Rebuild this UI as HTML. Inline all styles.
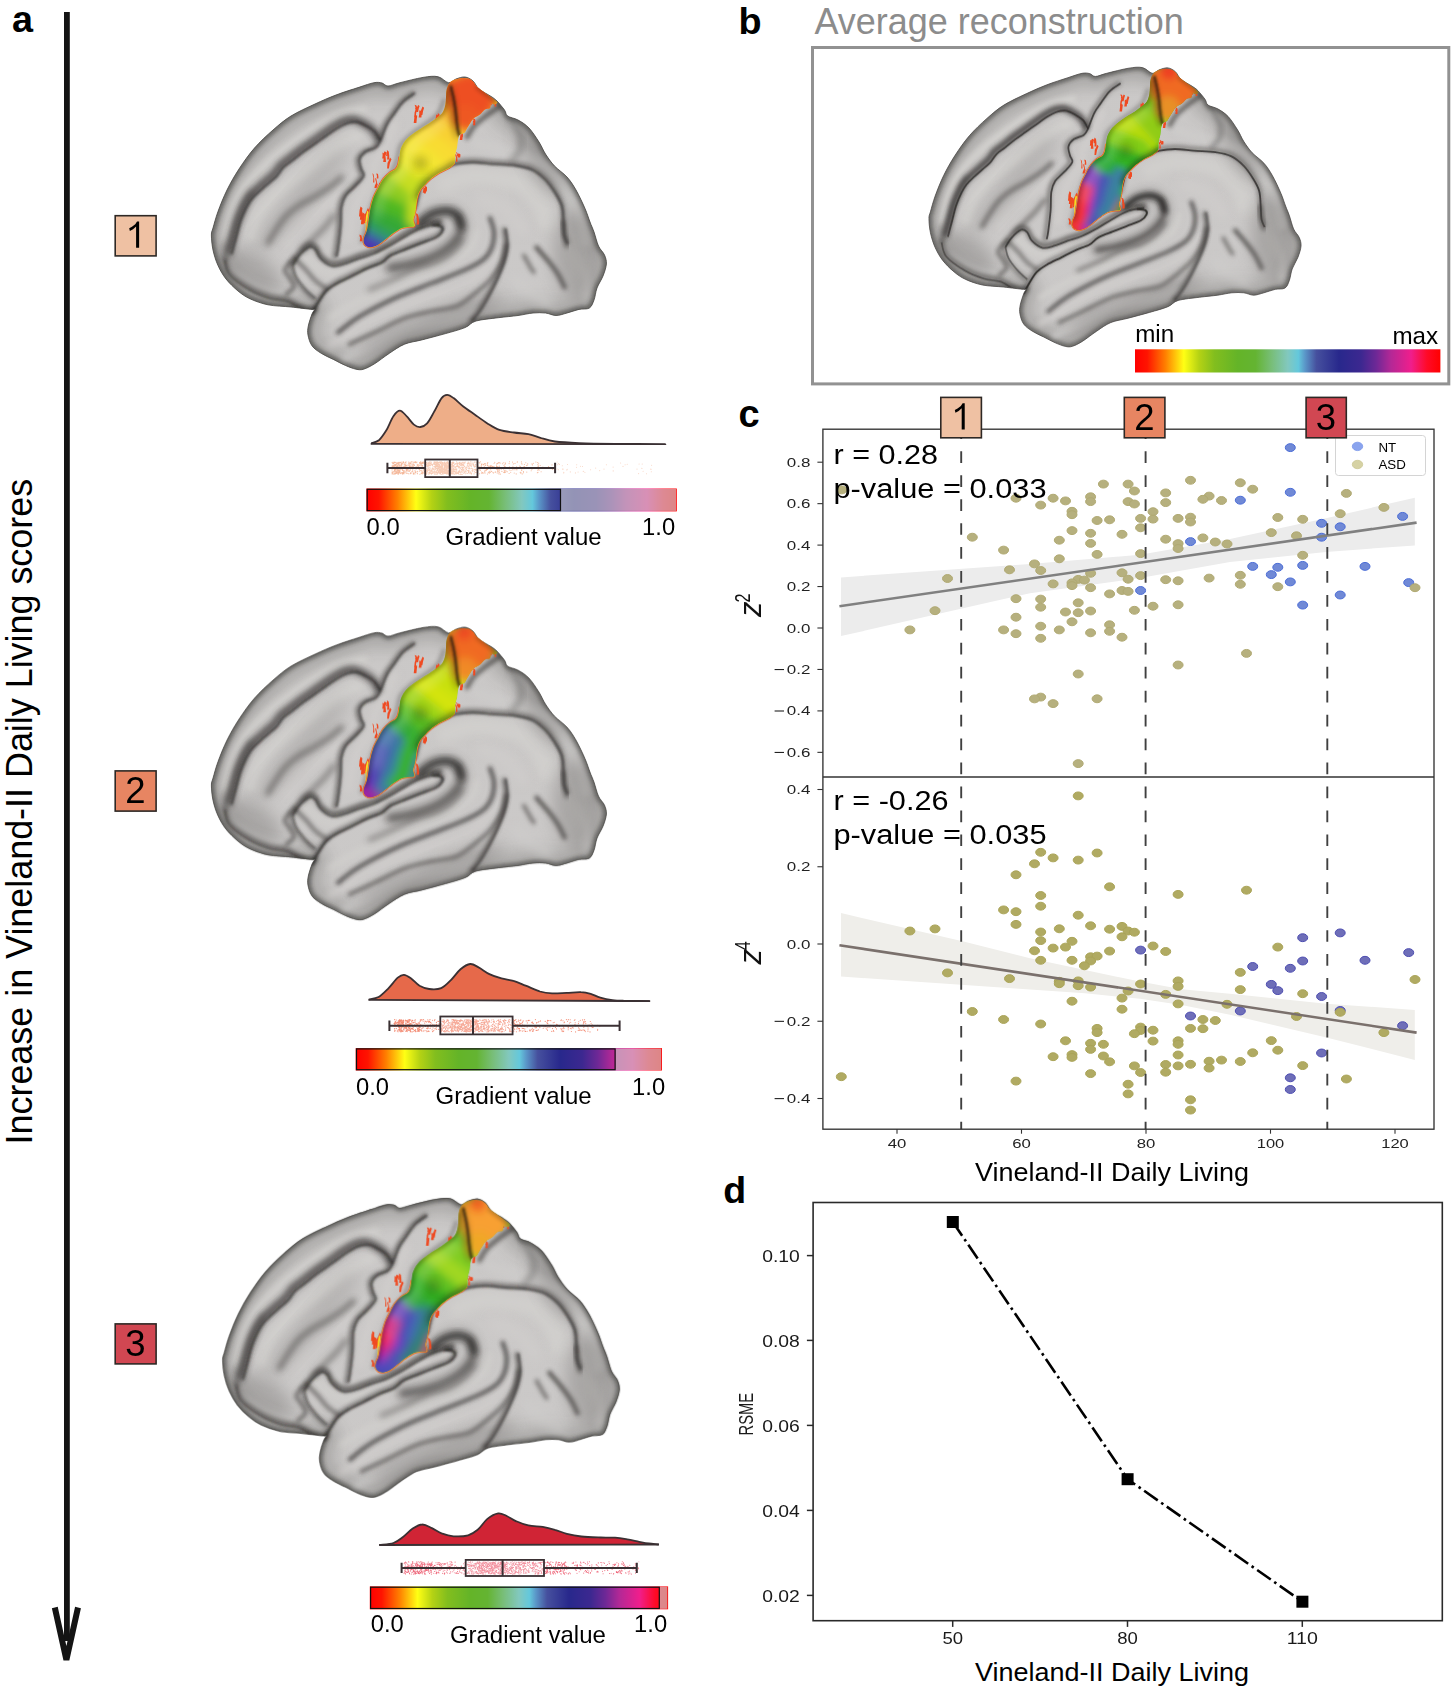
<!DOCTYPE html><html><head><meta charset="utf-8"><title>figure</title><style>html,body{margin:0;padding:0;background:#fff}svg{display:block}text{font-family:"Liberation Sans",sans-serif}</style></head><body>
<svg width="1452" height="1690" viewBox="0 0 1452 1690">
<defs>
<linearGradient id="cm" x1="0" x2="1" y1="0" y2="0"><stop offset="0%" stop-color="#ff0000"/><stop offset="4%" stop-color="#ff1400"/><stop offset="10%" stop-color="#ff8000"/><stop offset="16%" stop-color="#ffff14"/><stop offset="21%" stop-color="#b4d214"/><stop offset="26%" stop-color="#82be1e"/><stop offset="33.6%" stop-color="#64b428"/><stop offset="39.5%" stop-color="#64b432"/><stop offset="44.7%" stop-color="#78be78"/><stop offset="50%" stop-color="#82c8be"/><stop offset="53.5%" stop-color="#64c8dc"/><stop offset="55.7%" stop-color="#5a96c8"/><stop offset="59.4%" stop-color="#46509e"/><stop offset="66.8%" stop-color="#28288c"/><stop offset="74%" stop-color="#3c2890"/><stop offset="79%" stop-color="#6e2896"/><stop offset="83.8%" stop-color="#b42896"/><stop offset="90.4%" stop-color="#f01e8c"/><stop offset="95.6%" stop-color="#ff0a28"/><stop offset="100%" stop-color="#ff0000"/></linearGradient>
<filter id="b05" x="-50%" y="-50%" width="200%" height="200%"><feGaussianBlur stdDeviation="0.8"/></filter>
<filter id="b1" x="-50%" y="-50%" width="200%" height="200%"><feGaussianBlur stdDeviation="1"/></filter>
<filter id="b2" x="-50%" y="-50%" width="200%" height="200%"><feGaussianBlur stdDeviation="2"/></filter>
<filter id="b3" x="-50%" y="-50%" width="200%" height="200%"><feGaussianBlur stdDeviation="3"/></filter>
<filter id="b4" x="-50%" y="-50%" width="200%" height="200%"><feGaussianBlur stdDeviation="4"/></filter>
<filter id="b5" x="-50%" y="-50%" width="200%" height="200%"><feGaussianBlur stdDeviation="5"/></filter>
<filter id="b8" x="-50%" y="-50%" width="200%" height="200%"><feGaussianBlur stdDeviation="8"/></filter>
<clipPath id="bclip"><path d="M211.4,235.0C211.4,231.3 211.9,231.9 213.0,228.0C214.1,224.1 215.7,217.8 218.0,211.5C220.3,205.2 223.5,197.1 227.0,190.0C230.5,182.9 234.4,176.0 239.0,169.0C243.6,162.0 248.8,154.5 254.5,148.0C260.2,141.5 266.9,135.3 273.0,130.0C279.1,124.7 284.0,120.3 291.0,116.0C298.0,111.7 307.5,107.5 315.0,104.0C322.5,100.5 328.7,97.8 336.0,95.0C343.3,92.2 352.7,89.3 359.0,87.3C365.3,85.2 370.2,83.4 374.0,82.7C377.8,82.0 379.7,82.5 382.0,83.0C384.3,83.5 385.0,86.0 388.0,86.0C391.0,86.0 394.2,84.1 400.0,82.7C405.8,81.3 416.7,78.4 423.0,77.4C429.3,76.4 433.8,75.8 438.0,76.7C442.2,77.6 445.5,82.3 448.5,82.7C451.5,83.1 453.2,80.0 456.0,79.0C458.8,78.0 462.2,76.7 465.0,77.0C467.8,77.3 470.7,79.0 473.0,81.0C475.3,83.0 476.0,86.4 479.0,89.0C482.0,91.6 488.0,94.4 491.0,96.4C494.0,98.4 494.8,98.7 497.0,101.0C499.2,103.3 502.7,107.5 504.5,110.0C506.3,112.5 505.4,114.3 507.6,116.0C509.9,117.7 514.4,118.0 518.0,120.0C521.6,122.0 525.5,124.3 529.0,128.0C532.5,131.7 536.2,137.7 539.0,142.0C541.8,146.3 542.9,150.0 545.5,154.0C548.1,158.0 550.9,162.2 554.5,166.0C558.1,169.8 563.4,173.0 567.0,177.0C570.6,181.0 573.0,184.8 576.0,190.0C579.0,195.2 582.7,203.2 585.0,208.5C587.3,213.8 588.5,218.1 590.0,222.0C591.5,225.9 592.6,228.0 594.0,232.0C595.4,236.0 596.8,242.2 598.5,246.0C600.2,249.8 603.2,252.0 604.5,255.0C605.8,258.0 606.6,260.5 606.4,264.0C606.1,267.5 604.6,272.0 603.0,276.0C601.4,280.0 598.5,284.0 597.0,288.0C595.5,292.0 595.3,296.7 594.0,300.0C592.7,303.3 591.9,306.4 589.4,308.0C586.9,309.6 582.7,308.6 579.0,309.4C575.3,310.2 570.8,312.0 567.0,313.0C563.2,314.0 559.6,315.5 556.0,315.5C552.4,315.5 549.3,313.4 545.5,313.0C541.7,312.6 537.6,312.6 533.0,313.0C528.4,313.4 523.8,314.7 518.0,315.5C512.2,316.3 505.5,316.8 498.5,317.7C491.5,318.6 481.6,319.4 476.0,321.0C470.4,322.6 470.1,325.5 465.0,327.6C459.9,329.7 452.6,331.6 445.5,333.6C438.4,335.6 429.5,337.9 422.7,339.7C415.9,341.5 410.1,341.9 404.5,344.2C398.9,346.5 394.4,350.0 389.4,353.3C384.3,356.6 378.5,361.4 374.2,364.0C369.9,366.6 366.6,368.3 363.6,369.2C360.6,370.1 359.0,369.8 356.0,369.2C353.0,368.6 349.3,367.1 345.5,365.5C341.7,363.9 337.4,361.4 333.3,359.4C329.2,357.4 324.8,355.6 321.2,353.3C317.6,351.0 314.2,348.9 312.0,345.8C309.8,342.8 308.6,338.3 308.0,335.0C307.4,331.7 307.6,329.5 308.3,326.0C309.0,322.5 310.9,316.8 312.0,314.0C313.1,311.2 315.0,309.8 315.0,309.0C315.0,308.2 316.0,309.7 312.0,309.4C308.0,309.1 298.3,307.8 291.0,307.0C283.7,306.2 274.8,306.2 268.0,304.8C261.2,303.4 255.0,301.1 250.0,298.8C245.0,296.5 242.0,294.3 238.0,291.0C234.0,287.7 229.3,283.2 226.0,279.0C222.7,274.8 220.2,270.3 218.0,265.5C215.8,260.7 214.1,255.1 213.0,250.0C211.9,244.9 211.4,238.7 211.4,235.0Z"/></clipPath>
<clipPath id="sclip"><path d="M449.1,83.6C450.3,81.9 451.9,80.7 454.0,79.8C456.1,78.9 459.0,78.2 461.5,78.0C464.0,77.8 466.8,77.9 468.9,78.6C471.0,79.3 472.6,81.1 473.9,82.3C475.1,83.5 474.9,84.5 476.4,86.0C477.8,87.5 480.1,89.1 482.6,91.0C485.1,92.9 488.7,95.4 491.2,97.2C493.7,99.0 496.8,100.9 497.4,102.1C498.0,103.3 496.0,104.3 495.0,104.6C494.0,104.9 492.0,103.4 491.2,104.0C490.4,104.6 491.0,107.4 490.0,108.3C489.0,109.2 486.6,108.6 485.0,109.6C483.4,110.6 482.0,113.0 480.1,114.5C478.2,116.0 475.5,116.8 473.9,118.3C472.2,119.8 471.4,121.3 470.2,123.2C468.9,125.1 467.4,127.8 466.4,129.4C465.4,131.1 465.1,132.2 464.0,133.1C462.9,134.0 460.6,133.8 459.6,135.0C458.6,136.2 458.2,138.6 457.8,140.6C457.4,142.6 457.5,144.5 457.1,146.8C456.7,149.1 455.7,151.5 455.3,154.2C454.9,156.9 455.7,160.6 454.7,162.9C453.7,165.2 451.7,166.2 449.1,167.8C446.5,169.5 442.3,170.9 439.2,172.8C436.1,174.7 433.0,176.9 430.5,179.0C428.0,181.1 426.2,183.1 424.3,185.2C422.4,187.3 420.5,189.1 419.3,191.4C418.1,193.7 417.5,195.9 416.9,198.8C416.3,201.7 416.0,206.1 415.6,208.8C415.2,211.5 414.8,213.2 414.4,215.0C414.0,216.8 413.1,218.1 413.1,219.9C413.1,221.8 415.0,225.0 414.4,226.1C413.8,227.2 411.5,226.4 409.4,226.7C407.3,227.0 404.5,227.1 402.0,228.0C399.5,228.9 396.6,231.0 394.5,232.3C392.4,233.6 391.5,234.6 389.6,236.0C387.8,237.4 385.5,239.4 383.4,241.0C381.3,242.6 379.3,244.3 377.2,245.3C375.1,246.3 372.9,247.1 371.0,247.2C369.1,247.3 367.2,246.7 366.0,245.9C364.8,245.1 363.9,243.6 363.6,242.2C363.3,240.8 363.7,239.2 364.2,237.3C364.7,235.5 366.0,233.8 366.7,231.1C367.4,228.4 367.9,224.9 368.5,221.2C369.1,217.5 369.6,212.7 370.4,208.8C371.2,204.9 372.2,201.1 373.5,197.6C374.8,194.1 376.8,190.8 378.4,187.7C380.0,184.6 381.5,181.5 383.4,179.0C385.3,176.5 387.5,174.5 389.6,172.8C391.7,171.2 394.4,170.6 395.8,169.1C397.2,167.6 397.7,166.2 398.3,164.1C398.9,162.0 399.1,159.2 399.5,156.7C399.9,154.2 399.9,151.8 400.7,149.3C401.5,146.8 402.8,144.1 404.5,141.8C406.2,139.5 408.2,137.7 410.7,135.6C413.2,133.5 416.2,131.5 419.3,129.4C422.4,127.3 426.2,125.3 429.3,123.2C432.4,121.1 435.6,118.8 437.9,117.0C440.2,115.2 441.6,114.2 442.9,112.1C444.1,110.0 444.9,107.1 445.4,104.6C445.9,102.1 445.8,99.7 446.0,97.2C446.2,94.7 446.1,92.1 446.6,89.8C447.1,87.5 447.9,85.3 449.1,83.6Z"/></clipPath>
<linearGradient id="bg" gradientUnits="userSpaceOnUse" x1="300" y1="80" x2="450" y2="370"><stop offset="0" stop-color="#cac8c7"/><stop offset="1" stop-color="#cbc9c8"/></linearGradient>
<g id="brain">
<path d="M211.4,235.0C211.4,231.3 211.9,231.9 213.0,228.0C214.1,224.1 215.7,217.8 218.0,211.5C220.3,205.2 223.5,197.1 227.0,190.0C230.5,182.9 234.4,176.0 239.0,169.0C243.6,162.0 248.8,154.5 254.5,148.0C260.2,141.5 266.9,135.3 273.0,130.0C279.1,124.7 284.0,120.3 291.0,116.0C298.0,111.7 307.5,107.5 315.0,104.0C322.5,100.5 328.7,97.8 336.0,95.0C343.3,92.2 352.7,89.3 359.0,87.3C365.3,85.2 370.2,83.4 374.0,82.7C377.8,82.0 379.7,82.5 382.0,83.0C384.3,83.5 385.0,86.0 388.0,86.0C391.0,86.0 394.2,84.1 400.0,82.7C405.8,81.3 416.7,78.4 423.0,77.4C429.3,76.4 433.8,75.8 438.0,76.7C442.2,77.6 445.5,82.3 448.5,82.7C451.5,83.1 453.2,80.0 456.0,79.0C458.8,78.0 462.2,76.7 465.0,77.0C467.8,77.3 470.7,79.0 473.0,81.0C475.3,83.0 476.0,86.4 479.0,89.0C482.0,91.6 488.0,94.4 491.0,96.4C494.0,98.4 494.8,98.7 497.0,101.0C499.2,103.3 502.7,107.5 504.5,110.0C506.3,112.5 505.4,114.3 507.6,116.0C509.9,117.7 514.4,118.0 518.0,120.0C521.6,122.0 525.5,124.3 529.0,128.0C532.5,131.7 536.2,137.7 539.0,142.0C541.8,146.3 542.9,150.0 545.5,154.0C548.1,158.0 550.9,162.2 554.5,166.0C558.1,169.8 563.4,173.0 567.0,177.0C570.6,181.0 573.0,184.8 576.0,190.0C579.0,195.2 582.7,203.2 585.0,208.5C587.3,213.8 588.5,218.1 590.0,222.0C591.5,225.9 592.6,228.0 594.0,232.0C595.4,236.0 596.8,242.2 598.5,246.0C600.2,249.8 603.2,252.0 604.5,255.0C605.8,258.0 606.6,260.5 606.4,264.0C606.1,267.5 604.6,272.0 603.0,276.0C601.4,280.0 598.5,284.0 597.0,288.0C595.5,292.0 595.3,296.7 594.0,300.0C592.7,303.3 591.9,306.4 589.4,308.0C586.9,309.6 582.7,308.6 579.0,309.4C575.3,310.2 570.8,312.0 567.0,313.0C563.2,314.0 559.6,315.5 556.0,315.5C552.4,315.5 549.3,313.4 545.5,313.0C541.7,312.6 537.6,312.6 533.0,313.0C528.4,313.4 523.8,314.7 518.0,315.5C512.2,316.3 505.5,316.8 498.5,317.7C491.5,318.6 481.6,319.4 476.0,321.0C470.4,322.6 470.1,325.5 465.0,327.6C459.9,329.7 452.6,331.6 445.5,333.6C438.4,335.6 429.5,337.9 422.7,339.7C415.9,341.5 410.1,341.9 404.5,344.2C398.9,346.5 394.4,350.0 389.4,353.3C384.3,356.6 378.5,361.4 374.2,364.0C369.9,366.6 366.6,368.3 363.6,369.2C360.6,370.1 359.0,369.8 356.0,369.2C353.0,368.6 349.3,367.1 345.5,365.5C341.7,363.9 337.4,361.4 333.3,359.4C329.2,357.4 324.8,355.6 321.2,353.3C317.6,351.0 314.2,348.9 312.0,345.8C309.8,342.8 308.6,338.3 308.0,335.0C307.4,331.7 307.6,329.5 308.3,326.0C309.0,322.5 310.9,316.8 312.0,314.0C313.1,311.2 315.0,309.8 315.0,309.0C315.0,308.2 316.0,309.7 312.0,309.4C308.0,309.1 298.3,307.8 291.0,307.0C283.7,306.2 274.8,306.2 268.0,304.8C261.2,303.4 255.0,301.1 250.0,298.8C245.0,296.5 242.0,294.3 238.0,291.0C234.0,287.7 229.3,283.2 226.0,279.0C222.7,274.8 220.2,270.3 218.0,265.5C215.8,260.7 214.1,255.1 213.0,250.0C211.9,244.9 211.4,238.7 211.4,235.0Z" fill="url(#bg)"/>
<g clip-path="url(#bclip)">
<path d="M211.4,235.0C211.4,231.3 211.9,231.9 213.0,228.0C214.1,224.1 215.7,217.8 218.0,211.5C220.3,205.2 223.5,197.1 227.0,190.0C230.5,182.9 234.4,176.0 239.0,169.0C243.6,162.0 248.8,154.5 254.5,148.0C260.2,141.5 266.9,135.3 273.0,130.0C279.1,124.7 284.0,120.3 291.0,116.0C298.0,111.7 307.5,107.5 315.0,104.0C322.5,100.5 328.7,97.8 336.0,95.0C343.3,92.2 352.7,89.3 359.0,87.3C365.3,85.2 370.2,83.4 374.0,82.7C377.8,82.0 379.7,82.5 382.0,83.0C384.3,83.5 385.0,86.0 388.0,86.0C391.0,86.0 394.2,84.1 400.0,82.7C405.8,81.3 416.7,78.4 423.0,77.4C429.3,76.4 433.8,75.8 438.0,76.7C442.2,77.6 445.5,82.3 448.5,82.7C451.5,83.1 453.2,80.0 456.0,79.0C458.8,78.0 462.2,76.7 465.0,77.0C467.8,77.3 470.7,79.0 473.0,81.0C475.3,83.0 476.0,86.4 479.0,89.0C482.0,91.6 488.0,94.4 491.0,96.4C494.0,98.4 494.8,98.7 497.0,101.0C499.2,103.3 502.7,107.5 504.5,110.0C506.3,112.5 505.4,114.3 507.6,116.0C509.9,117.7 514.4,118.0 518.0,120.0C521.6,122.0 525.5,124.3 529.0,128.0C532.5,131.7 536.2,137.7 539.0,142.0C541.8,146.3 542.9,150.0 545.5,154.0C548.1,158.0 550.9,162.2 554.5,166.0C558.1,169.8 563.4,173.0 567.0,177.0C570.6,181.0 573.0,184.8 576.0,190.0C579.0,195.2 582.7,203.2 585.0,208.5C587.3,213.8 588.5,218.1 590.0,222.0C591.5,225.9 592.6,228.0 594.0,232.0C595.4,236.0 596.8,242.2 598.5,246.0C600.2,249.8 603.2,252.0 604.5,255.0C605.8,258.0 606.6,260.5 606.4,264.0C606.1,267.5 604.6,272.0 603.0,276.0C601.4,280.0 598.5,284.0 597.0,288.0C595.5,292.0 595.3,296.7 594.0,300.0C592.7,303.3 591.9,306.4 589.4,308.0C586.9,309.6 582.7,308.6 579.0,309.4C575.3,310.2 570.8,312.0 567.0,313.0C563.2,314.0 559.6,315.5 556.0,315.5C552.4,315.5 549.3,313.4 545.5,313.0C541.7,312.6 537.6,312.6 533.0,313.0C528.4,313.4 523.8,314.7 518.0,315.5C512.2,316.3 505.5,316.8 498.5,317.7C491.5,318.6 481.6,319.4 476.0,321.0C470.4,322.6 470.1,325.5 465.0,327.6C459.9,329.7 452.6,331.6 445.5,333.6C438.4,335.6 429.5,337.9 422.7,339.7C415.9,341.5 410.1,341.9 404.5,344.2C398.9,346.5 394.4,350.0 389.4,353.3C384.3,356.6 378.5,361.4 374.2,364.0C369.9,366.6 366.6,368.3 363.6,369.2C360.6,370.1 359.0,369.8 356.0,369.2C353.0,368.6 349.3,367.1 345.5,365.5C341.7,363.9 337.4,361.4 333.3,359.4C329.2,357.4 324.8,355.6 321.2,353.3C317.6,351.0 314.2,348.9 312.0,345.8C309.8,342.8 308.6,338.3 308.0,335.0C307.4,331.7 307.6,329.5 308.3,326.0C309.0,322.5 310.9,316.8 312.0,314.0C313.1,311.2 315.0,309.8 315.0,309.0C315.0,308.2 316.0,309.7 312.0,309.4C308.0,309.1 298.3,307.8 291.0,307.0C283.7,306.2 274.8,306.2 268.0,304.8C261.2,303.4 255.0,301.1 250.0,298.8C245.0,296.5 242.0,294.3 238.0,291.0C234.0,287.7 229.3,283.2 226.0,279.0C222.7,274.8 220.2,270.3 218.0,265.5C215.8,260.7 214.1,255.1 213.0,250.0C211.9,244.9 211.4,238.7 211.4,235.0Z" fill="none" stroke="#2c2a28" stroke-width="26" filter="url(#b8)" opacity=".2"/>
<path d="M211.4,235.0C211.4,231.3 211.9,231.9 213.0,228.0C214.1,224.1 215.7,217.8 218.0,211.5C220.3,205.2 223.5,197.1 227.0,190.0C230.5,182.9 234.4,176.0 239.0,169.0C243.6,162.0 248.8,154.5 254.5,148.0C260.2,141.5 266.9,135.3 273.0,130.0C279.1,124.7 284.0,120.3 291.0,116.0C298.0,111.7 307.5,107.5 315.0,104.0C322.5,100.5 328.7,97.8 336.0,95.0C343.3,92.2 352.7,89.3 359.0,87.3C365.3,85.2 370.2,83.4 374.0,82.7C377.8,82.0 379.7,82.5 382.0,83.0C384.3,83.5 385.0,86.0 388.0,86.0C391.0,86.0 394.2,84.1 400.0,82.7C405.8,81.3 416.7,78.4 423.0,77.4C429.3,76.4 433.8,75.8 438.0,76.7C442.2,77.6 445.5,82.3 448.5,82.7C451.5,83.1 453.2,80.0 456.0,79.0C458.8,78.0 462.2,76.7 465.0,77.0C467.8,77.3 470.7,79.0 473.0,81.0C475.3,83.0 476.0,86.4 479.0,89.0C482.0,91.6 488.0,94.4 491.0,96.4C494.0,98.4 494.8,98.7 497.0,101.0C499.2,103.3 502.7,107.5 504.5,110.0C506.3,112.5 505.4,114.3 507.6,116.0C509.9,117.7 514.4,118.0 518.0,120.0C521.6,122.0 525.5,124.3 529.0,128.0C532.5,131.7 536.2,137.7 539.0,142.0C541.8,146.3 542.9,150.0 545.5,154.0C548.1,158.0 550.9,162.2 554.5,166.0C558.1,169.8 563.4,173.0 567.0,177.0C570.6,181.0 573.0,184.8 576.0,190.0C579.0,195.2 582.7,203.2 585.0,208.5C587.3,213.8 588.5,218.1 590.0,222.0C591.5,225.9 592.6,228.0 594.0,232.0C595.4,236.0 596.8,242.2 598.5,246.0C600.2,249.8 603.2,252.0 604.5,255.0C605.8,258.0 606.6,260.5 606.4,264.0C606.1,267.5 604.6,272.0 603.0,276.0C601.4,280.0 598.5,284.0 597.0,288.0C595.5,292.0 595.3,296.7 594.0,300.0C592.7,303.3 591.9,306.4 589.4,308.0C586.9,309.6 582.7,308.6 579.0,309.4C575.3,310.2 570.8,312.0 567.0,313.0C563.2,314.0 559.6,315.5 556.0,315.5C552.4,315.5 549.3,313.4 545.5,313.0C541.7,312.6 537.6,312.6 533.0,313.0C528.4,313.4 523.8,314.7 518.0,315.5C512.2,316.3 505.5,316.8 498.5,317.7C491.5,318.6 481.6,319.4 476.0,321.0C470.4,322.6 470.1,325.5 465.0,327.6C459.9,329.7 452.6,331.6 445.5,333.6C438.4,335.6 429.5,337.9 422.7,339.7C415.9,341.5 410.1,341.9 404.5,344.2C398.9,346.5 394.4,350.0 389.4,353.3C384.3,356.6 378.5,361.4 374.2,364.0C369.9,366.6 366.6,368.3 363.6,369.2C360.6,370.1 359.0,369.8 356.0,369.2C353.0,368.6 349.3,367.1 345.5,365.5C341.7,363.9 337.4,361.4 333.3,359.4C329.2,357.4 324.8,355.6 321.2,353.3C317.6,351.0 314.2,348.9 312.0,345.8C309.8,342.8 308.6,338.3 308.0,335.0C307.4,331.7 307.6,329.5 308.3,326.0C309.0,322.5 310.9,316.8 312.0,314.0C313.1,311.2 315.0,309.8 315.0,309.0C315.0,308.2 316.0,309.7 312.0,309.4C308.0,309.1 298.3,307.8 291.0,307.0C283.7,306.2 274.8,306.2 268.0,304.8C261.2,303.4 255.0,301.1 250.0,298.8C245.0,296.5 242.0,294.3 238.0,291.0C234.0,287.7 229.3,283.2 226.0,279.0C222.7,274.8 220.2,270.3 218.0,265.5C215.8,260.7 214.1,255.1 213.0,250.0C211.9,244.9 211.4,238.7 211.4,235.0Z" fill="none" stroke="#2c2a28" stroke-width="6" filter="url(#b2)" opacity=".58"/>
<path d="M226.0,237.7C227.1,233.1 229.7,218.4 232.6,210.2C235.5,201.9 239.3,194.8 243.7,188.2C248.1,181.6 253.6,176.0 259.1,170.5C264.6,165.0 270.1,160.2 276.7,155.1C283.3,150.0 291.3,144.7 298.7,139.7C306.1,134.7 313.6,129.3 320.8,125.3C328.0,121.2 334.5,118.0 341.7,115.4C348.9,112.8 360.1,110.8 363.8,109.9" fill="none" stroke="#d2d0ce" stroke-width="8" stroke-linecap="round" filter="url(#b3)" opacity="0.9"/>
<path d="M251.4,237.7C252.7,234.0 255.6,222.1 259.1,215.7C262.6,209.3 267.2,204.5 272.3,199.2C277.4,193.9 283.6,188.8 289.9,183.7C296.1,178.5 303.2,173.4 309.8,168.3C316.4,163.2 323.4,157.5 329.6,152.9C335.8,148.3 342.4,143.6 347.2,140.8C352.0,138.1 356.4,137.1 358.3,136.4" fill="none" stroke="#d2d0ce" stroke-width="10" stroke-linecap="round" filter="url(#b3)" opacity="0.85"/>
<path d="M285.5,243.3C287.7,240.2 293.9,229.7 298.7,224.5C303.5,219.3 309.0,216.1 314.2,212.4C319.4,208.7 325.0,206.0 329.6,202.5C334.2,199.0 339.7,193.3 341.7,191.5" fill="none" stroke="#d0cecc" stroke-width="8" stroke-linecap="round" filter="url(#b3)" opacity="0.75"/>
<path d="M395.0,124.5C393.4,128.1 388.4,139.7 385.1,146.0C381.8,152.3 377.4,157.1 375.2,162.6C373.0,168.1 374.6,173.0 371.9,179.1C369.1,185.2 362.0,192.3 358.7,198.9C355.4,205.5 353.8,212.2 352.1,218.8C350.5,225.4 349.4,235.3 348.8,238.6" fill="none" stroke="#d0cecc" stroke-width="8" stroke-linecap="round" filter="url(#b3)" opacity="0.8"/>
<path d="M305.8,256.8C308.0,258.7 314.6,265.6 319.0,268.3C323.4,271.1 327.2,272.9 332.2,273.3C337.2,273.7 341.9,272.7 348.8,270.8C355.7,268.9 365.4,265.1 373.6,261.7C381.9,258.3 394.2,252.1 398.3,250.2" fill="none" stroke="#d2d0ce" stroke-width="6" stroke-linecap="round" filter="url(#b3)" opacity="0.8"/>
<path d="M444.5,184.5C448.6,183.1 460.5,177.4 469.3,176.3C478.1,175.2 488.6,176.5 497.4,177.9C506.2,179.3 515.3,180.6 522.2,184.5C529.1,188.4 534.7,194.8 538.8,201.1C542.9,207.4 545.6,219.0 547.0,222.6" fill="none" stroke="#d2d0ce" stroke-width="16" stroke-linecap="round" filter="url(#b5)" opacity="0.85"/>
<path d="M482.6,199.4C486.5,201.1 499.1,204.3 505.7,209.3C512.3,214.3 519.5,225.9 522.2,229.2" fill="none" stroke="#d0cecc" stroke-width="14" stroke-linecap="round" filter="url(#b5)" opacity="0.6"/>
<path d="M476.0,143.2C479.6,144.3 489.7,147.9 497.4,149.8C505.1,151.7 513.9,151.8 522.2,154.8C530.5,157.8 540.1,162.5 547.0,168.0C553.9,173.5 558.6,180.5 563.6,187.9C568.6,195.3 573.2,203.5 576.8,212.6C580.4,221.7 583.6,237.4 585.0,242.4" fill="none" stroke="#cecccb" stroke-width="10" stroke-linecap="round" filter="url(#b3)" opacity="0.7"/>
<path d="M330.0,318.0C333.7,315.8 342.8,309.7 352.0,305.0C361.2,300.3 373.7,295.0 385.0,290.0C396.3,285.0 409.2,279.7 420.0,275.0C430.8,270.3 441.7,266.5 450.0,262.0C458.3,257.5 465.7,253.0 470.0,248.0C474.3,243.0 475.0,234.7 476.0,232.0" fill="none" stroke="#d2d0ce" stroke-width="6" stroke-linecap="round" filter="url(#b3)" opacity="0.8"/>
<path d="M330.0,345.0C335.0,342.2 349.2,334.2 360.0,328.0C370.8,321.8 383.3,313.2 395.0,308.0C406.7,302.8 419.2,300.3 430.0,297.0C440.8,293.7 451.3,292.2 460.0,288.0C468.7,283.8 476.0,278.0 482.0,272.0C488.0,266.0 493.7,255.3 496.0,252.0" fill="none" stroke="#d0cecc" stroke-width="6" stroke-linecap="round" filter="url(#b3)" opacity="0.75"/>
<path d="M345.0,358.0C350.0,355.8 364.2,350.0 375.0,345.0C385.8,340.0 398.3,332.2 410.0,328.0C421.7,323.8 434.2,323.0 445.0,320.0C455.8,317.0 470.0,311.7 475.0,310.0" fill="none" stroke="#cecccb" stroke-width="7" stroke-linecap="round" filter="url(#b3)" opacity="0.7"/>
<path d="M515.6,278.8C518.1,281.0 525.3,288.1 530.5,292.0C535.7,295.9 544.2,300.2 547.0,301.9" fill="none" stroke="#cecccb" stroke-width="12" stroke-linecap="round" filter="url(#b5)" opacity="0.6"/>
<path d="M571.8,255.6C574.0,258.9 582.8,268.9 585.0,275.5C587.2,282.1 585.0,292.0 585.0,295.3" fill="none" stroke="#cccac8" stroke-width="8" stroke-linecap="round" filter="url(#b3)" opacity="0.6"/>
<path d="M390.0,245.7C392.8,245.0 401.0,243.0 406.5,241.6C412.0,240.2 418.4,238.8 423.1,237.4C427.8,236.0 432.7,234.0 434.6,233.3" fill="none" stroke="#d0cecc" stroke-width="9" stroke-linecap="round" filter="url(#b2)" opacity="0.9"/>
<path d="M233.1,273.3C236.4,274.9 246.0,280.4 252.9,283.2C259.8,285.9 267.8,288.3 274.4,289.8C281.0,291.3 289.6,291.9 292.6,292.3" fill="none" stroke="#cecccb" stroke-width="6" stroke-linecap="round" filter="url(#b3)" opacity="0.6"/>
<path d="M229.0,251.8C229.7,249.0 231.9,240.7 233.4,235.2C234.9,229.7 236.1,223.6 237.8,218.7C239.5,213.8 241.6,209.2 243.4,205.5C245.2,201.8 246.7,199.4 248.9,196.7C251.1,193.9 253.9,191.6 256.6,189.0C259.4,186.4 262.5,183.8 265.4,181.2C268.3,178.6 271.6,176.2 274.2,173.5C276.8,170.8 278.2,167.3 280.8,164.7C283.4,162.1 286.3,160.7 289.6,158.1C292.9,155.5 297.0,152.1 300.7,149.3C304.4,146.6 308.0,144.2 311.7,141.6C315.4,139.0 319.0,136.5 322.7,133.9C326.4,131.3 330.0,128.4 333.7,126.2C337.4,124.0 341.2,121.7 344.7,120.6C348.2,119.5 351.3,119.0 354.6,119.5C357.9,120.0 361.6,122.2 364.6,123.9C367.6,125.6 370.3,127.1 372.5,129.5C374.7,131.9 376.9,136.8 377.8,138.3" fill="none" stroke="#2e2c2a" stroke-width="7" stroke-linecap="round" filter="url(#b3)" opacity="0.8"/>
<path d="M267.9,243.3C269.0,241.5 271.6,236.6 274.5,232.2C277.4,227.8 281.5,221.2 285.5,216.8C289.5,212.4 293.9,209.1 298.7,205.8C303.5,202.5 309.0,200.1 314.2,197.0C319.4,193.9 325.0,190.4 329.6,187.1C334.2,183.8 339.7,178.8 341.7,177.1" fill="none" stroke="#3a3836" stroke-width="5" stroke-linecap="round" filter="url(#b3)" opacity="0.6"/>
<path d="M303.2,248.8C305.0,247.0 310.5,241.4 314.2,237.7C317.9,234.0 321.9,230.4 325.2,226.7C328.5,223.0 332.5,217.5 334.0,215.7" fill="none" stroke="#3a3836" stroke-width="5" stroke-linecap="round" filter="url(#b3)" opacity="0.5"/>
<path d="M224.8,260.1C225.4,258.2 226.4,253.7 228.1,248.5C229.8,243.3 232.2,235.0 234.7,228.7C237.2,222.4 240.2,216.6 243.0,210.5C245.8,204.4 249.8,195.3 251.2,192.3" fill="none" stroke="#3a3836" stroke-width="5" stroke-linecap="round" filter="url(#b3)" opacity="0.4"/>
<path d="M412.9,93.1C411.0,94.5 404.9,97.8 401.3,101.4C397.7,105.0 394.1,110.8 391.4,114.6C388.6,118.4 387.1,119.8 384.8,124.5C382.5,129.2 379.2,138.8 377.3,142.7C375.4,146.6 375.5,146.2 373.2,147.7C370.9,149.2 365.9,149.9 363.3,151.8C360.7,153.7 358.2,156.4 357.5,159.3C356.8,162.2 358.5,166.4 359.2,169.2C359.9,171.9 362.6,173.1 361.6,175.8C360.6,178.6 356.4,182.4 353.4,185.7C350.4,189.0 345.9,192.0 343.5,195.6C341.1,199.2 340.1,202.0 339.3,207.2C338.5,212.4 339.1,220.1 338.5,227.0C337.9,233.9 336.7,243.5 336.0,248.5C335.3,253.5 334.7,255.4 334.4,256.8" fill="none" stroke="#3a3836" stroke-width="4" stroke-linecap="round" filter="url(#b2)" opacity="0.6"/>
<path d="M292.6,262.5C293.7,260.9 296.4,255.6 299.2,252.6C301.9,249.6 306.4,245.4 309.1,244.4C311.9,243.4 313.8,244.9 315.7,246.8C317.6,248.7 317.9,253.1 320.7,255.9C323.4,258.7 328.1,262.6 332.2,263.4C336.3,264.2 341.1,262.1 345.5,260.9C349.9,259.6 354.0,257.5 358.7,255.9C363.4,254.2 368.4,253.2 373.6,251.0C378.8,248.8 384.6,245.7 390.1,242.7C395.6,239.7 401.1,235.8 406.6,232.8C412.1,229.8 417.5,226.4 423.1,224.5C428.7,222.6 437.2,221.8 440.0,221.2" fill="none" stroke="#3a3836" stroke-width="5" stroke-linecap="round" filter="url(#b2)" opacity="0.7"/>
<path d="M290.6,265.0C291.2,266.9 291.7,272.5 293.9,276.6C296.1,280.7 300.5,286.1 303.8,289.8C307.1,293.5 312.1,297.4 313.7,298.9" fill="none" stroke="#3a3836" stroke-width="4" stroke-linecap="round" filter="url(#b2)" opacity="0.5"/>
<path d="M224.8,258.1C225.6,260.6 225.7,268.1 229.8,273.0C233.9,277.9 243.0,283.9 249.6,287.8C256.2,291.7 263.1,294.2 269.4,296.1C275.7,298.0 282.6,297.8 287.6,299.4C292.6,301.0 295.6,303.9 299.2,306.0C302.8,308.1 307.5,310.8 309.1,311.8" fill="none" stroke="#3a3836" stroke-width="4" stroke-linecap="round" filter="url(#b2)" opacity="0.6"/>
<path d="M312.0,312.0C312.8,310.5 314.4,306.6 316.7,302.8C319.0,299.0 322.5,292.7 325.8,289.2C329.1,285.7 332.1,284.1 336.4,281.6C340.7,279.1 346.4,276.6 351.5,274.1C356.6,271.6 361.6,268.8 366.7,266.5C371.8,264.2 377.8,262.6 381.8,260.4C385.8,258.2 386.9,255.4 390.9,253.2C394.9,251.0 400.9,249.0 406.0,247.0C411.1,245.0 416.1,243.0 421.2,241.0C426.3,239.0 432.9,237.0 436.4,235.0C439.9,233.0 441.6,230.7 442.4,228.9C443.2,227.1 442.7,225.4 441.0,224.4C439.3,223.4 433.5,223.2 432.0,223.0" fill="none" stroke="#2a2826" stroke-width="3.5" stroke-linecap="round" filter="url(#b2)" opacity="0.55"/>
<path d="M414.8,207.3C415.4,205.1 417.1,197.9 418.1,194.1C419.1,190.2 419.2,187.2 420.6,184.2C422.0,181.2 423.2,178.7 426.4,175.9C429.6,173.2 434.7,170.0 439.6,167.7C444.6,165.4 450.6,163.2 456.1,161.9C461.6,160.7 466.5,160.2 472.6,160.2C478.7,160.2 485.3,161.3 492.5,161.9C499.7,162.5 509.0,162.5 515.6,163.5C522.2,164.5 527.1,165.3 532.1,167.7C537.1,170.0 541.5,173.8 545.4,177.6C549.3,181.4 552.5,186.4 555.3,190.8C558.0,195.2 560.5,199.0 561.9,204.0C563.3,209.0 563.2,215.6 563.6,220.6C564.0,225.6 563.7,230.2 564.4,233.8C565.1,237.4 567.2,240.6 567.7,242.0" fill="none" stroke="#3a3836" stroke-width="4" stroke-linecap="round" filter="url(#b2)" opacity="0.55"/>
<path d="M419.8,222.6C422.0,221.1 428.3,215.4 433.0,213.5C437.7,211.6 443.8,210.6 447.9,211.0C452.0,211.4 455.6,213.4 457.8,216.0C460.1,218.6 460.8,224.9 461.4,226.7" fill="none" stroke="#1e1c1a" stroke-width="6" stroke-linecap="round" filter="url(#b3)" opacity="0.9"/>
<path d="M457.8,216.0C458.4,217.8 461.4,223.1 461.4,226.7C461.4,230.3 460.3,233.7 457.8,237.4C455.3,241.1 450.6,245.7 446.2,249.0C441.8,252.3 437.1,254.8 431.3,257.3C425.5,259.8 418.4,262.1 411.5,263.9C404.6,265.7 393.6,267.3 390.0,268.0" fill="none" stroke="#2a2826" stroke-width="5" stroke-linecap="round" filter="url(#b3)" opacity="0.6"/>
<path d="M419.8,222.6C422.0,221.1 428.3,215.4 433.0,213.5C437.7,211.6 443.8,210.6 447.9,211.0C452.0,211.4 455.6,213.4 457.8,216.0C460.1,218.6 461.4,223.1 461.4,226.7C461.4,230.3 460.3,233.7 457.8,237.4C455.3,241.1 450.6,245.7 446.2,249.0C441.8,252.3 437.1,254.8 431.3,257.3C425.5,259.8 418.4,262.1 411.5,263.9C404.6,265.7 393.6,267.3 390.0,268.0" fill="none" stroke="#3a3836" stroke-width="12" stroke-linecap="round" filter="url(#b5)" opacity="0.35"/>
<path d="M338.0,332.6C340.3,330.8 347.3,324.8 352.0,321.5C356.7,318.2 358.2,316.9 366.0,312.7C373.8,308.5 388.0,301.1 399.0,296.2C410.0,291.2 421.0,287.4 432.0,283.0C443.0,278.6 456.3,273.8 465.0,269.8C473.7,265.8 479.5,262.8 484.0,259.0C488.5,255.2 490.3,251.5 492.0,247.0C493.7,242.5 494.3,236.8 494.0,232.0C493.7,227.2 490.7,220.3 490.0,218.0" fill="none" stroke="#2e2c2a" stroke-width="4" stroke-linecap="round" filter="url(#b2)" opacity="0.75"/>
<path d="M349.6,344.1C353.7,342.2 365.0,337.0 374.4,332.6C383.8,328.2 396.2,321.3 405.8,317.7C415.4,314.1 423.7,313.0 432.2,311.1C440.7,309.2 450.1,308.9 457.0,306.1C463.9,303.3 468.1,298.9 473.6,294.5C479.1,290.1 485.3,285.4 490.0,280.0C494.7,274.6 499.3,267.8 502.0,262.0C504.7,256.2 505.3,247.8 506.0,245.0" fill="none" stroke="#3a3836" stroke-width="4" stroke-linecap="round" filter="url(#b2)" opacity="0.6"/>
<path d="M369.4,289.6C373.3,288.0 384.9,283.3 392.6,279.7C400.3,276.1 408.3,271.1 415.7,268.1C423.1,265.1 431.1,264.2 437.2,261.5C443.2,258.8 447.9,255.6 452.0,252.0C456.1,248.4 460.3,242.0 462.0,240.0" fill="none" stroke="#3a3836" stroke-width="4" stroke-linecap="round" filter="url(#b3)" opacity="0.5"/>
<path d="M504.2,229.2C504.5,231.9 506.2,240.2 505.9,245.7C505.6,251.2 504.2,256.7 502.5,262.2C500.8,267.7 498.4,273.3 495.9,278.8C493.4,284.3 490.7,289.8 487.7,295.3C484.7,300.8 480.6,307.7 477.8,311.8C475.0,315.9 472.2,318.7 471.1,320.1" fill="none" stroke="#3a3836" stroke-width="4" stroke-linecap="round" filter="url(#b2)" opacity="0.7"/>
<path d="M505.7,229.2C506.0,231.9 507.7,240.2 507.4,245.7C507.1,251.2 505.7,256.7 504.0,262.2C502.3,267.7 499.9,273.3 497.4,278.8C494.9,284.3 492.2,289.8 489.2,295.3C486.2,300.8 482.1,307.7 479.3,311.8C476.5,315.9 473.7,318.7 472.6,320.1" fill="none" stroke="#2a2826" stroke-width="2" stroke-linecap="round" filter="url(#b1)" opacity="0.6"/>
<path d="M523.9,255.6C525.0,257.5 528.9,264.4 530.5,267.2C532.1,269.9 533.2,271.3 533.8,272.1" fill="none" stroke="#3a3836" stroke-width="4" stroke-linecap="round" filter="url(#b2)" opacity="0.55"/>
<path d="M536.5,247.5C538.4,249.7 544.4,256.3 548.0,260.7C551.6,265.1 555.1,269.6 557.9,274.0C560.7,278.4 563.5,285.0 564.6,287.2" fill="none" stroke="#3a3836" stroke-width="4.5" stroke-linecap="round" filter="url(#b2)" opacity="0.75"/>
<path d="M562.7,222.6C563.0,224.8 563.7,232.0 564.4,235.8C565.1,239.7 566.5,244.0 566.9,245.7" fill="none" stroke="#3a3836" stroke-width="5" stroke-linecap="round" filter="url(#b2)" opacity="0.6"/>
<path d="M500.0,106.0C497.8,107.5 491.3,111.7 487.0,115.0C482.7,118.3 477.3,122.3 474.0,126.0C470.7,129.7 468.2,135.2 467.0,137.0" fill="none" stroke="#3a3836" stroke-width="5" stroke-linecap="round" filter="url(#b2)" opacity="0.65"/>
<path d="M510.0,118.0C511.7,120.8 518.3,129.7 520.0,135.0C521.7,140.3 521.3,145.8 520.0,150.0C518.7,154.2 513.3,158.3 512.0,160.0" fill="none" stroke="#4a4846" stroke-width="5" stroke-linecap="round" filter="url(#b3)" opacity="0.4"/>
<path d="M286.4,294.2C287.6,292.9 293.4,289.5 293.9,286.7C294.4,283.9 290.9,280.4 289.4,277.6C287.9,274.8 284.6,272.8 284.8,270.0C285.1,267.2 289.9,262.4 290.9,260.9" fill="none" stroke="#3a3836" stroke-width="4" stroke-linecap="round" filter="url(#b2)" opacity="0.6"/>
<path d="M293.9,257.9C295.9,259.9 302.6,266.2 306.1,270.0C309.7,273.8 311.9,277.6 315.2,280.6C318.5,283.6 324.0,286.9 325.8,288.2" fill="none" stroke="#3a3836" stroke-width="4" stroke-linecap="round" filter="url(#b2)" opacity="0.55"/>
<path d="M444.0,100.0C443.0,102.3 441.0,110.0 438.0,114.0C435.0,118.0 430.3,120.7 426.0,124.0C421.7,127.3 416.2,130.5 412.0,134.0C407.8,137.5 403.5,140.7 401.0,145.0C398.5,149.3 398.5,155.5 397.0,160.0C395.5,164.5 394.5,168.0 392.0,172.0C389.5,176.0 384.8,179.7 382.0,184.0C379.2,188.3 377.0,193.3 375.0,198.0C373.0,202.7 371.5,207.0 370.0,212.0C368.5,217.0 367.3,223.0 366.0,228.0C364.7,233.0 362.7,239.7 362.0,242.0" fill="none" stroke="#3a3836" stroke-width="3" stroke-linecap="round" filter="url(#b2)" opacity="0.5"/>
<g filter="url(#b05)">
<path d="M231.5,254.3C232.2,251.5 234.4,243.2 235.9,237.7C237.4,232.2 238.6,226.1 240.3,221.2C242.0,216.2 244.1,211.7 245.9,208.0C247.8,204.3 249.2,201.9 251.4,199.2C253.6,196.4 256.4,194.1 259.1,191.5C261.9,188.9 265.0,186.3 267.9,183.7C270.8,181.1 274.1,178.8 276.7,176.0C279.3,173.2 280.7,169.8 283.3,167.2C285.9,164.6 288.8,163.2 292.1,160.6C295.4,158.0 299.5,154.6 303.2,151.8C306.9,149.1 310.5,146.7 314.2,144.1C317.9,141.5 321.5,139.0 325.2,136.4C328.9,133.8 332.5,130.9 336.2,128.7C339.9,126.5 343.7,124.2 347.2,123.1C350.7,122.0 353.8,121.5 357.1,122.0C360.4,122.5 364.1,124.7 367.1,126.4C370.1,128.1 372.8,129.6 375.0,132.0C377.2,134.4 379.4,139.3 380.3,140.8" fill="none" stroke="#2e2c2a" stroke-width="1.9" opacity="0.8"/>
<path d="M414.9,93.1C413.0,94.5 406.9,97.8 403.3,101.4C399.7,105.0 396.1,110.8 393.4,114.6C390.6,118.4 389.1,119.8 386.8,124.5C384.5,129.2 381.2,138.8 379.3,142.7C377.4,146.6 377.5,146.2 375.2,147.7C372.9,149.2 367.9,149.9 365.3,151.8C362.7,153.7 360.2,156.4 359.5,159.3C358.8,162.2 360.5,166.4 361.2,169.2C361.9,171.9 364.6,173.1 363.6,175.8C362.6,178.6 358.4,182.4 355.4,185.7C352.4,189.0 347.9,192.0 345.5,195.6C343.1,199.2 342.1,202.0 341.3,207.2C340.5,212.4 341.1,220.1 340.5,227.0C339.9,233.9 338.7,243.5 338.0,248.5C337.3,253.5 336.7,255.4 336.4,256.8" fill="none" stroke="#2e2c2a" stroke-width="1.9" opacity="0.8"/>
<path d="M292.6,265.0C293.7,263.4 296.4,258.1 299.2,255.1C301.9,252.1 306.4,247.9 309.1,246.9C311.9,245.9 313.8,247.4 315.7,249.3C317.6,251.2 317.9,255.6 320.7,258.4C323.4,261.2 328.1,265.1 332.2,265.9C336.3,266.7 341.1,264.6 345.5,263.4C349.9,262.1 354.0,260.0 358.7,258.4C363.4,256.8 368.4,255.7 373.6,253.5C378.8,251.3 384.6,248.2 390.1,245.2C395.6,242.2 401.1,238.3 406.6,235.3C412.1,232.3 417.5,228.9 423.1,227.0C428.7,225.1 437.2,224.2 440.0,223.7" fill="none" stroke="#2e2c2a" stroke-width="1.9" opacity="0.75"/>
<path d="M292.6,265.0C293.2,266.9 293.7,272.5 295.9,276.6C298.1,280.7 302.5,286.1 305.8,289.8C309.1,293.5 314.1,297.4 315.7,298.9" fill="none" stroke="#2e2c2a" stroke-width="1.8" opacity="0.5"/>
<path d="M224.8,260.1C225.6,262.6 225.7,270.1 229.8,275.0C233.9,279.9 243.0,285.9 249.6,289.8C256.2,293.7 263.1,296.2 269.4,298.1C275.7,300.0 282.6,299.8 287.6,301.4C292.6,303.0 295.6,305.9 299.2,308.0C302.8,310.1 307.5,312.8 309.1,313.8" fill="none" stroke="#2e2c2a" stroke-width="1.8" opacity="0.6"/>
<path d="M312.0,314.0C312.8,312.5 314.4,308.6 316.7,304.8C319.0,301.0 322.5,294.7 325.8,291.2C329.1,287.7 332.1,286.1 336.4,283.6C340.7,281.1 346.4,278.6 351.5,276.1C356.6,273.6 361.6,270.8 366.7,268.5C371.8,266.2 377.8,264.6 381.8,262.4C385.8,260.2 386.9,257.4 390.9,255.2C394.9,253.0 400.9,251.0 406.0,249.0C411.1,247.0 416.1,245.0 421.2,243.0C426.3,241.0 432.9,239.0 436.4,237.0C439.9,235.0 441.6,232.7 442.4,230.9C443.2,229.1 442.7,227.4 441.0,226.4C439.3,225.4 433.5,225.2 432.0,225.0" fill="none" stroke="#2a2826" stroke-width="2" opacity="0.9"/>
<path d="M414.8,209.3C415.4,207.1 417.1,199.9 418.1,196.1C419.1,192.2 419.2,189.2 420.6,186.2C422.0,183.2 423.2,180.7 426.4,177.9C429.6,175.2 434.7,172.0 439.6,169.7C444.6,167.4 450.6,165.2 456.1,163.9C461.6,162.7 466.5,162.2 472.6,162.2C478.7,162.2 485.3,163.3 492.5,163.9C499.7,164.5 509.0,164.5 515.6,165.5C522.2,166.5 527.1,167.3 532.1,169.7C537.1,172.0 541.5,175.8 545.4,179.6C549.3,183.4 552.5,188.4 555.3,192.8C558.0,197.2 560.5,201.0 561.9,206.0C563.3,211.0 563.2,217.6 563.6,222.6C564.0,227.6 563.7,232.2 564.4,235.8C565.1,239.4 567.2,242.6 567.7,244.0" fill="none" stroke="#2e2c2a" stroke-width="1.9" opacity="0.85"/>
</g>
<ellipse cx="575" cy="255" rx="22" ry="45" fill="#6a6866" filter="url(#b8)" opacity=".35"/>
<ellipse cx="430" cy="325" rx="80" ry="12" transform="rotate(-22 430 325)" fill="#6a6866" filter="url(#b8)" opacity=".35"/>
<ellipse cx="250" cy="270" rx="35" ry="16" transform="rotate(30 250 270)" fill="#6a6866" filter="url(#b8)" opacity=".35"/>
<ellipse cx="300" cy="200" rx="70" ry="10" transform="rotate(-48 300 200)" fill="#6a6866" filter="url(#b8)" opacity=".25"/>
<ellipse cx="540" cy="160" rx="14" ry="40" transform="rotate(-30 540 160)" fill="#6a6866" filter="url(#b8)" opacity=".3"/>
</g>
<path d="M211.4,235.0C211.4,231.3 211.9,231.9 213.0,228.0C214.1,224.1 215.7,217.8 218.0,211.5C220.3,205.2 223.5,197.1 227.0,190.0C230.5,182.9 234.4,176.0 239.0,169.0C243.6,162.0 248.8,154.5 254.5,148.0C260.2,141.5 266.9,135.3 273.0,130.0C279.1,124.7 284.0,120.3 291.0,116.0C298.0,111.7 307.5,107.5 315.0,104.0C322.5,100.5 328.7,97.8 336.0,95.0C343.3,92.2 352.7,89.3 359.0,87.3C365.3,85.2 370.2,83.4 374.0,82.7C377.8,82.0 379.7,82.5 382.0,83.0C384.3,83.5 385.0,86.0 388.0,86.0C391.0,86.0 394.2,84.1 400.0,82.7C405.8,81.3 416.7,78.4 423.0,77.4C429.3,76.4 433.8,75.8 438.0,76.7C442.2,77.6 445.5,82.3 448.5,82.7C451.5,83.1 453.2,80.0 456.0,79.0C458.8,78.0 462.2,76.7 465.0,77.0C467.8,77.3 470.7,79.0 473.0,81.0C475.3,83.0 476.0,86.4 479.0,89.0C482.0,91.6 488.0,94.4 491.0,96.4C494.0,98.4 494.8,98.7 497.0,101.0C499.2,103.3 502.7,107.5 504.5,110.0C506.3,112.5 505.4,114.3 507.6,116.0C509.9,117.7 514.4,118.0 518.0,120.0C521.6,122.0 525.5,124.3 529.0,128.0C532.5,131.7 536.2,137.7 539.0,142.0C541.8,146.3 542.9,150.0 545.5,154.0C548.1,158.0 550.9,162.2 554.5,166.0C558.1,169.8 563.4,173.0 567.0,177.0C570.6,181.0 573.0,184.8 576.0,190.0C579.0,195.2 582.7,203.2 585.0,208.5C587.3,213.8 588.5,218.1 590.0,222.0C591.5,225.9 592.6,228.0 594.0,232.0C595.4,236.0 596.8,242.2 598.5,246.0C600.2,249.8 603.2,252.0 604.5,255.0C605.8,258.0 606.6,260.5 606.4,264.0C606.1,267.5 604.6,272.0 603.0,276.0C601.4,280.0 598.5,284.0 597.0,288.0C595.5,292.0 595.3,296.7 594.0,300.0C592.7,303.3 591.9,306.4 589.4,308.0C586.9,309.6 582.7,308.6 579.0,309.4C575.3,310.2 570.8,312.0 567.0,313.0C563.2,314.0 559.6,315.5 556.0,315.5C552.4,315.5 549.3,313.4 545.5,313.0C541.7,312.6 537.6,312.6 533.0,313.0C528.4,313.4 523.8,314.7 518.0,315.5C512.2,316.3 505.5,316.8 498.5,317.7C491.5,318.6 481.6,319.4 476.0,321.0C470.4,322.6 470.1,325.5 465.0,327.6C459.9,329.7 452.6,331.6 445.5,333.6C438.4,335.6 429.5,337.9 422.7,339.7C415.9,341.5 410.1,341.9 404.5,344.2C398.9,346.5 394.4,350.0 389.4,353.3C384.3,356.6 378.5,361.4 374.2,364.0C369.9,366.6 366.6,368.3 363.6,369.2C360.6,370.1 359.0,369.8 356.0,369.2C353.0,368.6 349.3,367.1 345.5,365.5C341.7,363.9 337.4,361.4 333.3,359.4C329.2,357.4 324.8,355.6 321.2,353.3C317.6,351.0 314.2,348.9 312.0,345.8C309.8,342.8 308.6,338.3 308.0,335.0C307.4,331.7 307.6,329.5 308.3,326.0C309.0,322.5 310.9,316.8 312.0,314.0C313.1,311.2 315.0,309.8 315.0,309.0C315.0,308.2 316.0,309.7 312.0,309.4C308.0,309.1 298.3,307.8 291.0,307.0C283.7,306.2 274.8,306.2 268.0,304.8C261.2,303.4 255.0,301.1 250.0,298.8C245.0,296.5 242.0,294.3 238.0,291.0C234.0,287.7 229.3,283.2 226.0,279.0C222.7,274.8 220.2,270.3 218.0,265.5C215.8,260.7 214.1,255.1 213.0,250.0C211.9,244.9 211.4,238.7 211.4,235.0Z" fill="none" stroke="#4a4846" stroke-width="1" opacity=".8"/>
</g>
<g id="sshade">
<path d="M377.2,215.0C378.0,211.9 379.6,202.0 382.1,196.4C384.6,190.8 388.4,186.1 392.1,181.5C395.8,176.9 401.6,174.1 404.5,169.1C407.4,164.1 406.9,156.7 409.4,151.7C411.9,146.7 415.2,143.0 419.3,139.3C423.4,135.6 430.1,132.7 434.2,129.4C438.3,126.1 442.5,121.2 444.1,119.5" fill="none" stroke="#fff" stroke-width="8" stroke-linecap="round" filter="url(#b5)" opacity=".2"/>
<path d="M455.3,164.1C453.9,165.0 449.7,167.8 446.6,169.7C443.5,171.6 439.8,173.2 436.7,175.3C433.6,177.4 430.4,179.8 428.0,182.1C425.6,184.4 423.9,186.5 422.4,188.9C420.8,191.3 419.3,195.2 418.7,196.4" fill="none" stroke="#1a1a10" stroke-width="7" stroke-linecap="round" filter="url(#b3)" opacity=".5"/>
<circle cx="420.6" cy="162.9" r="6" fill="#3a3a10" filter="url(#b5)" opacity=".35"/>
<path d="M450.9,86.7C451.3,88.5 452.6,93.4 453.4,97.2C454.2,101.0 455.0,105.9 455.5,109.6C456.0,113.3 456.1,116.2 456.5,119.5C456.9,122.8 457.3,126.7 457.8,129.4C458.3,132.1 459.1,134.6 459.3,135.6" fill="none" stroke="#1a1408" stroke-width="2.6" stroke-linecap="round" filter="url(#b1)" opacity=".75"/>
<path d="M448.9,86.7C449.3,88.5 450.6,93.4 451.4,97.2C452.2,101.0 453.0,105.9 453.5,109.6C454.0,113.3 454.1,116.2 454.5,119.5C454.9,122.8 455.3,126.7 455.8,129.4C456.3,132.1 457.1,134.6 457.3,135.6" fill="none" stroke="#1a1408" stroke-width="5" stroke-linecap="round" filter="url(#b3)" opacity=".35"/>
<path d="M364.2,237.3C364.6,236.3 366.0,233.8 366.7,231.1C367.4,228.4 367.9,224.9 368.5,221.2C369.1,217.5 369.6,212.7 370.4,208.8C371.2,204.9 372.2,201.1 373.5,197.6C374.8,194.1 376.8,190.8 378.4,187.7C380.0,184.6 381.5,181.5 383.4,179.0C385.3,176.5 387.5,174.5 389.6,172.8C391.7,171.2 394.4,170.6 395.8,169.1C397.2,167.6 397.7,166.2 398.3,164.1C398.9,162.0 399.1,159.2 399.5,156.7C399.9,154.2 399.9,151.8 400.7,149.3C401.5,146.8 402.8,144.1 404.5,141.8C406.2,139.5 408.2,137.7 410.7,135.6C413.2,133.5 416.2,131.5 419.3,129.4C422.4,127.3 426.2,125.3 429.3,123.2C432.4,121.1 435.6,118.8 437.9,117.0C440.2,115.2 441.6,114.2 442.9,112.1C444.1,110.0 444.9,107.1 445.4,104.6C445.9,102.1 445.8,99.7 446.0,97.2C446.2,94.7 446.5,91.0 446.6,89.8" fill="none" stroke="#201808" stroke-width="3" filter="url(#b2)" opacity=".45"/>
<path d="M476.4,86.0C477.4,86.8 480.1,89.1 482.6,91.0C485.1,92.9 488.7,95.4 491.2,97.2C493.7,99.0 496.4,101.3 497.4,102.1" fill="none" stroke="#201808" stroke-width="3" filter="url(#b2)" opacity=".4"/>
</g>
</defs>
<rect width="1452" height="1690" fill="#fff"/>
<text x="12" y="31.7" font-size="37.8" font-weight="bold" fill="#000">a</text>
<text x="738.6" y="34.4" font-size="37.8" font-weight="bold" fill="#000">b</text>
<text x="738.4" y="427.3" font-size="38" font-weight="bold" fill="#000">c</text>
<text x="723.2" y="1202.9" font-size="37.5" font-weight="bold" fill="#000">d</text>
<text x="814.4" y="33.7" font-size="37.2" textLength="369.5" lengthAdjust="spacingAndGlyphs" fill="#8c8c8c">Average reconstruction</text>
<rect x="64" y="12" width="5.8" height="1629" fill="#141414"/>
<path d="M54.8,1607.5L66.4,1659.8L78,1607.5" fill="none" stroke="#141414" stroke-width="6" stroke-linejoin="bevel"/>
<text transform="translate(31.5,1144.4) rotate(-90)" font-size="36.8" fill="#000" textLength="665.5" lengthAdjust="spacingAndGlyphs">Increase in Vineland-II Daily Living scores</text>
<g transform="translate(0,0) scale(1,1)">
<use href="#brain"/>
<g clip-path="url(#bclip)"><path d="M418.7,117.4 L419.3,113.8 L419.2,112.0 L419.5,110.2 L421.6,111.3 L421.7,114.2 L421.4,117.4 Z" fill="#ef4a22"/><path d="M420.4,114.9 L420.8,110.7 L421.7,108.6 L422.5,106.5 L424.1,107.7 L423.1,111.1 L422.4,114.9 Z" fill="#ef4a22"/><path d="M414.3,117.3 L414.6,112.5 L415.4,110.1 L416.2,107.6 L417.3,109.1 L416.2,113.0 L415.6,117.3 Z" fill="#ef4a22"/><path d="M413.7,122.9 L414.2,118.7 L414.5,116.5 L415.0,114.4 L417.2,115.7 L416.8,119.1 L416.4,122.9 Z" fill="#ef4a22"/><path d="M415.1,109.2 L415.5,107.0 L414.9,105.9 L414.8,104.8 L416.5,105.4 L417.1,107.2 L417.1,109.2 Z" fill="#ef4a22"/><path d="M416.1,112.0 L416.5,108.5 L417.3,106.7 L418.1,104.9 L419.6,106.0 L418.7,108.8 L418.1,112.0 Z" fill="#ef4a22"/><path d="M437.5,117.5 L437.9,115.4 L437.7,114.3 L437.8,113.2 L439.4,113.9 L439.6,115.6 L439.5,117.5 Z" fill="#ef4a22"/><path d="M435.4,119.2 L435.9,116.9 L436.0,115.7 L436.3,114.5 L438.6,115.2 L438.5,117.1 L438.2,119.2 Z" fill="#ef4a22"/><path d="M386.1,156.0 L386.4,153.8 L386.7,152.7 L387.1,151.5 L388.4,152.2 L388.0,154.0 L387.7,156.0 Z" fill="#ef4a22"/><path d="M387.1,168.4 L387.5,163.0 L388.9,160.3 L390.0,157.6 L391.5,159.3 L389.8,163.5 L388.9,168.4 Z" fill="#ef4a22"/><path d="M382.2,158.6 L382.7,155.0 L383.6,153.2 L384.6,151.3 L386.8,152.4 L385.6,155.3 L384.8,158.6 Z" fill="#ef4a22"/><path d="M387.1,159.4 L387.5,154.7 L387.0,152.3 L386.9,150.0 L388.7,151.4 L389.2,155.2 L389.3,159.4 Z" fill="#ef4a22"/><path d="M383.2,161.9 L383.8,157.2 L382.7,154.9 L382.4,152.6 L384.6,153.9 L385.7,157.7 L386.0,161.9 Z" fill="#ef4a22"/><path d="M373.1,182.5 L373.4,177.7 L372.8,175.3 L372.5,172.9 L373.6,174.4 L374.2,178.2 L374.4,182.5 Z" fill="#ef4a22"/><path d="M375.8,186.8 L376.1,182.2 L375.4,179.9 L375.1,177.7 L376.3,179.0 L377.1,182.7 L377.3,186.8 Z" fill="#ef4a22"/><path d="M376.6,178.6 L377.0,175.9 L376.5,174.5 L376.5,173.2 L378.0,174.0 L378.4,176.2 L378.4,178.6 Z" fill="#ef4a22"/><path d="M379.4,192.7 L379.8,187.6 L379.1,185.1 L379.0,182.5 L380.3,184.0 L381.0,188.1 L381.1,192.7 Z" fill="#ef4a22"/><path d="M374.4,187.9 L374.9,185.6 L375.4,184.4 L376.0,183.2 L377.8,183.9 L377.1,185.8 L376.6,187.9 Z" fill="#ef4a22"/><path d="M359.9,219.8 L360.4,214.5 L359.9,211.9 L359.9,209.2 L362.0,210.8 L362.6,215.0 L362.6,219.8 Z" fill="#ef4a22"/><path d="M359.0,216.4 L359.5,211.5 L359.9,209.0 L360.5,206.5 L362.4,208.0 L361.9,212.0 L361.4,216.4 Z" fill="#ef4a22"/><path d="M360.9,224.2 L361.5,218.3 L361.9,215.3 L362.5,212.3 L364.9,214.1 L364.3,218.9 L363.8,224.2 Z" fill="#ef4a22"/><path d="M364.0,223.2 L364.3,215.6 L366.3,211.8 L367.9,208.0 L369.3,210.3 L366.9,216.4 L365.7,223.2 Z" fill="#ef4a22"/><path d="M359.8,241.3 L360.3,237.9 L359.6,236.2 L359.5,234.5 L361.4,235.5 L362.1,238.2 L362.2,241.3 Z" fill="#ef4a22"/><path d="M363.3,243.2 L363.7,240.6 L363.0,239.2 L362.8,237.9 L364.5,238.7 L365.3,240.8 L365.5,243.2 Z" fill="#ef4a22"/><path d="M365.5,230.9 L365.8,225.8 L365.4,223.2 L365.3,220.6 L366.3,222.2 L366.7,226.3 L366.7,230.9 Z" fill="#f6e020"/><path d="M367.5,222.7 L367.7,219.2 L368.3,217.4 L368.9,215.6 L370.0,216.7 L369.2,219.5 L368.7,222.7 Z" fill="#f6e020"/><path d="M365.6,221.7 L365.9,216.2 L366.6,213.4 L367.3,210.6 L368.6,212.3 L367.7,216.7 L367.1,221.7 Z" fill="#f6e020"/><path d="M460.4,139.5 L460.7,138.0 L460.4,137.3 L460.3,136.5 L461.6,137.0 L461.9,138.2 L461.9,139.5 Z" fill="#ef4a22"/><path d="M461.2,136.9 L461.5,134.8 L461.5,133.8 L461.8,132.8 L463.0,133.4 L462.9,135.0 L462.7,136.9 Z" fill="#ef4a22"/><path d="M459.7,140.0 L460.2,137.1 L460.3,135.6 L460.7,134.1 L462.8,135.0 L462.6,137.4 L462.3,140.0 Z" fill="#ef4a22"/><path d="M456.6,156.2 L456.9,154.1 L456.3,153.1 L456.0,152.1 L457.2,152.7 L457.9,154.3 L458.0,156.2 Z" fill="#ef4a22"/><path d="M457.4,157.4 L458.0,155.4 L457.8,154.4 L458.1,153.4 L460.3,154.0 L460.4,155.6 L460.2,157.4 Z" fill="#ef4a22"/><path d="M455.8,161.7 L456.2,157.7 L455.3,155.7 L454.9,153.7 L456.3,154.9 L457.3,158.1 L457.5,161.7 Z" fill="#ef4a22"/><path d="M422.7,192.8 L423.2,190.2 L423.3,188.9 L423.7,187.6 L425.8,188.4 L425.6,190.5 L425.3,192.8 Z" fill="#ef4a22"/><path d="M423.9,193.6 L424.2,191.0 L424.8,189.8 L425.4,188.5 L426.8,189.3 L426.1,191.3 L425.7,193.6 Z" fill="#ef4a22"/><path d="M424.3,191.6 L424.8,188.8 L424.7,187.4 L425.0,186.0 L427.0,186.9 L427.0,189.1 L426.7,191.6 Z" fill="#ef4a22"/><path d="M416.5,218.7 L416.9,216.0 L416.1,214.7 L415.9,213.3 L417.6,214.1 L418.4,216.3 L418.6,218.7 Z" fill="#ef4a22"/><path d="M416.5,224.5 L417.1,221.6 L416.7,220.1 L416.8,218.6 L418.9,219.5 L419.2,221.9 L419.1,224.5 Z" fill="#ef4a22"/><path d="M416.9,221.4 L417.3,218.2 L416.5,216.6 L416.3,215.0 L417.8,216.0 L418.6,218.5 L418.9,221.4 Z" fill="#ef4a22"/><path d="M473.3,122.4 L473.7,120.4 L473.2,119.4 L473.1,118.4 L474.9,119.0 L475.4,120.6 L475.4,122.4 Z" fill="#ef4a22"/><path d="M473.0,125.3 L473.4,122.8 L472.9,121.6 L472.9,120.4 L474.6,121.1 L475.2,123.1 L475.2,125.3 Z" fill="#ef4a22"/><path d="M489.4,105.3 L489.9,103.7 L489.3,102.9 L489.2,102.1 L491.1,102.6 L491.7,103.8 L491.7,105.3 Z" fill="#ef4a22"/><path d="M494.4,106.6 L494.8,104.7 L494.5,103.7 L494.5,102.8 L496.0,103.3 L496.3,104.9 L496.3,106.6 Z" fill="#ef4a22"/><path d="M454.7,162.9C453.8,163.7 451.7,166.2 449.1,167.8C446.5,169.5 442.3,170.9 439.2,172.8C436.1,174.7 433.0,176.9 430.5,179.0C428.0,181.1 426.2,183.1 424.3,185.2C422.4,187.3 420.5,189.1 419.3,191.4C418.1,193.7 417.5,195.9 416.9,198.8C416.3,201.7 416.0,206.1 415.6,208.8C415.2,211.5 414.8,213.2 414.4,215.0C414.0,216.8 413.1,218.1 413.1,219.9C413.1,221.8 415.0,225.0 414.4,226.1C413.8,227.2 411.5,226.4 409.4,226.7C407.3,227.0 404.5,227.1 402.0,228.0C399.5,228.9 396.6,231.0 394.5,232.3C392.4,233.6 391.5,234.6 389.6,236.0C387.8,237.4 385.5,239.4 383.4,241.0C381.3,242.6 379.3,244.3 377.2,245.3C375.1,246.3 372.9,247.1 371.0,247.2C369.1,247.3 367.2,246.7 366.0,245.9C364.8,245.1 363.9,243.6 363.6,242.2C363.3,240.8 363.7,239.2 364.2,237.3C364.7,235.5 366.0,233.8 366.7,231.1C367.4,228.4 367.9,224.9 368.5,221.2C369.1,217.5 369.6,212.7 370.4,208.8C371.2,204.9 372.2,201.1 373.5,197.6C374.8,194.1 376.8,190.8 378.4,187.7C380.0,184.6 381.5,181.5 383.4,179.0C385.3,176.5 387.5,174.5 389.6,172.8C391.7,171.2 394.4,170.6 395.8,169.1C397.2,167.6 397.7,166.2 398.3,164.1C398.9,162.0 399.3,157.9 399.5,156.7" fill="none" stroke="#f04820" stroke-width="2.2" opacity=".85"/><path d="M454.7,162.9C453.8,163.7 451.7,166.2 449.1,167.8C446.5,169.5 442.3,170.9 439.2,172.8C436.1,174.7 433.0,176.9 430.5,179.0C428.0,181.1 426.2,183.1 424.3,185.2C422.4,187.3 420.5,189.1 419.3,191.4C418.1,193.7 417.5,195.9 416.9,198.8C416.3,201.7 416.0,206.1 415.6,208.8C415.2,211.5 414.8,213.2 414.4,215.0C414.0,216.8 413.1,218.1 413.1,219.9C413.1,221.8 415.0,225.0 414.4,226.1C413.8,227.2 411.5,226.4 409.4,226.7C407.3,227.0 404.5,227.1 402.0,228.0C399.5,228.9 396.6,231.0 394.5,232.3C392.4,233.6 391.5,234.6 389.6,236.0C387.8,237.4 385.5,239.4 383.4,241.0C381.3,242.6 379.3,244.3 377.2,245.3C375.1,246.3 372.9,247.1 371.0,247.2C369.1,247.3 367.2,246.7 366.0,245.9C364.8,245.1 363.9,243.6 363.6,242.2C363.3,240.8 363.7,239.2 364.2,237.3C364.7,235.5 366.0,233.8 366.7,231.1C367.4,228.4 367.9,224.9 368.5,221.2C369.1,217.5 369.6,212.7 370.4,208.8C371.2,204.9 372.2,201.1 373.5,197.6C374.8,194.1 376.8,190.8 378.4,187.7C380.0,184.6 381.5,181.5 383.4,179.0C385.3,176.5 387.5,174.5 389.6,172.8C391.7,171.2 394.4,170.6 395.8,169.1C397.2,167.6 397.7,166.2 398.3,164.1C398.9,162.0 399.3,157.9 399.5,156.7" fill="none" stroke="#f0e020" stroke-width="1" opacity=".7"/></g>
<g clip-path="url(#sclip)">
<path d="M449.1,83.6C450.3,81.9 451.9,80.7 454.0,79.8C456.1,78.9 459.0,78.2 461.5,78.0C464.0,77.8 466.8,77.9 468.9,78.6C471.0,79.3 472.6,81.1 473.9,82.3C475.1,83.5 474.9,84.5 476.4,86.0C477.8,87.5 480.1,89.1 482.6,91.0C485.1,92.9 488.7,95.4 491.2,97.2C493.7,99.0 496.8,100.9 497.4,102.1C498.0,103.3 496.0,104.3 495.0,104.6C494.0,104.9 492.0,103.4 491.2,104.0C490.4,104.6 491.0,107.4 490.0,108.3C489.0,109.2 486.6,108.6 485.0,109.6C483.4,110.6 482.0,113.0 480.1,114.5C478.2,116.0 475.5,116.8 473.9,118.3C472.2,119.8 471.4,121.3 470.2,123.2C468.9,125.1 467.4,127.8 466.4,129.4C465.4,131.1 465.1,132.2 464.0,133.1C462.9,134.0 460.6,133.8 459.6,135.0C458.6,136.2 458.2,138.6 457.8,140.6C457.4,142.6 457.5,144.5 457.1,146.8C456.7,149.1 455.7,151.5 455.3,154.2C454.9,156.9 455.7,160.6 454.7,162.9C453.7,165.2 451.7,166.2 449.1,167.8C446.5,169.5 442.3,170.9 439.2,172.8C436.1,174.7 433.0,176.9 430.5,179.0C428.0,181.1 426.2,183.1 424.3,185.2C422.4,187.3 420.5,189.1 419.3,191.4C418.1,193.7 417.5,195.9 416.9,198.8C416.3,201.7 416.0,206.1 415.6,208.8C415.2,211.5 414.8,213.2 414.4,215.0C414.0,216.8 413.1,218.1 413.1,219.9C413.1,221.8 415.0,225.0 414.4,226.1C413.8,227.2 411.5,226.4 409.4,226.7C407.3,227.0 404.5,227.1 402.0,228.0C399.5,228.9 396.6,231.0 394.5,232.3C392.4,233.6 391.5,234.6 389.6,236.0C387.8,237.4 385.5,239.4 383.4,241.0C381.3,242.6 379.3,244.3 377.2,245.3C375.1,246.3 372.9,247.1 371.0,247.2C369.1,247.3 367.2,246.7 366.0,245.9C364.8,245.1 363.9,243.6 363.6,242.2C363.3,240.8 363.7,239.2 364.2,237.3C364.7,235.5 366.0,233.8 366.7,231.1C367.4,228.4 367.9,224.9 368.5,221.2C369.1,217.5 369.6,212.7 370.4,208.8C371.2,204.9 372.2,201.1 373.5,197.6C374.8,194.1 376.8,190.8 378.4,187.7C380.0,184.6 381.5,181.5 383.4,179.0C385.3,176.5 387.5,174.5 389.6,172.8C391.7,171.2 394.4,170.6 395.8,169.1C397.2,167.6 397.7,166.2 398.3,164.1C398.9,162.0 399.1,159.2 399.5,156.7C399.9,154.2 399.9,151.8 400.7,149.3C401.5,146.8 402.8,144.1 404.5,141.8C406.2,139.5 408.2,137.7 410.7,135.6C413.2,133.5 416.2,131.5 419.3,129.4C422.4,127.3 426.2,125.3 429.3,123.2C432.4,121.1 435.6,118.8 437.9,117.0C440.2,115.2 441.6,114.2 442.9,112.1C444.1,110.0 444.9,107.1 445.4,104.6C445.9,102.1 445.8,99.7 446.0,97.2C446.2,94.7 446.1,92.1 446.6,89.8C447.1,87.5 447.9,85.3 449.1,83.6Z" fill="#e8e428"/>
<g filter="url(#b4)" fill="none">
<path d="M362.0,256.2L369.8,242.2L371.7,238.7" stroke="#5030b0" stroke-width="70"/>
<path d="M370.9,240.1L372.8,236.6L374.8,233.2" stroke="#3a60a8" stroke-width="70"/>
<path d="M374.0,234.6L375.9,231.1L380.6,222.5" stroke="#309a68" stroke-width="70"/>
<path d="M378.7,226.0L383.4,217.4L387.3,208.9" stroke="#34a834" stroke-width="70"/>
<path d="M385.7,212.3L389.6,203.8L393.5,195.3" stroke="#50b824" stroke-width="70"/>
<path d="M391.9,198.7L395.8,190.2L402.8,182.4" stroke="#90cc20" stroke-width="70"/>
<path d="M400.0,185.5L406.9,177.8L413.1,170.0" stroke="#c8de20" stroke-width="70"/>
<path d="M410.7,173.1L416.9,165.4L421.5,157.6" stroke="#e8e428" stroke-width="70"/>
<path d="M419.6,160.7L424.3,153.0L430.5,145.2" stroke="#f4e430" stroke-width="70"/>
<path d="M428.0,148.3L434.2,140.6L440.4,132.1" stroke="#f8dc30" stroke-width="70"/>
<path d="M437.9,135.5L444.1,126.9L448.0,117.6" stroke="#f8d030" stroke-width="70"/>
<path d="M446.5,121.4L450.3,112.1L449.6,102.8" stroke="#f0b028" stroke-width="70"/>
<path d="M449.9,106.5L449.1,97.2L449.5,89.4" stroke="#e88a22" stroke-width="70"/>
<path d="M449.3,92.5L449.7,84.8L450.1,77.0" stroke="#e87022" stroke-width="70"/>
<path d="M414.4,226.1C414.4,223.2 413.6,214.5 414.4,208.8C415.2,203.0 416.9,196.4 419.3,191.4C421.8,186.4 427.6,181.1 429.3,179.0" stroke="#c0dc20" stroke-width="13.8"/>
<circle cx="471.4" cy="97.2" r="25.0" fill="#ee5020"/>
<circle cx="465.2" cy="118.3" r="13.8" fill="#ee5820"/>
</g>
<use href="#sshade"/>
</g>
</g>
<g transform="translate(0,550.2) scale(1,1)">
<use href="#brain"/>
<g clip-path="url(#bclip)"><path d="M418.7,117.4 L419.3,113.8 L419.2,112.0 L419.5,110.2 L421.6,111.3 L421.7,114.2 L421.4,117.4 Z" fill="#ef4a22"/><path d="M420.4,114.9 L420.8,110.7 L421.7,108.6 L422.5,106.5 L424.1,107.7 L423.1,111.1 L422.4,114.9 Z" fill="#ef4a22"/><path d="M414.3,117.3 L414.6,112.5 L415.4,110.1 L416.2,107.6 L417.3,109.1 L416.2,113.0 L415.6,117.3 Z" fill="#ef4a22"/><path d="M413.7,122.9 L414.2,118.7 L414.5,116.5 L415.0,114.4 L417.2,115.7 L416.8,119.1 L416.4,122.9 Z" fill="#ef4a22"/><path d="M415.1,109.2 L415.5,107.0 L414.9,105.9 L414.8,104.8 L416.5,105.4 L417.1,107.2 L417.1,109.2 Z" fill="#ef4a22"/><path d="M416.1,112.0 L416.5,108.5 L417.3,106.7 L418.1,104.9 L419.6,106.0 L418.7,108.8 L418.1,112.0 Z" fill="#ef4a22"/><path d="M437.5,117.5 L437.9,115.4 L437.7,114.3 L437.8,113.2 L439.4,113.9 L439.6,115.6 L439.5,117.5 Z" fill="#ef4a22"/><path d="M435.4,119.2 L435.9,116.9 L436.0,115.7 L436.3,114.5 L438.6,115.2 L438.5,117.1 L438.2,119.2 Z" fill="#ef4a22"/><path d="M386.1,156.0 L386.4,153.8 L386.7,152.7 L387.1,151.5 L388.4,152.2 L388.0,154.0 L387.7,156.0 Z" fill="#ef4a22"/><path d="M387.1,168.4 L387.5,163.0 L388.9,160.3 L390.0,157.6 L391.5,159.3 L389.8,163.5 L388.9,168.4 Z" fill="#ef4a22"/><path d="M382.2,158.6 L382.7,155.0 L383.6,153.2 L384.6,151.3 L386.8,152.4 L385.6,155.3 L384.8,158.6 Z" fill="#ef4a22"/><path d="M387.1,159.4 L387.5,154.7 L387.0,152.3 L386.9,150.0 L388.7,151.4 L389.2,155.2 L389.3,159.4 Z" fill="#ef4a22"/><path d="M383.2,161.9 L383.8,157.2 L382.7,154.9 L382.4,152.6 L384.6,153.9 L385.7,157.7 L386.0,161.9 Z" fill="#ef4a22"/><path d="M373.1,182.5 L373.4,177.7 L372.8,175.3 L372.5,172.9 L373.6,174.4 L374.2,178.2 L374.4,182.5 Z" fill="#ef4a22"/><path d="M375.8,186.8 L376.1,182.2 L375.4,179.9 L375.1,177.7 L376.3,179.0 L377.1,182.7 L377.3,186.8 Z" fill="#ef4a22"/><path d="M376.6,178.6 L377.0,175.9 L376.5,174.5 L376.5,173.2 L378.0,174.0 L378.4,176.2 L378.4,178.6 Z" fill="#ef4a22"/><path d="M379.4,192.7 L379.8,187.6 L379.1,185.1 L379.0,182.5 L380.3,184.0 L381.0,188.1 L381.1,192.7 Z" fill="#ef4a22"/><path d="M374.4,187.9 L374.9,185.6 L375.4,184.4 L376.0,183.2 L377.8,183.9 L377.1,185.8 L376.6,187.9 Z" fill="#ef4a22"/><path d="M359.9,219.8 L360.4,214.5 L359.9,211.9 L359.9,209.2 L362.0,210.8 L362.6,215.0 L362.6,219.8 Z" fill="#ef4a22"/><path d="M359.0,216.4 L359.5,211.5 L359.9,209.0 L360.5,206.5 L362.4,208.0 L361.9,212.0 L361.4,216.4 Z" fill="#ef4a22"/><path d="M360.9,224.2 L361.5,218.3 L361.9,215.3 L362.5,212.3 L364.9,214.1 L364.3,218.9 L363.8,224.2 Z" fill="#ef4a22"/><path d="M364.0,223.2 L364.3,215.6 L366.3,211.8 L367.9,208.0 L369.3,210.3 L366.9,216.4 L365.7,223.2 Z" fill="#ef4a22"/><path d="M359.8,241.3 L360.3,237.9 L359.6,236.2 L359.5,234.5 L361.4,235.5 L362.1,238.2 L362.2,241.3 Z" fill="#ef4a22"/><path d="M363.3,243.2 L363.7,240.6 L363.0,239.2 L362.8,237.9 L364.5,238.7 L365.3,240.8 L365.5,243.2 Z" fill="#ef4a22"/><path d="M365.5,230.9 L365.8,225.8 L365.4,223.2 L365.3,220.6 L366.3,222.2 L366.7,226.3 L366.7,230.9 Z" fill="#f6e020"/><path d="M367.5,222.7 L367.7,219.2 L368.3,217.4 L368.9,215.6 L370.0,216.7 L369.2,219.5 L368.7,222.7 Z" fill="#f6e020"/><path d="M365.6,221.7 L365.9,216.2 L366.6,213.4 L367.3,210.6 L368.6,212.3 L367.7,216.7 L367.1,221.7 Z" fill="#f6e020"/><path d="M460.4,139.5 L460.7,138.0 L460.4,137.3 L460.3,136.5 L461.6,137.0 L461.9,138.2 L461.9,139.5 Z" fill="#ef4a22"/><path d="M461.2,136.9 L461.5,134.8 L461.5,133.8 L461.8,132.8 L463.0,133.4 L462.9,135.0 L462.7,136.9 Z" fill="#ef4a22"/><path d="M459.7,140.0 L460.2,137.1 L460.3,135.6 L460.7,134.1 L462.8,135.0 L462.6,137.4 L462.3,140.0 Z" fill="#ef4a22"/><path d="M456.6,156.2 L456.9,154.1 L456.3,153.1 L456.0,152.1 L457.2,152.7 L457.9,154.3 L458.0,156.2 Z" fill="#ef4a22"/><path d="M457.4,157.4 L458.0,155.4 L457.8,154.4 L458.1,153.4 L460.3,154.0 L460.4,155.6 L460.2,157.4 Z" fill="#ef4a22"/><path d="M455.8,161.7 L456.2,157.7 L455.3,155.7 L454.9,153.7 L456.3,154.9 L457.3,158.1 L457.5,161.7 Z" fill="#ef4a22"/><path d="M422.7,192.8 L423.2,190.2 L423.3,188.9 L423.7,187.6 L425.8,188.4 L425.6,190.5 L425.3,192.8 Z" fill="#ef4a22"/><path d="M423.9,193.6 L424.2,191.0 L424.8,189.8 L425.4,188.5 L426.8,189.3 L426.1,191.3 L425.7,193.6 Z" fill="#ef4a22"/><path d="M424.3,191.6 L424.8,188.8 L424.7,187.4 L425.0,186.0 L427.0,186.9 L427.0,189.1 L426.7,191.6 Z" fill="#ef4a22"/><path d="M416.5,218.7 L416.9,216.0 L416.1,214.7 L415.9,213.3 L417.6,214.1 L418.4,216.3 L418.6,218.7 Z" fill="#ef4a22"/><path d="M416.5,224.5 L417.1,221.6 L416.7,220.1 L416.8,218.6 L418.9,219.5 L419.2,221.9 L419.1,224.5 Z" fill="#ef4a22"/><path d="M416.9,221.4 L417.3,218.2 L416.5,216.6 L416.3,215.0 L417.8,216.0 L418.6,218.5 L418.9,221.4 Z" fill="#ef4a22"/><path d="M473.3,122.4 L473.7,120.4 L473.2,119.4 L473.1,118.4 L474.9,119.0 L475.4,120.6 L475.4,122.4 Z" fill="#ef4a22"/><path d="M473.0,125.3 L473.4,122.8 L472.9,121.6 L472.9,120.4 L474.6,121.1 L475.2,123.1 L475.2,125.3 Z" fill="#ef4a22"/><path d="M489.4,105.3 L489.9,103.7 L489.3,102.9 L489.2,102.1 L491.1,102.6 L491.7,103.8 L491.7,105.3 Z" fill="#ef4a22"/><path d="M494.4,106.6 L494.8,104.7 L494.5,103.7 L494.5,102.8 L496.0,103.3 L496.3,104.9 L496.3,106.6 Z" fill="#ef4a22"/><path d="M454.7,162.9C453.8,163.7 451.7,166.2 449.1,167.8C446.5,169.5 442.3,170.9 439.2,172.8C436.1,174.7 433.0,176.9 430.5,179.0C428.0,181.1 426.2,183.1 424.3,185.2C422.4,187.3 420.5,189.1 419.3,191.4C418.1,193.7 417.5,195.9 416.9,198.8C416.3,201.7 416.0,206.1 415.6,208.8C415.2,211.5 414.8,213.2 414.4,215.0C414.0,216.8 413.1,218.1 413.1,219.9C413.1,221.8 415.0,225.0 414.4,226.1C413.8,227.2 411.5,226.4 409.4,226.7C407.3,227.0 404.5,227.1 402.0,228.0C399.5,228.9 396.6,231.0 394.5,232.3C392.4,233.6 391.5,234.6 389.6,236.0C387.8,237.4 385.5,239.4 383.4,241.0C381.3,242.6 379.3,244.3 377.2,245.3C375.1,246.3 372.9,247.1 371.0,247.2C369.1,247.3 367.2,246.7 366.0,245.9C364.8,245.1 363.9,243.6 363.6,242.2C363.3,240.8 363.7,239.2 364.2,237.3C364.7,235.5 366.0,233.8 366.7,231.1C367.4,228.4 367.9,224.9 368.5,221.2C369.1,217.5 369.6,212.7 370.4,208.8C371.2,204.9 372.2,201.1 373.5,197.6C374.8,194.1 376.8,190.8 378.4,187.7C380.0,184.6 381.5,181.5 383.4,179.0C385.3,176.5 387.5,174.5 389.6,172.8C391.7,171.2 394.4,170.6 395.8,169.1C397.2,167.6 397.7,166.2 398.3,164.1C398.9,162.0 399.3,157.9 399.5,156.7" fill="none" stroke="#f04820" stroke-width="2.2" opacity=".85"/><path d="M454.7,162.9C453.8,163.7 451.7,166.2 449.1,167.8C446.5,169.5 442.3,170.9 439.2,172.8C436.1,174.7 433.0,176.9 430.5,179.0C428.0,181.1 426.2,183.1 424.3,185.2C422.4,187.3 420.5,189.1 419.3,191.4C418.1,193.7 417.5,195.9 416.9,198.8C416.3,201.7 416.0,206.1 415.6,208.8C415.2,211.5 414.8,213.2 414.4,215.0C414.0,216.8 413.1,218.1 413.1,219.9C413.1,221.8 415.0,225.0 414.4,226.1C413.8,227.2 411.5,226.4 409.4,226.7C407.3,227.0 404.5,227.1 402.0,228.0C399.5,228.9 396.6,231.0 394.5,232.3C392.4,233.6 391.5,234.6 389.6,236.0C387.8,237.4 385.5,239.4 383.4,241.0C381.3,242.6 379.3,244.3 377.2,245.3C375.1,246.3 372.9,247.1 371.0,247.2C369.1,247.3 367.2,246.7 366.0,245.9C364.8,245.1 363.9,243.6 363.6,242.2C363.3,240.8 363.7,239.2 364.2,237.3C364.7,235.5 366.0,233.8 366.7,231.1C367.4,228.4 367.9,224.9 368.5,221.2C369.1,217.5 369.6,212.7 370.4,208.8C371.2,204.9 372.2,201.1 373.5,197.6C374.8,194.1 376.8,190.8 378.4,187.7C380.0,184.6 381.5,181.5 383.4,179.0C385.3,176.5 387.5,174.5 389.6,172.8C391.7,171.2 394.4,170.6 395.8,169.1C397.2,167.6 397.7,166.2 398.3,164.1C398.9,162.0 399.3,157.9 399.5,156.7" fill="none" stroke="#f0e020" stroke-width="1" opacity=".7"/></g>
<g clip-path="url(#sclip)">
<path d="M449.1,83.6C450.3,81.9 451.9,80.7 454.0,79.8C456.1,78.9 459.0,78.2 461.5,78.0C464.0,77.8 466.8,77.9 468.9,78.6C471.0,79.3 472.6,81.1 473.9,82.3C475.1,83.5 474.9,84.5 476.4,86.0C477.8,87.5 480.1,89.1 482.6,91.0C485.1,92.9 488.7,95.4 491.2,97.2C493.7,99.0 496.8,100.9 497.4,102.1C498.0,103.3 496.0,104.3 495.0,104.6C494.0,104.9 492.0,103.4 491.2,104.0C490.4,104.6 491.0,107.4 490.0,108.3C489.0,109.2 486.6,108.6 485.0,109.6C483.4,110.6 482.0,113.0 480.1,114.5C478.2,116.0 475.5,116.8 473.9,118.3C472.2,119.8 471.4,121.3 470.2,123.2C468.9,125.1 467.4,127.8 466.4,129.4C465.4,131.1 465.1,132.2 464.0,133.1C462.9,134.0 460.6,133.8 459.6,135.0C458.6,136.2 458.2,138.6 457.8,140.6C457.4,142.6 457.5,144.5 457.1,146.8C456.7,149.1 455.7,151.5 455.3,154.2C454.9,156.9 455.7,160.6 454.7,162.9C453.7,165.2 451.7,166.2 449.1,167.8C446.5,169.5 442.3,170.9 439.2,172.8C436.1,174.7 433.0,176.9 430.5,179.0C428.0,181.1 426.2,183.1 424.3,185.2C422.4,187.3 420.5,189.1 419.3,191.4C418.1,193.7 417.5,195.9 416.9,198.8C416.3,201.7 416.0,206.1 415.6,208.8C415.2,211.5 414.8,213.2 414.4,215.0C414.0,216.8 413.1,218.1 413.1,219.9C413.1,221.8 415.0,225.0 414.4,226.1C413.8,227.2 411.5,226.4 409.4,226.7C407.3,227.0 404.5,227.1 402.0,228.0C399.5,228.9 396.6,231.0 394.5,232.3C392.4,233.6 391.5,234.6 389.6,236.0C387.8,237.4 385.5,239.4 383.4,241.0C381.3,242.6 379.3,244.3 377.2,245.3C375.1,246.3 372.9,247.1 371.0,247.2C369.1,247.3 367.2,246.7 366.0,245.9C364.8,245.1 363.9,243.6 363.6,242.2C363.3,240.8 363.7,239.2 364.2,237.3C364.7,235.5 366.0,233.8 366.7,231.1C367.4,228.4 367.9,224.9 368.5,221.2C369.1,217.5 369.6,212.7 370.4,208.8C371.2,204.9 372.2,201.1 373.5,197.6C374.8,194.1 376.8,190.8 378.4,187.7C380.0,184.6 381.5,181.5 383.4,179.0C385.3,176.5 387.5,174.5 389.6,172.8C391.7,171.2 394.4,170.6 395.8,169.1C397.2,167.6 397.7,166.2 398.3,164.1C398.9,162.0 399.1,159.2 399.5,156.7C399.9,154.2 399.9,151.8 400.7,149.3C401.5,146.8 402.8,144.1 404.5,141.8C406.2,139.5 408.2,137.7 410.7,135.6C413.2,133.5 416.2,131.5 419.3,129.4C422.4,127.3 426.2,125.3 429.3,123.2C432.4,121.1 435.6,118.8 437.9,117.0C440.2,115.2 441.6,114.2 442.9,112.1C444.1,110.0 444.9,107.1 445.4,104.6C445.9,102.1 445.8,99.7 446.0,97.2C446.2,94.7 446.1,92.1 446.6,89.8C447.1,87.5 447.9,85.3 449.1,83.6Z" fill="#58bc20"/>
<g filter="url(#b4)" fill="none">
<path d="M362.0,256.2L369.8,242.2L371.7,238.7" stroke="#a020a0" stroke-width="70"/>
<path d="M370.9,240.1L372.8,236.6L374.8,233.2" stroke="#6a30b4" stroke-width="70"/>
<path d="M374.0,234.6L375.9,231.1L380.6,222.5" stroke="#5840b4" stroke-width="70"/>
<path d="M378.7,226.0L383.4,217.4L387.3,208.9" stroke="#5050b0" stroke-width="70"/>
<path d="M385.7,212.3L389.6,203.8L393.5,195.3" stroke="#4a58b0" stroke-width="70"/>
<path d="M391.9,198.7L395.8,190.2L402.8,182.4" stroke="#4070a8" stroke-width="70"/>
<path d="M400.0,185.5L406.9,177.8L413.1,170.0" stroke="#30a838" stroke-width="70"/>
<path d="M410.7,173.1L416.9,165.4L421.5,157.6" stroke="#58bc20" stroke-width="70"/>
<path d="M419.6,160.7L424.3,153.0L430.5,145.2" stroke="#a0d418" stroke-width="70"/>
<path d="M428.0,148.3L434.2,140.6L440.4,132.1" stroke="#d4e410" stroke-width="70"/>
<path d="M437.9,135.5L444.1,126.9L448.0,117.6" stroke="#c8e010" stroke-width="70"/>
<path d="M446.5,121.4L450.3,112.1L449.6,102.8" stroke="#c0d018" stroke-width="70"/>
<path d="M449.9,106.5L449.1,97.2L449.5,89.4" stroke="#c8b020" stroke-width="70"/>
<path d="M449.3,92.5L449.7,84.8L450.1,77.0" stroke="#d89020" stroke-width="70"/>
<path d="M380.9,243.5C382.4,240.4 387.1,230.7 389.6,224.9C392.1,219.1 393.7,213.9 395.8,208.8C397.8,203.6 400.9,196.4 402.0,193.9" stroke="#3880a0" stroke-width="13.8"/>
<path d="M392.1,238.5C393.7,236.4 399.5,231.1 402.0,226.1C404.5,221.2 405.3,214.1 406.9,208.8C408.6,203.4 409.8,198.4 411.9,193.9C414.0,189.3 418.1,183.5 419.3,181.5" stroke="#38b030" stroke-width="16.2"/>
<circle cx="471.4" cy="97.2" r="25.0" fill="#f06a22"/>
<circle cx="464.0" cy="81.1" r="8.8" fill="#ee4a22"/>
<circle cx="465.2" cy="119.5" r="12.5" fill="#f08a28"/>
</g>
<use href="#sshade"/>
</g>
</g>
<g transform="translate(10.2,1120.3) scale(1.005,1.02)">
<use href="#brain"/>
<g clip-path="url(#bclip)"><path d="M418.7,117.4 L419.3,113.8 L419.2,112.0 L419.5,110.2 L421.6,111.3 L421.7,114.2 L421.4,117.4 Z" fill="#ef4a22"/><path d="M420.4,114.9 L420.8,110.7 L421.7,108.6 L422.5,106.5 L424.1,107.7 L423.1,111.1 L422.4,114.9 Z" fill="#ef4a22"/><path d="M414.3,117.3 L414.6,112.5 L415.4,110.1 L416.2,107.6 L417.3,109.1 L416.2,113.0 L415.6,117.3 Z" fill="#ef4a22"/><path d="M413.7,122.9 L414.2,118.7 L414.5,116.5 L415.0,114.4 L417.2,115.7 L416.8,119.1 L416.4,122.9 Z" fill="#ef4a22"/><path d="M415.1,109.2 L415.5,107.0 L414.9,105.9 L414.8,104.8 L416.5,105.4 L417.1,107.2 L417.1,109.2 Z" fill="#ef4a22"/><path d="M416.1,112.0 L416.5,108.5 L417.3,106.7 L418.1,104.9 L419.6,106.0 L418.7,108.8 L418.1,112.0 Z" fill="#ef4a22"/><path d="M437.5,117.5 L437.9,115.4 L437.7,114.3 L437.8,113.2 L439.4,113.9 L439.6,115.6 L439.5,117.5 Z" fill="#ef4a22"/><path d="M435.4,119.2 L435.9,116.9 L436.0,115.7 L436.3,114.5 L438.6,115.2 L438.5,117.1 L438.2,119.2 Z" fill="#ef4a22"/><path d="M386.1,156.0 L386.4,153.8 L386.7,152.7 L387.1,151.5 L388.4,152.2 L388.0,154.0 L387.7,156.0 Z" fill="#ef4a22"/><path d="M387.1,168.4 L387.5,163.0 L388.9,160.3 L390.0,157.6 L391.5,159.3 L389.8,163.5 L388.9,168.4 Z" fill="#ef4a22"/><path d="M382.2,158.6 L382.7,155.0 L383.6,153.2 L384.6,151.3 L386.8,152.4 L385.6,155.3 L384.8,158.6 Z" fill="#ef4a22"/><path d="M387.1,159.4 L387.5,154.7 L387.0,152.3 L386.9,150.0 L388.7,151.4 L389.2,155.2 L389.3,159.4 Z" fill="#ef4a22"/><path d="M383.2,161.9 L383.8,157.2 L382.7,154.9 L382.4,152.6 L384.6,153.9 L385.7,157.7 L386.0,161.9 Z" fill="#ef4a22"/><path d="M373.1,182.5 L373.4,177.7 L372.8,175.3 L372.5,172.9 L373.6,174.4 L374.2,178.2 L374.4,182.5 Z" fill="#ef4a22"/><path d="M375.8,186.8 L376.1,182.2 L375.4,179.9 L375.1,177.7 L376.3,179.0 L377.1,182.7 L377.3,186.8 Z" fill="#ef4a22"/><path d="M376.6,178.6 L377.0,175.9 L376.5,174.5 L376.5,173.2 L378.0,174.0 L378.4,176.2 L378.4,178.6 Z" fill="#ef4a22"/><path d="M379.4,192.7 L379.8,187.6 L379.1,185.1 L379.0,182.5 L380.3,184.0 L381.0,188.1 L381.1,192.7 Z" fill="#ef4a22"/><path d="M374.4,187.9 L374.9,185.6 L375.4,184.4 L376.0,183.2 L377.8,183.9 L377.1,185.8 L376.6,187.9 Z" fill="#ef4a22"/><path d="M359.9,219.8 L360.4,214.5 L359.9,211.9 L359.9,209.2 L362.0,210.8 L362.6,215.0 L362.6,219.8 Z" fill="#ef4a22"/><path d="M359.0,216.4 L359.5,211.5 L359.9,209.0 L360.5,206.5 L362.4,208.0 L361.9,212.0 L361.4,216.4 Z" fill="#ef4a22"/><path d="M360.9,224.2 L361.5,218.3 L361.9,215.3 L362.5,212.3 L364.9,214.1 L364.3,218.9 L363.8,224.2 Z" fill="#ef4a22"/><path d="M364.0,223.2 L364.3,215.6 L366.3,211.8 L367.9,208.0 L369.3,210.3 L366.9,216.4 L365.7,223.2 Z" fill="#ef4a22"/><path d="M359.8,241.3 L360.3,237.9 L359.6,236.2 L359.5,234.5 L361.4,235.5 L362.1,238.2 L362.2,241.3 Z" fill="#ef4a22"/><path d="M363.3,243.2 L363.7,240.6 L363.0,239.2 L362.8,237.9 L364.5,238.7 L365.3,240.8 L365.5,243.2 Z" fill="#ef4a22"/><path d="M365.5,230.9 L365.8,225.8 L365.4,223.2 L365.3,220.6 L366.3,222.2 L366.7,226.3 L366.7,230.9 Z" fill="#f6e020"/><path d="M367.5,222.7 L367.7,219.2 L368.3,217.4 L368.9,215.6 L370.0,216.7 L369.2,219.5 L368.7,222.7 Z" fill="#f6e020"/><path d="M365.6,221.7 L365.9,216.2 L366.6,213.4 L367.3,210.6 L368.6,212.3 L367.7,216.7 L367.1,221.7 Z" fill="#f6e020"/><path d="M460.4,139.5 L460.7,138.0 L460.4,137.3 L460.3,136.5 L461.6,137.0 L461.9,138.2 L461.9,139.5 Z" fill="#ef4a22"/><path d="M461.2,136.9 L461.5,134.8 L461.5,133.8 L461.8,132.8 L463.0,133.4 L462.9,135.0 L462.7,136.9 Z" fill="#ef4a22"/><path d="M459.7,140.0 L460.2,137.1 L460.3,135.6 L460.7,134.1 L462.8,135.0 L462.6,137.4 L462.3,140.0 Z" fill="#ef4a22"/><path d="M456.6,156.2 L456.9,154.1 L456.3,153.1 L456.0,152.1 L457.2,152.7 L457.9,154.3 L458.0,156.2 Z" fill="#ef4a22"/><path d="M457.4,157.4 L458.0,155.4 L457.8,154.4 L458.1,153.4 L460.3,154.0 L460.4,155.6 L460.2,157.4 Z" fill="#ef4a22"/><path d="M455.8,161.7 L456.2,157.7 L455.3,155.7 L454.9,153.7 L456.3,154.9 L457.3,158.1 L457.5,161.7 Z" fill="#ef4a22"/><path d="M422.7,192.8 L423.2,190.2 L423.3,188.9 L423.7,187.6 L425.8,188.4 L425.6,190.5 L425.3,192.8 Z" fill="#ef4a22"/><path d="M423.9,193.6 L424.2,191.0 L424.8,189.8 L425.4,188.5 L426.8,189.3 L426.1,191.3 L425.7,193.6 Z" fill="#ef4a22"/><path d="M424.3,191.6 L424.8,188.8 L424.7,187.4 L425.0,186.0 L427.0,186.9 L427.0,189.1 L426.7,191.6 Z" fill="#ef4a22"/><path d="M416.5,218.7 L416.9,216.0 L416.1,214.7 L415.9,213.3 L417.6,214.1 L418.4,216.3 L418.6,218.7 Z" fill="#ef4a22"/><path d="M416.5,224.5 L417.1,221.6 L416.7,220.1 L416.8,218.6 L418.9,219.5 L419.2,221.9 L419.1,224.5 Z" fill="#ef4a22"/><path d="M416.9,221.4 L417.3,218.2 L416.5,216.6 L416.3,215.0 L417.8,216.0 L418.6,218.5 L418.9,221.4 Z" fill="#ef4a22"/><path d="M473.3,122.4 L473.7,120.4 L473.2,119.4 L473.1,118.4 L474.9,119.0 L475.4,120.6 L475.4,122.4 Z" fill="#ef4a22"/><path d="M473.0,125.3 L473.4,122.8 L472.9,121.6 L472.9,120.4 L474.6,121.1 L475.2,123.1 L475.2,125.3 Z" fill="#ef4a22"/><path d="M489.4,105.3 L489.9,103.7 L489.3,102.9 L489.2,102.1 L491.1,102.6 L491.7,103.8 L491.7,105.3 Z" fill="#ef4a22"/><path d="M494.4,106.6 L494.8,104.7 L494.5,103.7 L494.5,102.8 L496.0,103.3 L496.3,104.9 L496.3,106.6 Z" fill="#ef4a22"/><path d="M454.7,162.9C453.8,163.7 451.7,166.2 449.1,167.8C446.5,169.5 442.3,170.9 439.2,172.8C436.1,174.7 433.0,176.9 430.5,179.0C428.0,181.1 426.2,183.1 424.3,185.2C422.4,187.3 420.5,189.1 419.3,191.4C418.1,193.7 417.5,195.9 416.9,198.8C416.3,201.7 416.0,206.1 415.6,208.8C415.2,211.5 414.8,213.2 414.4,215.0C414.0,216.8 413.1,218.1 413.1,219.9C413.1,221.8 415.0,225.0 414.4,226.1C413.8,227.2 411.5,226.4 409.4,226.7C407.3,227.0 404.5,227.1 402.0,228.0C399.5,228.9 396.6,231.0 394.5,232.3C392.4,233.6 391.5,234.6 389.6,236.0C387.8,237.4 385.5,239.4 383.4,241.0C381.3,242.6 379.3,244.3 377.2,245.3C375.1,246.3 372.9,247.1 371.0,247.2C369.1,247.3 367.2,246.7 366.0,245.9C364.8,245.1 363.9,243.6 363.6,242.2C363.3,240.8 363.7,239.2 364.2,237.3C364.7,235.5 366.0,233.8 366.7,231.1C367.4,228.4 367.9,224.9 368.5,221.2C369.1,217.5 369.6,212.7 370.4,208.8C371.2,204.9 372.2,201.1 373.5,197.6C374.8,194.1 376.8,190.8 378.4,187.7C380.0,184.6 381.5,181.5 383.4,179.0C385.3,176.5 387.5,174.5 389.6,172.8C391.7,171.2 394.4,170.6 395.8,169.1C397.2,167.6 397.7,166.2 398.3,164.1C398.9,162.0 399.3,157.9 399.5,156.7" fill="none" stroke="#f04820" stroke-width="2.2" opacity=".85"/><path d="M454.7,162.9C453.8,163.7 451.7,166.2 449.1,167.8C446.5,169.5 442.3,170.9 439.2,172.8C436.1,174.7 433.0,176.9 430.5,179.0C428.0,181.1 426.2,183.1 424.3,185.2C422.4,187.3 420.5,189.1 419.3,191.4C418.1,193.7 417.5,195.9 416.9,198.8C416.3,201.7 416.0,206.1 415.6,208.8C415.2,211.5 414.8,213.2 414.4,215.0C414.0,216.8 413.1,218.1 413.1,219.9C413.1,221.8 415.0,225.0 414.4,226.1C413.8,227.2 411.5,226.4 409.4,226.7C407.3,227.0 404.5,227.1 402.0,228.0C399.5,228.9 396.6,231.0 394.5,232.3C392.4,233.6 391.5,234.6 389.6,236.0C387.8,237.4 385.5,239.4 383.4,241.0C381.3,242.6 379.3,244.3 377.2,245.3C375.1,246.3 372.9,247.1 371.0,247.2C369.1,247.3 367.2,246.7 366.0,245.9C364.8,245.1 363.9,243.6 363.6,242.2C363.3,240.8 363.7,239.2 364.2,237.3C364.7,235.5 366.0,233.8 366.7,231.1C367.4,228.4 367.9,224.9 368.5,221.2C369.1,217.5 369.6,212.7 370.4,208.8C371.2,204.9 372.2,201.1 373.5,197.6C374.8,194.1 376.8,190.8 378.4,187.7C380.0,184.6 381.5,181.5 383.4,179.0C385.3,176.5 387.5,174.5 389.6,172.8C391.7,171.2 394.4,170.6 395.8,169.1C397.2,167.6 397.7,166.2 398.3,164.1C398.9,162.0 399.3,157.9 399.5,156.7" fill="none" stroke="#f0e020" stroke-width="1" opacity=".7"/></g>
<g clip-path="url(#sclip)">
<path d="M449.1,83.6C450.3,81.9 451.9,80.7 454.0,79.8C456.1,78.9 459.0,78.2 461.5,78.0C464.0,77.8 466.8,77.9 468.9,78.6C471.0,79.3 472.6,81.1 473.9,82.3C475.1,83.5 474.9,84.5 476.4,86.0C477.8,87.5 480.1,89.1 482.6,91.0C485.1,92.9 488.7,95.4 491.2,97.2C493.7,99.0 496.8,100.9 497.4,102.1C498.0,103.3 496.0,104.3 495.0,104.6C494.0,104.9 492.0,103.4 491.2,104.0C490.4,104.6 491.0,107.4 490.0,108.3C489.0,109.2 486.6,108.6 485.0,109.6C483.4,110.6 482.0,113.0 480.1,114.5C478.2,116.0 475.5,116.8 473.9,118.3C472.2,119.8 471.4,121.3 470.2,123.2C468.9,125.1 467.4,127.8 466.4,129.4C465.4,131.1 465.1,132.2 464.0,133.1C462.9,134.0 460.6,133.8 459.6,135.0C458.6,136.2 458.2,138.6 457.8,140.6C457.4,142.6 457.5,144.5 457.1,146.8C456.7,149.1 455.7,151.5 455.3,154.2C454.9,156.9 455.7,160.6 454.7,162.9C453.7,165.2 451.7,166.2 449.1,167.8C446.5,169.5 442.3,170.9 439.2,172.8C436.1,174.7 433.0,176.9 430.5,179.0C428.0,181.1 426.2,183.1 424.3,185.2C422.4,187.3 420.5,189.1 419.3,191.4C418.1,193.7 417.5,195.9 416.9,198.8C416.3,201.7 416.0,206.1 415.6,208.8C415.2,211.5 414.8,213.2 414.4,215.0C414.0,216.8 413.1,218.1 413.1,219.9C413.1,221.8 415.0,225.0 414.4,226.1C413.8,227.2 411.5,226.4 409.4,226.7C407.3,227.0 404.5,227.1 402.0,228.0C399.5,228.9 396.6,231.0 394.5,232.3C392.4,233.6 391.5,234.6 389.6,236.0C387.8,237.4 385.5,239.4 383.4,241.0C381.3,242.6 379.3,244.3 377.2,245.3C375.1,246.3 372.9,247.1 371.0,247.2C369.1,247.3 367.2,246.7 366.0,245.9C364.8,245.1 363.9,243.6 363.6,242.2C363.3,240.8 363.7,239.2 364.2,237.3C364.7,235.5 366.0,233.8 366.7,231.1C367.4,228.4 367.9,224.9 368.5,221.2C369.1,217.5 369.6,212.7 370.4,208.8C371.2,204.9 372.2,201.1 373.5,197.6C374.8,194.1 376.8,190.8 378.4,187.7C380.0,184.6 381.5,181.5 383.4,179.0C385.3,176.5 387.5,174.5 389.6,172.8C391.7,171.2 394.4,170.6 395.8,169.1C397.2,167.6 397.7,166.2 398.3,164.1C398.9,162.0 399.1,159.2 399.5,156.7C399.9,154.2 399.9,151.8 400.7,149.3C401.5,146.8 402.8,144.1 404.5,141.8C406.2,139.5 408.2,137.7 410.7,135.6C413.2,133.5 416.2,131.5 419.3,129.4C422.4,127.3 426.2,125.3 429.3,123.2C432.4,121.1 435.6,118.8 437.9,117.0C440.2,115.2 441.6,114.2 442.9,112.1C444.1,110.0 444.9,107.1 445.4,104.6C445.9,102.1 445.8,99.7 446.0,97.2C446.2,94.7 446.1,92.1 446.6,89.8C447.1,87.5 447.9,85.3 449.1,83.6Z" fill="#30b020"/>
<g filter="url(#b4)" fill="none">
<path d="M362.0,256.2L369.8,242.2L371.7,238.7" stroke="#4848b8" stroke-width="70"/>
<path d="M370.9,240.1L372.8,236.6L374.8,233.2" stroke="#8030c0" stroke-width="70"/>
<path d="M374.0,234.6L375.9,231.1L380.6,222.5" stroke="#c028a0" stroke-width="70"/>
<path d="M378.7,226.0L383.4,217.4L387.3,208.9" stroke="#e82060" stroke-width="70"/>
<path d="M385.7,212.3L389.6,203.8L393.5,195.3" stroke="#d02880" stroke-width="70"/>
<path d="M391.9,198.7L395.8,190.2L402.8,182.4" stroke="#7048b8" stroke-width="70"/>
<path d="M400.0,185.5L406.9,177.8L413.1,170.0" stroke="#30a838" stroke-width="70"/>
<path d="M410.7,173.1L416.9,165.4L421.5,157.6" stroke="#30b020" stroke-width="70"/>
<path d="M419.6,160.7L424.3,153.0L430.5,145.2" stroke="#60c020" stroke-width="70"/>
<path d="M428.0,148.3L434.2,140.6L440.4,132.1" stroke="#a0d820" stroke-width="70"/>
<path d="M437.9,135.5L444.1,126.9L448.0,117.6" stroke="#80cc20" stroke-width="70"/>
<path d="M446.5,121.4L450.3,112.1L449.6,102.8" stroke="#60b820" stroke-width="70"/>
<path d="M449.9,106.5L449.1,97.2L449.5,89.4" stroke="#a8a820" stroke-width="70"/>
<path d="M449.3,92.5L449.7,84.8L450.1,77.0" stroke="#d89020" stroke-width="70"/>
<path d="M377.2,245.9C378.2,243.9 381.3,238.1 383.4,233.5C385.5,229.0 387.5,223.8 389.6,218.7C391.7,213.5 393.9,207.5 395.8,202.6C397.6,197.6 399.9,191.2 400.7,188.9" stroke="#5050b8" stroke-width="16.2"/>
<path d="M380.9,224.9C381.7,222.8 385.0,214.5 385.9,212.5" stroke="#9030c0" stroke-width="6.2"/>
<path d="M392.1,241.0C393.7,238.7 399.1,232.7 402.0,227.3C404.9,222.0 407.4,214.3 409.4,208.8C411.5,203.2 412.7,198.0 414.4,193.9C416.0,189.7 418.5,185.6 419.3,184.0" stroke="#308078" stroke-width="16.2"/>
<path d="M398.3,215.0C399.3,211.9 403.0,201.5 404.5,196.4C405.9,191.2 406.5,186.0 406.9,184.0" stroke="#4070b0" stroke-width="7.5"/>
<circle cx="472.6" cy="98.4" r="25.0" fill="#f8a030"/>
<circle cx="465.2" cy="81.1" r="8.8" fill="#f06020"/>
<circle cx="466.4" cy="122.0" r="12.5" fill="#f0a828"/>
</g>
<use href="#sshade"/>
</g>
</g>
<g transform="translate(729.8,-5.5) scale(0.942,0.953)">
<use href="#brain"/>
<g clip-path="url(#bclip)"><path d="M418.7,117.4 L419.3,113.8 L419.2,112.0 L419.5,110.2 L421.6,111.3 L421.7,114.2 L421.4,117.4 Z" fill="#ef4a22"/><path d="M420.4,114.9 L420.8,110.7 L421.7,108.6 L422.5,106.5 L424.1,107.7 L423.1,111.1 L422.4,114.9 Z" fill="#ef4a22"/><path d="M414.3,117.3 L414.6,112.5 L415.4,110.1 L416.2,107.6 L417.3,109.1 L416.2,113.0 L415.6,117.3 Z" fill="#ef4a22"/><path d="M413.7,122.9 L414.2,118.7 L414.5,116.5 L415.0,114.4 L417.2,115.7 L416.8,119.1 L416.4,122.9 Z" fill="#ef4a22"/><path d="M415.1,109.2 L415.5,107.0 L414.9,105.9 L414.8,104.8 L416.5,105.4 L417.1,107.2 L417.1,109.2 Z" fill="#ef4a22"/><path d="M416.1,112.0 L416.5,108.5 L417.3,106.7 L418.1,104.9 L419.6,106.0 L418.7,108.8 L418.1,112.0 Z" fill="#ef4a22"/><path d="M437.5,117.5 L437.9,115.4 L437.7,114.3 L437.8,113.2 L439.4,113.9 L439.6,115.6 L439.5,117.5 Z" fill="#ef4a22"/><path d="M435.4,119.2 L435.9,116.9 L436.0,115.7 L436.3,114.5 L438.6,115.2 L438.5,117.1 L438.2,119.2 Z" fill="#ef4a22"/><path d="M386.1,156.0 L386.4,153.8 L386.7,152.7 L387.1,151.5 L388.4,152.2 L388.0,154.0 L387.7,156.0 Z" fill="#ef4a22"/><path d="M387.1,168.4 L387.5,163.0 L388.9,160.3 L390.0,157.6 L391.5,159.3 L389.8,163.5 L388.9,168.4 Z" fill="#ef4a22"/><path d="M382.2,158.6 L382.7,155.0 L383.6,153.2 L384.6,151.3 L386.8,152.4 L385.6,155.3 L384.8,158.6 Z" fill="#ef4a22"/><path d="M387.1,159.4 L387.5,154.7 L387.0,152.3 L386.9,150.0 L388.7,151.4 L389.2,155.2 L389.3,159.4 Z" fill="#ef4a22"/><path d="M383.2,161.9 L383.8,157.2 L382.7,154.9 L382.4,152.6 L384.6,153.9 L385.7,157.7 L386.0,161.9 Z" fill="#ef4a22"/><path d="M373.1,182.5 L373.4,177.7 L372.8,175.3 L372.5,172.9 L373.6,174.4 L374.2,178.2 L374.4,182.5 Z" fill="#ef4a22"/><path d="M375.8,186.8 L376.1,182.2 L375.4,179.9 L375.1,177.7 L376.3,179.0 L377.1,182.7 L377.3,186.8 Z" fill="#ef4a22"/><path d="M376.6,178.6 L377.0,175.9 L376.5,174.5 L376.5,173.2 L378.0,174.0 L378.4,176.2 L378.4,178.6 Z" fill="#ef4a22"/><path d="M379.4,192.7 L379.8,187.6 L379.1,185.1 L379.0,182.5 L380.3,184.0 L381.0,188.1 L381.1,192.7 Z" fill="#ef4a22"/><path d="M374.4,187.9 L374.9,185.6 L375.4,184.4 L376.0,183.2 L377.8,183.9 L377.1,185.8 L376.6,187.9 Z" fill="#ef4a22"/><path d="M359.9,219.8 L360.4,214.5 L359.9,211.9 L359.9,209.2 L362.0,210.8 L362.6,215.0 L362.6,219.8 Z" fill="#ef4a22"/><path d="M359.0,216.4 L359.5,211.5 L359.9,209.0 L360.5,206.5 L362.4,208.0 L361.9,212.0 L361.4,216.4 Z" fill="#ef4a22"/><path d="M360.9,224.2 L361.5,218.3 L361.9,215.3 L362.5,212.3 L364.9,214.1 L364.3,218.9 L363.8,224.2 Z" fill="#ef4a22"/><path d="M364.0,223.2 L364.3,215.6 L366.3,211.8 L367.9,208.0 L369.3,210.3 L366.9,216.4 L365.7,223.2 Z" fill="#ef4a22"/><path d="M359.8,241.3 L360.3,237.9 L359.6,236.2 L359.5,234.5 L361.4,235.5 L362.1,238.2 L362.2,241.3 Z" fill="#ef4a22"/><path d="M363.3,243.2 L363.7,240.6 L363.0,239.2 L362.8,237.9 L364.5,238.7 L365.3,240.8 L365.5,243.2 Z" fill="#ef4a22"/><path d="M365.5,230.9 L365.8,225.8 L365.4,223.2 L365.3,220.6 L366.3,222.2 L366.7,226.3 L366.7,230.9 Z" fill="#f6e020"/><path d="M367.5,222.7 L367.7,219.2 L368.3,217.4 L368.9,215.6 L370.0,216.7 L369.2,219.5 L368.7,222.7 Z" fill="#f6e020"/><path d="M365.6,221.7 L365.9,216.2 L366.6,213.4 L367.3,210.6 L368.6,212.3 L367.7,216.7 L367.1,221.7 Z" fill="#f6e020"/><path d="M460.4,139.5 L460.7,138.0 L460.4,137.3 L460.3,136.5 L461.6,137.0 L461.9,138.2 L461.9,139.5 Z" fill="#ef4a22"/><path d="M461.2,136.9 L461.5,134.8 L461.5,133.8 L461.8,132.8 L463.0,133.4 L462.9,135.0 L462.7,136.9 Z" fill="#ef4a22"/><path d="M459.7,140.0 L460.2,137.1 L460.3,135.6 L460.7,134.1 L462.8,135.0 L462.6,137.4 L462.3,140.0 Z" fill="#ef4a22"/><path d="M456.6,156.2 L456.9,154.1 L456.3,153.1 L456.0,152.1 L457.2,152.7 L457.9,154.3 L458.0,156.2 Z" fill="#ef4a22"/><path d="M457.4,157.4 L458.0,155.4 L457.8,154.4 L458.1,153.4 L460.3,154.0 L460.4,155.6 L460.2,157.4 Z" fill="#ef4a22"/><path d="M455.8,161.7 L456.2,157.7 L455.3,155.7 L454.9,153.7 L456.3,154.9 L457.3,158.1 L457.5,161.7 Z" fill="#ef4a22"/><path d="M422.7,192.8 L423.2,190.2 L423.3,188.9 L423.7,187.6 L425.8,188.4 L425.6,190.5 L425.3,192.8 Z" fill="#ef4a22"/><path d="M423.9,193.6 L424.2,191.0 L424.8,189.8 L425.4,188.5 L426.8,189.3 L426.1,191.3 L425.7,193.6 Z" fill="#ef4a22"/><path d="M424.3,191.6 L424.8,188.8 L424.7,187.4 L425.0,186.0 L427.0,186.9 L427.0,189.1 L426.7,191.6 Z" fill="#ef4a22"/><path d="M416.5,218.7 L416.9,216.0 L416.1,214.7 L415.9,213.3 L417.6,214.1 L418.4,216.3 L418.6,218.7 Z" fill="#ef4a22"/><path d="M416.5,224.5 L417.1,221.6 L416.7,220.1 L416.8,218.6 L418.9,219.5 L419.2,221.9 L419.1,224.5 Z" fill="#ef4a22"/><path d="M416.9,221.4 L417.3,218.2 L416.5,216.6 L416.3,215.0 L417.8,216.0 L418.6,218.5 L418.9,221.4 Z" fill="#ef4a22"/><path d="M473.3,122.4 L473.7,120.4 L473.2,119.4 L473.1,118.4 L474.9,119.0 L475.4,120.6 L475.4,122.4 Z" fill="#ef4a22"/><path d="M473.0,125.3 L473.4,122.8 L472.9,121.6 L472.9,120.4 L474.6,121.1 L475.2,123.1 L475.2,125.3 Z" fill="#ef4a22"/><path d="M489.4,105.3 L489.9,103.7 L489.3,102.9 L489.2,102.1 L491.1,102.6 L491.7,103.8 L491.7,105.3 Z" fill="#ef4a22"/><path d="M494.4,106.6 L494.8,104.7 L494.5,103.7 L494.5,102.8 L496.0,103.3 L496.3,104.9 L496.3,106.6 Z" fill="#ef4a22"/><path d="M454.7,162.9C453.8,163.7 451.7,166.2 449.1,167.8C446.5,169.5 442.3,170.9 439.2,172.8C436.1,174.7 433.0,176.9 430.5,179.0C428.0,181.1 426.2,183.1 424.3,185.2C422.4,187.3 420.5,189.1 419.3,191.4C418.1,193.7 417.5,195.9 416.9,198.8C416.3,201.7 416.0,206.1 415.6,208.8C415.2,211.5 414.8,213.2 414.4,215.0C414.0,216.8 413.1,218.1 413.1,219.9C413.1,221.8 415.0,225.0 414.4,226.1C413.8,227.2 411.5,226.4 409.4,226.7C407.3,227.0 404.5,227.1 402.0,228.0C399.5,228.9 396.6,231.0 394.5,232.3C392.4,233.6 391.5,234.6 389.6,236.0C387.8,237.4 385.5,239.4 383.4,241.0C381.3,242.6 379.3,244.3 377.2,245.3C375.1,246.3 372.9,247.1 371.0,247.2C369.1,247.3 367.2,246.7 366.0,245.9C364.8,245.1 363.9,243.6 363.6,242.2C363.3,240.8 363.7,239.2 364.2,237.3C364.7,235.5 366.0,233.8 366.7,231.1C367.4,228.4 367.9,224.9 368.5,221.2C369.1,217.5 369.6,212.7 370.4,208.8C371.2,204.9 372.2,201.1 373.5,197.6C374.8,194.1 376.8,190.8 378.4,187.7C380.0,184.6 381.5,181.5 383.4,179.0C385.3,176.5 387.5,174.5 389.6,172.8C391.7,171.2 394.4,170.6 395.8,169.1C397.2,167.6 397.7,166.2 398.3,164.1C398.9,162.0 399.3,157.9 399.5,156.7" fill="none" stroke="#f04820" stroke-width="2.2" opacity=".85"/><path d="M454.7,162.9C453.8,163.7 451.7,166.2 449.1,167.8C446.5,169.5 442.3,170.9 439.2,172.8C436.1,174.7 433.0,176.9 430.5,179.0C428.0,181.1 426.2,183.1 424.3,185.2C422.4,187.3 420.5,189.1 419.3,191.4C418.1,193.7 417.5,195.9 416.9,198.8C416.3,201.7 416.0,206.1 415.6,208.8C415.2,211.5 414.8,213.2 414.4,215.0C414.0,216.8 413.1,218.1 413.1,219.9C413.1,221.8 415.0,225.0 414.4,226.1C413.8,227.2 411.5,226.4 409.4,226.7C407.3,227.0 404.5,227.1 402.0,228.0C399.5,228.9 396.6,231.0 394.5,232.3C392.4,233.6 391.5,234.6 389.6,236.0C387.8,237.4 385.5,239.4 383.4,241.0C381.3,242.6 379.3,244.3 377.2,245.3C375.1,246.3 372.9,247.1 371.0,247.2C369.1,247.3 367.2,246.7 366.0,245.9C364.8,245.1 363.9,243.6 363.6,242.2C363.3,240.8 363.7,239.2 364.2,237.3C364.7,235.5 366.0,233.8 366.7,231.1C367.4,228.4 367.9,224.9 368.5,221.2C369.1,217.5 369.6,212.7 370.4,208.8C371.2,204.9 372.2,201.1 373.5,197.6C374.8,194.1 376.8,190.8 378.4,187.7C380.0,184.6 381.5,181.5 383.4,179.0C385.3,176.5 387.5,174.5 389.6,172.8C391.7,171.2 394.4,170.6 395.8,169.1C397.2,167.6 397.7,166.2 398.3,164.1C398.9,162.0 399.3,157.9 399.5,156.7" fill="none" stroke="#f0e020" stroke-width="1" opacity=".7"/></g>
<g clip-path="url(#sclip)">
<path d="M449.1,83.6C450.3,81.9 451.9,80.7 454.0,79.8C456.1,78.9 459.0,78.2 461.5,78.0C464.0,77.8 466.8,77.9 468.9,78.6C471.0,79.3 472.6,81.1 473.9,82.3C475.1,83.5 474.9,84.5 476.4,86.0C477.8,87.5 480.1,89.1 482.6,91.0C485.1,92.9 488.7,95.4 491.2,97.2C493.7,99.0 496.8,100.9 497.4,102.1C498.0,103.3 496.0,104.3 495.0,104.6C494.0,104.9 492.0,103.4 491.2,104.0C490.4,104.6 491.0,107.4 490.0,108.3C489.0,109.2 486.6,108.6 485.0,109.6C483.4,110.6 482.0,113.0 480.1,114.5C478.2,116.0 475.5,116.8 473.9,118.3C472.2,119.8 471.4,121.3 470.2,123.2C468.9,125.1 467.4,127.8 466.4,129.4C465.4,131.1 465.1,132.2 464.0,133.1C462.9,134.0 460.6,133.8 459.6,135.0C458.6,136.2 458.2,138.6 457.8,140.6C457.4,142.6 457.5,144.5 457.1,146.8C456.7,149.1 455.7,151.5 455.3,154.2C454.9,156.9 455.7,160.6 454.7,162.9C453.7,165.2 451.7,166.2 449.1,167.8C446.5,169.5 442.3,170.9 439.2,172.8C436.1,174.7 433.0,176.9 430.5,179.0C428.0,181.1 426.2,183.1 424.3,185.2C422.4,187.3 420.5,189.1 419.3,191.4C418.1,193.7 417.5,195.9 416.9,198.8C416.3,201.7 416.0,206.1 415.6,208.8C415.2,211.5 414.8,213.2 414.4,215.0C414.0,216.8 413.1,218.1 413.1,219.9C413.1,221.8 415.0,225.0 414.4,226.1C413.8,227.2 411.5,226.4 409.4,226.7C407.3,227.0 404.5,227.1 402.0,228.0C399.5,228.9 396.6,231.0 394.5,232.3C392.4,233.6 391.5,234.6 389.6,236.0C387.8,237.4 385.5,239.4 383.4,241.0C381.3,242.6 379.3,244.3 377.2,245.3C375.1,246.3 372.9,247.1 371.0,247.2C369.1,247.3 367.2,246.7 366.0,245.9C364.8,245.1 363.9,243.6 363.6,242.2C363.3,240.8 363.7,239.2 364.2,237.3C364.7,235.5 366.0,233.8 366.7,231.1C367.4,228.4 367.9,224.9 368.5,221.2C369.1,217.5 369.6,212.7 370.4,208.8C371.2,204.9 372.2,201.1 373.5,197.6C374.8,194.1 376.8,190.8 378.4,187.7C380.0,184.6 381.5,181.5 383.4,179.0C385.3,176.5 387.5,174.5 389.6,172.8C391.7,171.2 394.4,170.6 395.8,169.1C397.2,167.6 397.7,166.2 398.3,164.1C398.9,162.0 399.1,159.2 399.5,156.7C399.9,154.2 399.9,151.8 400.7,149.3C401.5,146.8 402.8,144.1 404.5,141.8C406.2,139.5 408.2,137.7 410.7,135.6C413.2,133.5 416.2,131.5 419.3,129.4C422.4,127.3 426.2,125.3 429.3,123.2C432.4,121.1 435.6,118.8 437.9,117.0C440.2,115.2 441.6,114.2 442.9,112.1C444.1,110.0 444.9,107.1 445.4,104.6C445.9,102.1 445.8,99.7 446.0,97.2C446.2,94.7 446.1,92.1 446.6,89.8C447.1,87.5 447.9,85.3 449.1,83.6Z" fill="#30b020"/>
<g filter="url(#b4)" fill="none">
<path d="M355.0,263.0L364.8,246.8L367.3,242.7" stroke="#f03030" stroke-width="70"/>
<path d="M366.3,244.3L368.8,240.3L371.2,235.4" stroke="#f03030" stroke-width="70"/>
<path d="M370.3,237.3L372.7,232.5L375.2,224.3" stroke="#f03038" stroke-width="70"/>
<path d="M374.2,227.6L376.7,219.4L380.0,211.3" stroke="#f03040" stroke-width="70"/>
<path d="M378.6,214.6L381.9,206.4L386.0,198.3" stroke="#e83050" stroke-width="70"/>
<path d="M384.4,201.6L388.5,193.4L397.6,185.3" stroke="#8040b8" stroke-width="70"/>
<path d="M393.9,188.6L403.0,180.4L411.2,172.3" stroke="#28a830" stroke-width="70"/>
<path d="M407.9,175.6L416.1,167.4L419.4,157.7" stroke="#30b020" stroke-width="70"/>
<path d="M418.1,161.6L421.4,151.8L424.7,142.9" stroke="#80cc18" stroke-width="70"/>
<path d="M423.4,146.5L426.7,137.5L434.9,130.2" stroke="#b8dc10" stroke-width="70"/>
<path d="M431.6,133.1L439.8,125.8L444.8,117.7" stroke="#90cc18" stroke-width="70"/>
<path d="M442.8,120.9L447.7,112.8L447.7,103.1" stroke="#70b818" stroke-width="70"/>
<path d="M447.7,107.0L447.7,97.2L448.1,89.1" stroke="#a0a020" stroke-width="70"/>
<path d="M448.0,92.3L448.4,84.2L448.8,76.1" stroke="#d88020" stroke-width="70"/>
<path d="M375.4,248.1C376.4,246.3 380.4,242.0 381.9,237.7C383.5,233.3 383.5,227.0 384.6,222.0C385.7,217.1 387.2,212.3 388.5,207.7C389.8,203.2 391.8,196.9 392.5,194.7" stroke="#a028c0" stroke-width="7.8"/>
<path d="M381.9,244.2C383.2,242.2 387.9,237.0 389.8,232.5C391.8,227.9 392.7,222.0 393.8,216.8C394.9,211.6 395.3,206.0 396.4,201.2C397.5,196.5 399.7,190.4 400.4,188.2" stroke="#4858b4" stroke-width="14.4"/>
<path d="M395.1,235.1C396.4,232.9 401.0,226.6 403.0,222.0C405.0,217.5 405.6,212.3 406.9,207.7C408.2,203.2 409.3,198.9 410.9,194.7C412.4,190.6 415.3,185.0 416.1,183.0" stroke="#3a80a0" stroke-width="14.4"/>
<circle cx="472.7" cy="95.9" r="26.1" fill="#f06a22"/>
<circle cx="466.1" cy="80.3" r="9.2" fill="#ee4020"/>
<circle cx="464.8" cy="119.3" r="13.1" fill="#e89028"/>
</g>
<use href="#sshade"/>
</g>
</g>
<rect x="115.2" y="215.7" width="40.9" height="40.2" fill="#efc1a3" stroke="#2e2825" stroke-width="1.6"/>
<path d="M139.12,221.49 L137.02,221.49 L135.26,224.24 L131.96,226.72 L129.20,228.21 L129.86,230.96 L133.06,229.31 L136.09,226.56 L136.09,247.66 L139.12,247.66 Z" fill="#000"/>
<rect x="115.2" y="770.9" width="40.9" height="40.2" fill="#e78562" stroke="#2e2825" stroke-width="1.6"/>
<text x="135.35" y="802.9" font-size="36.5" text-anchor="middle" fill="#000">2</text>
<rect x="115.2" y="1323.9" width="40.9" height="40" fill="#d14752" stroke="#2e2825" stroke-width="1.6"/>
<text x="135.35" y="1355.7" font-size="36.5" text-anchor="middle" fill="#000">3</text>
<rect x="812.5" y="47.5" width="636.3" height="336.4" fill="none" stroke="#929292" stroke-width="3"/>
<rect x="1135" y="349.3" width="305.4" height="23.2" fill="url(#cm)"/>
<text x="1135.2" y="341.9" font-size="24.2" fill="#000">min</text>
<text x="1392.4" y="343.6" font-size="24.2" fill="#000">max</text>
<path d="M371.2,443.4C372.5,442.9 376.4,442.4 378.9,440.3C381.4,438.1 383.7,434.6 386.2,430.6C388.6,426.6 391.1,419.5 393.4,416.2C395.7,412.8 397.7,410.6 399.9,410.6C402.1,410.6 404.3,413.8 406.6,416.2C409.0,418.5 411.6,422.8 413.9,424.6C416.2,426.4 418.2,427.2 420.4,427.0C422.6,426.8 424.8,426.0 427.1,423.4C429.5,420.8 431.9,415.6 434.4,411.3C436.8,407.1 439.5,400.8 441.6,398.1C443.7,395.3 445.1,394.9 447.1,394.9C449.1,394.9 450.9,396.1 453.6,398.1C456.3,400.0 459.7,403.7 463.3,406.5C466.9,409.3 471.3,412.1 475.3,414.9C479.3,417.8 483.4,420.9 487.4,423.4C491.4,425.9 495.0,428.4 499.4,429.9C503.9,431.4 509.1,431.8 513.9,432.5C518.7,433.3 523.9,433.3 528.4,434.2C532.8,435.1 536.0,436.6 540.4,437.8C544.8,439.1 548.4,440.6 554.9,441.5C561.3,442.3 568.9,442.7 579.0,443.1C589.0,443.5 600.7,443.7 615.1,443.9C629.6,444.0 657.3,444.1 665.7,444.1L665.7,444.2L371.2,443.9Z" fill="#eeae88"/>
<path d="M371.2,443.4C372.5,442.9 376.4,442.4 378.9,440.3C381.4,438.1 383.7,434.6 386.2,430.6C388.6,426.6 391.1,419.5 393.4,416.2C395.7,412.8 397.7,410.6 399.9,410.6C402.1,410.6 404.3,413.8 406.6,416.2C409.0,418.5 411.6,422.8 413.9,424.6C416.2,426.4 418.2,427.2 420.4,427.0C422.6,426.8 424.8,426.0 427.1,423.4C429.5,420.8 431.9,415.6 434.4,411.3C436.8,407.1 439.5,400.8 441.6,398.1C443.7,395.3 445.1,394.9 447.1,394.9C449.1,394.9 450.9,396.1 453.6,398.1C456.3,400.0 459.7,403.7 463.3,406.5C466.9,409.3 471.3,412.1 475.3,414.9C479.3,417.8 483.4,420.9 487.4,423.4C491.4,425.9 495.0,428.4 499.4,429.9C503.9,431.4 509.1,431.8 513.9,432.5C518.7,433.3 523.9,433.3 528.4,434.2C532.8,435.1 536.0,436.6 540.4,437.8C544.8,439.1 548.4,440.6 554.9,441.5C561.3,442.3 568.9,442.7 579.0,443.1C589.0,443.5 600.7,443.7 615.1,443.9C629.6,444.0 657.3,444.1 665.7,444.1" fill="none" stroke="#3a3033" stroke-width="1.8" stroke-linejoin="round"/>
<path d="M370.7,443.9L666.2,444.2" stroke="#3a3033" stroke-width="1.8"/>
<path d="M398.9,471.3h.01M410.2,467.4h.01M452.3,462.9h.01M439.9,461.8h.01M439.6,464.6h.01M512.5,462.1h.01M504.9,464.5h.01M434.6,464.5h.01M437.9,464.7h.01M408.2,467.5h.01M414.0,472.2h.01M445.1,464.1h.01M538.7,463.3h.01M425.2,470.6h.01M505.5,472.1h.01M449.1,469.1h.01M485.5,468.1h.01M441.8,464.8h.01M457.6,463.9h.01M445.5,470.2h.01M430.3,468.1h.01M458.7,466.7h.01M434.6,462.3h.01M453.5,469.2h.01M428.4,468.0h.01M537.6,468.5h.01M466.1,468.2h.01M507.8,467.5h.01M417.4,473.7h.01M474.0,471.0h.01M469.5,468.8h.01M434.8,472.6h.01M442.7,468.1h.01M436.9,466.1h.01M445.0,469.4h.01M434.6,464.6h.01M403.8,472.5h.01M461.3,472.0h.01M412.7,470.2h.01M407.4,469.6h.01M420.8,463.7h.01M442.5,465.2h.01M450.1,465.8h.01M434.5,466.6h.01M435.7,463.1h.01M481.5,464.4h.01M446.1,462.0h.01M448.2,470.6h.01M450.7,464.5h.01M525.4,468.2h.01M404.3,466.7h.01M443.4,469.6h.01M526.6,465.6h.01M467.0,473.5h.01M457.7,464.9h.01M392.1,473.8h.01M442.5,472.6h.01M524.1,468.1h.01M429.6,464.3h.01M449.9,464.2h.01M397.7,465.5h.01M436.7,472.6h.01M475.5,464.3h.01M427.0,471.5h.01M421.8,470.2h.01M474.5,466.0h.01M483.6,467.8h.01M531.2,470.8h.01M489.9,471.2h.01M446.3,466.4h.01M422.3,472.6h.01M446.9,472.8h.01M397.0,463.1h.01M484.8,472.1h.01M424.5,471.5h.01M431.3,464.5h.01M482.1,473.3h.01M436.4,471.6h.01M463.4,470.1h.01M475.8,464.7h.01M533.4,463.2h.01M395.0,471.1h.01M399.3,466.5h.01M527.0,465.4h.01M410.1,463.0h.01M447.4,461.9h.01M531.9,469.2h.01M436.6,462.5h.01M499.1,473.9h.01M394.8,469.5h.01M521.7,470.4h.01M448.8,468.5h.01M422.0,462.8h.01M420.3,467.3h.01M451.3,473.5h.01M429.3,465.8h.01M426.1,472.9h.01M416.0,468.6h.01M444.9,464.8h.01M449.0,471.7h.01M440.6,463.7h.01M440.1,462.7h.01M501.9,471.5h.01M538.3,465.7h.01M396.7,473.2h.01M419.7,463.5h.01M487.8,465.7h.01M485.0,473.1h.01M472.3,470.4h.01M402.8,463.7h.01M451.5,464.9h.01M393.1,471.9h.01M444.6,472.4h.01M437.2,466.0h.01M406.8,469.8h.01M431.3,462.5h.01M428.1,463.3h.01M412.6,466.7h.01M431.6,464.7h.01M439.0,467.2h.01M451.9,464.7h.01M437.8,464.6h.01M431.2,473.1h.01M490.7,469.8h.01M440.7,463.7h.01M462.2,465.6h.01M452.7,466.4h.01M451.9,469.2h.01M474.1,473.8h.01M442.6,464.9h.01M403.7,471.2h.01M449.4,468.2h.01M398.1,462.3h.01M538.1,469.6h.01M413.2,473.7h.01M398.4,472.3h.01M451.7,467.3h.01M499.1,466.5h.01M468.5,463.8h.01M421.2,473.1h.01M501.2,469.3h.01M428.0,465.4h.01M412.1,461.8h.01M402.9,462.0h.01M451.1,472.2h.01M401.8,468.5h.01M417.7,464.9h.01M452.3,471.9h.01M521.8,467.9h.01M472.5,468.9h.01M429.2,463.1h.01M464.7,471.1h.01M446.9,471.3h.01M515.9,468.0h.01M443.3,468.0h.01M430.9,461.8h.01M437.6,465.6h.01M432.8,470.3h.01M439.0,466.5h.01M399.9,465.2h.01M446.5,472.1h.01M441.5,467.5h.01M468.2,471.1h.01M532.0,463.9h.01M444.5,466.2h.01M437.3,472.5h.01M445.7,473.0h.01M458.4,471.1h.01M451.4,469.6h.01M431.7,469.7h.01M510.7,472.3h.01M461.5,469.3h.01M429.0,470.6h.01M481.9,463.7h.01M469.1,467.6h.01M457.7,466.2h.01M447.3,468.1h.01M509.4,466.8h.01M451.1,464.4h.01M405.9,465.1h.01M392.2,468.3h.01M430.8,471.0h.01M404.3,470.7h.01M466.5,469.4h.01M410.7,463.9h.01M462.0,465.9h.01M406.4,470.6h.01M463.6,473.0h.01M449.2,467.1h.01M461.2,464.1h.01M448.2,473.9h.01M441.0,470.9h.01M443.0,468.3h.01M394.3,470.7h.01M432.6,464.8h.01M451.8,465.6h.01M396.0,467.9h.01M394.6,462.4h.01M446.5,464.5h.01M474.9,469.4h.01M426.0,463.2h.01M447.8,466.7h.01M437.1,463.9h.01M412.6,467.5h.01M442.8,470.7h.01M424.4,473.1h.01M541.1,471.7h.01M467.1,466.5h.01M446.7,466.7h.01M484.5,463.7h.01M487.6,463.6h.01M447.5,466.5h.01M396.4,472.2h.01M487.8,462.5h.01M463.8,465.2h.01M394.0,462.1h.01M452.0,470.3h.01M471.3,466.6h.01M453.4,469.8h.01M407.1,473.4h.01M443.5,469.3h.01M444.5,462.5h.01M430.1,464.2h.01M480.4,470.0h.01M452.0,470.8h.01M456.1,474.0h.01M399.4,472.4h.01M463.9,462.9h.01M468.9,466.4h.01M528.8,468.4h.01M435.3,466.7h.01M452.9,462.1h.01M442.1,471.8h.01M432.4,465.7h.01M398.6,471.8h.01M466.9,467.1h.01M410.7,465.9h.01M425.7,473.7h.01M442.2,469.9h.01M441.5,470.7h.01M471.7,468.4h.01M485.4,465.4h.01M395.8,468.3h.01M395.6,468.9h.01M392.0,469.9h.01M422.4,466.2h.01M425.4,468.0h.01M442.4,473.2h.01M422.6,462.6h.01M520.8,473.2h.01M499.1,471.9h.01M498.5,471.8h.01M396.8,468.9h.01M537.8,470.5h.01M457.1,473.5h.01M449.8,467.6h.01M521.6,463.8h.01M397.9,468.8h.01M489.6,466.9h.01M454.1,463.0h.01M443.1,463.1h.01M411.2,468.3h.01M471.0,463.9h.01M475.6,466.4h.01M471.8,465.3h.01M482.5,472.6h.01M480.5,470.2h.01M446.8,471.7h.01M461.5,474.2h.01M408.1,471.1h.01M458.6,467.8h.01M433.5,471.7h.01M441.8,472.4h.01M435.7,465.5h.01M447.2,463.3h.01M419.6,471.1h.01M521.7,468.9h.01M444.5,468.5h.01M474.8,466.9h.01M449.1,465.5h.01M438.6,468.6h.01M516.3,469.7h.01M551.1,468.8h.01M430.0,473.5h.01M483.4,473.0h.01M497.6,466.5h.01M440.1,466.4h.01M458.3,466.0h.01M435.2,466.2h.01M427.3,463.9h.01M412.8,469.1h.01M420.4,465.0h.01M439.7,470.4h.01M440.0,467.8h.01M450.3,473.9h.01M447.7,463.4h.01M517.2,462.1h.01M410.1,473.7h.01M432.4,472.2h.01M548.4,468.4h.01M426.8,473.9h.01M397.0,467.0h.01M447.9,465.1h.01M417.0,471.7h.01M472.8,470.2h.01M449.0,468.1h.01M476.7,472.4h.01M395.9,473.1h.01M403.4,467.0h.01M487.3,465.4h.01M440.8,468.6h.01M405.0,466.0h.01M434.4,474.1h.01M453.2,473.9h.01M410.5,467.3h.01M461.8,464.6h.01M418.5,466.9h.01M394.7,468.8h.01M446.9,468.4h.01M442.4,466.9h.01M418.4,465.1h.01M402.4,467.6h.01M424.5,464.0h.01M483.7,468.4h.01M451.3,471.9h.01M479.1,467.9h.01M421.2,463.5h.01M407.3,468.5h.01M450.8,470.3h.01M401.2,468.8h.01M480.4,461.8h.01M442.1,464.6h.01M453.5,466.0h.01M444.5,462.0h.01M421.3,464.9h.01M460.2,462.3h.01M395.4,465.1h.01M396.0,473.4h.01M448.7,470.2h.01M417.2,465.8h.01M504.5,471.8h.01M452.6,469.3h.01M480.2,470.2h.01M444.5,468.8h.01M443.8,473.0h.01M450.7,462.4h.01M435.6,464.4h.01M438.3,464.9h.01M417.3,467.7h.01M427.9,466.4h.01M450.7,468.6h.01M472.0,470.3h.01M448.1,473.2h.01M399.1,464.5h.01M473.5,465.9h.01M477.3,472.4h.01M430.3,463.2h.01M443.1,470.1h.01M470.6,461.9h.01M512.7,469.8h.01M431.2,472.8h.01M440.0,469.2h.01M441.1,466.9h.01M441.9,467.6h.01M394.3,468.1h.01M429.1,474.0h.01M495.3,471.8h.01M466.2,471.9h.01M410.7,466.2h.01M398.4,473.2h.01M426.3,466.1h.01M453.6,471.4h.01M429.3,472.0h.01M439.4,469.7h.01M441.9,470.2h.01M477.4,469.8h.01M436.8,470.6h.01M514.2,473.0h.01M433.2,463.9h.01M447.8,465.9h.01M523.4,471.6h.01M437.8,467.9h.01M460.6,464.2h.01M438.3,468.9h.01M497.5,463.6h.01M427.9,462.1h.01M460.1,471.7h.01M414.9,473.9h.01M474.7,462.0h.01M431.7,471.0h.01M493.9,466.6h.01M539.3,470.0h.01M422.0,471.4h.01M513.3,463.9h.01M444.4,467.1h.01M462.7,470.8h.01M451.6,469.9h.01M443.0,471.5h.01M397.6,466.6h.01M445.1,467.7h.01M517.4,461.9h.01M503.9,465.2h.01M431.4,474.1h.01M449.2,468.4h.01M438.0,467.0h.01M396.0,466.6h.01M405.4,466.2h.01M397.1,472.3h.01M459.6,470.9h.01M421.3,464.9h.01M429.1,467.6h.01M394.2,464.9h.01M405.3,468.5h.01M402.8,472.6h.01M444.7,466.6h.01M404.1,462.7h.01M454.2,471.1h.01M432.1,469.1h.01M396.9,462.7h.01M409.4,465.3h.01M453.6,466.2h.01M466.0,470.6h.01M424.0,462.9h.01M465.8,467.5h.01M419.1,469.2h.01M445.8,464.9h.01M392.1,465.7h.01M474.8,469.6h.01M398.9,469.7h.01M408.1,468.1h.01M399.3,470.6h.01M467.9,473.3h.01M398.0,464.9h.01M405.0,466.5h.01M438.8,465.1h.01M451.5,473.3h.01M440.5,473.8h.01M457.7,465.1h.01M398.8,463.4h.01M444.1,462.3h.01M405.4,468.5h.01M498.3,462.9h.01M447.4,467.0h.01M441.3,469.2h.01M403.3,468.3h.01M402.3,472.7h.01M537.7,462.6h.01M492.9,472.2h.01M400.9,473.1h.01M414.2,468.0h.01M538.4,466.7h.01M538.0,472.3h.01M449.7,473.1h.01M441.1,468.7h.01M493.1,467.1h.01M443.3,463.6h.01M446.3,465.2h.01M484.8,471.4h.01M434.3,471.6h.01M442.2,468.9h.01M422.9,468.6h.01M450.9,467.8h.01M452.6,467.3h.01M440.2,461.8h.01M395.5,464.4h.01M477.1,463.1h.01M423.8,472.0h.01M552.7,469.4h.01M452.5,465.1h.01M521.9,468.9h.01M442.0,463.9h.01M503.3,462.8h.01M418.6,465.0h.01M401.8,467.8h.01M456.5,472.7h.01M525.8,462.7h.01M426.6,472.5h.01M396.3,466.3h.01M453.9,465.7h.01M462.2,462.3h.01M445.3,472.7h.01M441.4,464.2h.01M394.2,469.1h.01M395.1,464.2h.01M393.1,465.9h.01M524.4,464.5h.01M487.5,474.0h.01M441.6,471.3h.01M392.1,462.2h.01M442.7,465.4h.01M437.0,466.6h.01M448.4,464.0h.01M449.1,473.4h.01M437.8,462.0h.01M451.5,473.7h.01M439.5,466.0h.01M452.4,473.6h.01M470.1,468.6h.01M437.8,470.3h.01M446.3,467.4h.01M440.4,470.2h.01M444.7,471.8h.01M443.0,465.6h.01M441.8,467.5h.01M478.1,467.3h.01M453.2,470.5h.01M449.6,467.2h.01M449.5,471.6h.01M456.6,461.9h.01M424.4,471.6h.01M477.8,462.8h.01M399.8,469.8h.01M397.9,473.7h.01M442.9,473.8h.01M448.3,471.3h.01M438.5,466.3h.01M416.6,468.3h.01M440.6,462.7h.01M406.2,469.3h.01M445.1,464.8h.01M428.6,463.6h.01M537.3,472.7h.01M423.7,470.2h.01M446.4,468.2h.01M424.5,469.0h.01M417.4,465.2h.01M440.6,471.1h.01M463.2,465.1h.01M428.8,463.0h.01M438.1,463.4h.01M499.2,462.6h.01M461.9,462.6h.01M420.5,461.9h.01M401.2,465.4h.01M443.0,464.7h.01M405.9,464.7h.01M444.1,465.9h.01M427.2,464.1h.01M452.1,464.5h.01M406.0,463.0h.01M462.1,463.6h.01M465.1,462.3h.01M416.1,469.1h.01M440.1,470.1h.01M394.7,471.1h.01M399.6,471.9h.01M401.8,464.9h.01M436.2,462.2h.01M408.0,466.1h.01M440.7,470.0h.01M446.4,466.6h.01M436.1,472.1h.01M486.3,469.3h.01M393.9,471.7h.01M481.7,473.3h.01M496.5,466.4h.01M436.9,466.7h.01M434.5,463.3h.01M403.7,472.6h.01M448.1,467.5h.01M448.0,462.7h.01M442.9,469.8h.01M405.7,465.6h.01M438.3,472.8h.01M497.6,470.3h.01M447.0,470.8h.01M402.3,473.8h.01M440.7,472.5h.01M459.7,470.1h.01M421.2,473.6h.01M446.9,464.4h.01M412.8,465.8h.01M429.7,462.4h.01M509.5,461.8h.01M394.3,466.4h.01M477.0,464.6h.01M423.8,473.0h.01M446.6,468.5h.01M440.7,469.0h.01M438.1,466.2h.01M434.9,464.3h.01M454.9,464.4h.01M395.7,462.4h.01M431.5,470.2h.01M476.4,469.8h.01M402.2,468.9h.01M471.4,474.1h.01M434.6,462.4h.01M431.2,463.4h.01M459.1,474.2h.01M446.5,468.9h.01M437.4,462.6h.01M463.5,464.0h.01M422.5,472.2h.01M408.9,467.8h.01M503.7,469.7h.01M490.0,466.2h.01M450.8,469.0h.01M445.3,465.8h.01M430.0,468.3h.01M446.4,466.7h.01M440.4,473.9h.01M411.9,464.8h.01M454.0,468.1h.01M445.5,473.2h.01M459.1,468.0h.01M445.7,463.8h.01M441.9,470.8h.01M468.6,470.3h.01M449.1,462.9h.01M457.1,463.8h.01M440.4,473.7h.01M447.0,463.9h.01M434.4,464.7h.01M476.0,469.9h.01M441.5,474.2h.01M395.1,474.1h.01M421.6,473.1h.01M443.3,468.7h.01M437.7,468.7h.01M404.0,473.7h.01M446.0,465.3h.01M393.4,474.0h.01M395.9,469.9h.01M459.6,467.2h.01M468.6,472.2h.01M395.9,467.3h.01M402.9,472.4h.01M520.4,466.6h.01M496.7,463.9h.01M442.6,471.4h.01M446.0,462.6h.01M490.2,472.4h.01M440.8,463.0h.01M493.0,468.1h.01M396.9,467.1h.01M484.3,467.7h.01M394.3,473.9h.01M442.8,471.9h.01M403.0,472.7h.01M394.1,462.4h.01M395.8,465.8h.01M414.0,467.8h.01M439.7,465.5h.01M443.3,471.2h.01M403.2,467.3h.01M438.2,468.5h.01M425.9,473.6h.01M445.1,470.8h.01M424.4,467.5h.01M437.2,468.5h.01M401.5,464.3h.01M442.9,471.5h.01M496.5,465.9h.01M504.4,466.3h.01M445.3,466.9h.01M461.9,465.4h.01M402.6,470.5h.01M448.3,466.6h.01M486.9,469.3h.01M461.7,464.5h.01M432.3,465.4h.01M440.2,462.9h.01M428.2,468.4h.01M463.2,471.2h.01M396.2,468.5h.01M451.7,473.9h.01M502.4,463.7h.01M516.2,473.9h.01M397.2,463.4h.01M395.6,471.7h.01M449.2,463.5h.01M428.4,464.7h.01M437.9,473.3h.01M442.4,466.3h.01M399.2,466.1h.01M446.5,470.7h.01M406.0,461.8h.01M447.4,472.0h.01M405.3,471.9h.01M454.7,466.8h.01M398.1,474.2h.01M445.2,470.1h.01M395.8,466.1h.01M457.6,466.4h.01M442.7,462.6h.01M406.8,470.1h.01M438.8,468.8h.01M392.0,472.0h.01M457.6,472.5h.01M451.4,473.1h.01M459.3,462.3h.01M439.3,468.3h.01M443.5,472.3h.01M411.3,467.2h.01M393.5,463.4h.01M416.9,462.1h.01M533.6,467.6h.01M442.1,468.5h.01M453.3,469.8h.01M443.9,473.1h.01M444.2,470.9h.01M434.8,469.1h.01M479.8,463.0h.01M399.3,463.1h.01M447.7,468.2h.01M490.2,465.6h.01M444.8,468.8h.01M427.4,469.2h.01M417.9,467.2h.01M413.8,465.8h.01M520.8,468.4h.01M415.0,470.6h.01M438.6,464.0h.01M439.1,471.2h.01M449.8,470.3h.01M444.2,469.6h.01M420.8,463.6h.01M526.8,472.1h.01M412.7,471.6h.01M443.3,463.1h.01M554.9,472.4h.01M439.6,473.1h.01M442.3,474.0h.01M445.9,469.5h.01M523.9,468.8h.01M397.8,469.3h.01M451.6,473.3h.01M438.8,468.4h.01M445.4,464.1h.01M425.7,463.8h.01M399.0,462.9h.01M432.1,468.8h.01M407.6,469.0h.01M412.8,465.1h.01M487.6,469.4h.01M417.0,467.2h.01M465.5,471.3h.01M468.5,472.4h.01M429.7,473.1h.01M537.9,464.6h.01M504.7,472.6h.01M421.8,465.0h.01M453.5,468.3h.01M397.8,473.0h.01M453.7,465.7h.01M460.4,474.2h.01M485.0,470.4h.01M427.4,471.4h.01M440.6,463.4h.01M471.1,472.8h.01M450.0,468.2h.01M395.0,468.9h.01M402.3,469.8h.01M446.5,467.2h.01M443.9,471.2h.01M453.3,463.5h.01M395.3,469.5h.01M448.4,465.1h.01M443.1,472.1h.01M398.5,463.7h.01M452.2,473.5h.01M475.6,470.0h.01M496.7,467.4h.01M456.4,471.8h.01M434.1,462.1h.01M442.3,471.3h.01M521.0,472.3h.01M406.8,471.8h.01M427.7,470.2h.01M476.3,469.4h.01M420.7,462.7h.01M424.0,469.5h.01M473.6,463.9h.01M452.8,464.9h.01M447.1,469.7h.01M449.2,474.2h.01M467.2,465.5h.01M484.8,463.6h.01M407.8,465.0h.01M401.0,468.7h.01M497.7,469.5h.01M426.5,464.4h.01M460.4,465.6h.01M404.2,468.1h.01M457.9,462.8h.01M445.6,468.7h.01M438.3,464.2h.01M408.2,469.3h.01M490.6,466.1h.01M414.1,461.9h.01M463.1,462.3h.01M415.5,472.6h.01M401.2,473.1h.01M451.6,470.1h.01M440.4,473.6h.01M488.4,468.5h.01M399.9,465.2h.01M410.6,472.7h.01M444.5,465.2h.01M403.1,466.7h.01M477.8,462.1h.01M402.6,472.8h.01M459.4,472.1h.01M476.1,470.4h.01M396.1,466.6h.01M414.2,464.2h.01M453.4,473.1h.01M403.4,468.4h.01M394.0,467.8h.01M392.2,472.9h.01M463.8,469.1h.01M435.6,472.0h.01M446.1,473.4h.01M523.5,472.7h.01M438.1,466.3h.01M470.3,472.3h.01M441.2,466.2h.01M548.6,466.5h.01M442.2,470.3h.01M446.1,462.7h.01M438.6,462.5h.01M462.3,469.6h.01M462.7,467.4h.01M440.8,470.2h.01M417.7,471.3h.01M464.8,463.8h.01M451.8,470.9h.01M437.1,473.8h.01M408.7,462.1h.01M448.6,471.0h.01M402.4,469.7h.01M458.0,471.9h.01M439.2,472.2h.01M444.7,473.4h.01M445.0,470.3h.01M413.6,466.1h.01M471.9,462.0h.01M437.2,474.2h.01M409.5,463.9h.01M442.5,472.2h.01M406.2,470.2h.01M520.2,472.2h.01M445.6,466.9h.01M436.3,466.0h.01M488.3,472.2h.01M455.2,467.1h.01M469.4,468.1h.01M435.6,474.1h.01M456.4,466.1h.01M452.8,468.6h.01M416.2,468.6h.01M483.8,464.6h.01M413.0,463.8h.01M552.0,464.9h.01M394.4,466.6h.01M400.5,468.6h.01M452.2,462.5h.01M455.6,469.2h.01M399.2,472.7h.01M505.1,462.8h.01M468.6,466.1h.01M439.5,470.9h.01M436.3,463.6h.01M393.1,473.8h.01M522.2,473.9h.01M398.1,472.3h.01M394.7,473.6h.01M411.1,473.1h.01M452.2,465.5h.01M464.9,466.7h.01M439.4,462.2h.01M399.3,467.3h.01M444.0,472.5h.01M498.2,462.8h.01M445.9,473.2h.01M444.2,464.0h.01M418.6,466.8h.01M443.1,473.9h.01M490.6,466.6h.01M396.0,464.8h.01M456.7,470.3h.01M449.0,471.4h.01M486.2,470.4h.01M438.6,471.3h.01M426.3,471.6h.01M452.1,462.4h.01M468.7,470.3h.01M449.9,470.9h.01M475.3,462.0h.01M496.7,469.2h.01M457.0,466.8h.01M392.9,471.8h.01M438.8,472.0h.01M397.1,470.8h.01M447.0,465.0h.01M452.2,466.6h.01M505.4,463.6h.01M402.5,474.1h.01M498.2,470.0h.01M439.0,469.3h.01M505.1,466.6h.01M461.4,471.0h.01M397.5,465.1h.01M415.5,461.9h.01M397.8,471.7h.01M399.5,467.6h.01M454.0,462.7h.01M464.4,462.2h.01M447.4,466.9h.01M464.7,472.3h.01M499.1,469.4h.01M465.2,468.9h.01M485.8,463.9h.01M468.1,468.2h.01M460.1,465.8h.01M474.5,471.9h.01M442.1,462.8h.01M475.9,465.3h.01M426.7,473.6h.01M458.1,463.2h.01M517.1,469.8h.01M458.6,472.8h.01M504.7,470.6h.01M448.9,466.4h.01M455.7,473.3h.01M394.8,469.4h.01M412.7,466.2h.01M397.7,467.1h.01M447.9,462.4h.01M417.2,464.2h.01M405.5,464.8h.01M426.3,474.2h.01M455.0,471.3h.01M415.3,467.1h.01M397.7,472.0h.01M452.3,463.8h.01M419.3,465.8h.01M459.1,463.6h.01M406.1,473.0h.01M441.7,462.0h.01M511.0,470.5h.01M413.2,462.7h.01M451.6,466.4h.01M465.6,473.8h.01M491.5,465.9h.01M456.9,469.1h.01M453.3,471.2h.01M416.2,462.7h.01M473.5,464.5h.01M436.9,465.3h.01M501.9,471.2h.01M458.8,472.4h.01M438.8,462.6h.01M397.2,472.3h.01M441.1,467.9h.01M432.8,473.3h.01M483.3,464.4h.01M424.1,462.2h.01M419.0,464.9h.01M449.1,463.4h.01M422.5,465.2h.01M426.6,468.9h.01M436.3,465.4h.01M467.3,463.6h.01M432.0,473.5h.01M469.2,463.9h.01M475.8,469.0h.01M518.5,468.3h.01M423.2,463.1h.01M445.5,463.4h.01M430.3,470.7h.01M441.8,462.0h.01M435.6,471.9h.01M461.4,469.5h.01M405.2,465.4h.01M393.6,466.6h.01M509.3,470.0h.01M430.3,473.1h.01M562.9,469.1h.01M435.8,468.1h.01M431.9,471.5h.01M413.5,474.1h.01M434.9,469.7h.01M448.6,471.5h.01M415.6,462.8h.01M445.8,470.4h.01M422.4,462.4h.01M401.6,464.4h.01M394.4,470.5h.01M451.3,468.4h.01M455.8,466.8h.01M431.6,473.8h.01M463.9,473.2h.01M430.1,463.7h.01M446.3,470.1h.01M403.9,472.0h.01M408.8,465.0h.01M516.0,469.7h.01M432.4,468.0h.01M405.7,468.5h.01M402.1,463.8h.01M451.1,466.6h.01M411.2,466.4h.01M462.0,470.7h.01M503.8,472.4h.01M433.3,469.5h.01M415.7,472.5h.01M435.5,469.0h.01M393.8,465.0h.01M455.6,472.5h.01M445.9,471.9h.01M492.5,466.3h.01M444.3,464.2h.01M437.2,472.9h.01M453.1,468.9h.01M447.9,472.7h.01M394.9,470.3h.01M432.1,464.5h.01M440.2,472.6h.01M433.9,468.8h.01M403.3,470.2h.01M454.8,473.9h.01M441.6,465.3h.01M463.9,465.6h.01M448.0,470.7h.01M443.1,471.9h.01M459.4,464.5h.01M433.3,463.9h.01M404.5,464.8h.01M404.0,473.7h.01M446.9,474.1h.01M459.2,466.4h.01M403.7,467.2h.01M444.8,468.8h.01M494.1,463.2h.01M484.3,466.3h.01M438.4,466.6h.01M453.6,462.4h.01M499.3,472.5h.01M439.2,467.6h.01M428.3,464.3h.01M436.4,464.4h.01M443.2,472.2h.01M435.9,472.2h.01M434.8,464.3h.01M449.1,465.5h.01M400.0,471.2h.01M422.0,463.1h.01M439.7,473.6h.01M487.6,467.9h.01M438.3,467.1h.01M494.5,467.2h.01M521.4,461.9h.01M453.4,469.9h.01M405.5,462.2h.01M464.9,472.3h.01M400.9,464.9h.01M439.4,468.2h.01M393.0,472.2h.01M427.4,466.9h.01M527.7,463.9h.01M406.5,466.0h.01M453.2,472.1h.01M470.7,471.8h.01M413.2,464.4h.01M398.4,474.1h.01M459.6,462.9h.01M442.6,468.5h.01M428.1,468.6h.01M460.5,463.5h.01M512.9,466.2h.01M516.6,466.8h.01M464.3,466.7h.01M433.2,469.6h.01M456.6,463.9h.01M462.7,464.5h.01M422.6,473.8h.01M403.0,473.8h.01M446.5,473.8h.01M448.8,473.1h.01M429.1,472.8h.01M437.1,465.6h.01M436.2,468.2h.01M436.3,461.8h.01M398.5,470.6h.01M489.2,473.3h.01M479.6,473.7h.01M538.5,468.7h.01M477.2,463.4h.01M397.9,473.8h.01M400.8,472.8h.01M476.9,462.2h.01M415.6,461.8h.01M398.8,462.5h.01M439.5,470.7h.01M421.3,467.1h.01M430.4,465.4h.01M441.4,461.8h.01M412.8,468.0h.01M454.4,474.1h.01M411.8,471.8h.01M462.8,464.5h.01M470.7,464.0h.01M400.5,473.0h.01M422.7,463.3h.01M470.0,464.3h.01M458.8,471.7h.01M449.9,466.2h.01M477.5,463.0h.01M471.6,473.3h.01M447.1,467.1h.01M409.5,466.4h.01M423.9,469.2h.01M392.6,466.1h.01M457.0,463.2h.01M421.9,465.6h.01M451.5,464.1h.01M451.1,463.8h.01M441.9,470.0h.01M410.9,473.5h.01M450.8,468.9h.01M410.0,462.4h.01M441.4,468.0h.01M462.3,468.8h.01M399.8,468.1h.01M434.8,470.8h.01M469.7,464.1h.01M448.4,466.1h.01M410.5,469.9h.01M442.5,464.7h.01M403.3,473.8h.01M452.7,462.9h.01M409.0,470.9h.01M392.5,466.9h.01M441.8,462.5h.01M447.4,469.7h.01M422.4,473.7h.01M479.0,466.6h.01M414.7,473.7h.01M451.8,467.0h.01M404.1,464.8h.01M498.8,473.8h.01M401.9,472.5h.01M438.4,470.7h.01M403.0,462.8h.01M459.6,464.3h.01M419.9,474.2h.01M453.1,466.7h.01M472.1,464.5h.01M487.6,465.1h.01M441.1,466.2h.01M398.1,470.1h.01M397.9,466.6h.01M441.2,472.2h.01M524.0,466.6h.01M428.2,462.6h.01M435.5,469.0h.01M403.3,473.0h.01M441.0,465.5h.01M398.0,467.2h.01M450.9,467.2h.01M428.7,474.1h.01M403.0,472.9h.01M475.1,469.5h.01M419.5,462.6h.01M505.9,470.3h.01M481.6,472.0h.01M469.4,473.1h.01M407.8,470.6h.01M468.2,462.1h.01M436.0,462.6h.01M397.3,466.5h.01M455.8,469.3h.01M408.7,463.6h.01M456.4,470.1h.01M450.7,470.0h.01M447.8,471.4h.01M446.1,463.1h.01M427.0,465.6h.01M436.8,468.7h.01M406.4,465.2h.01M499.3,466.0h.01M474.1,462.2h.01M519.4,466.0h.01M465.3,462.1h.01M514.1,469.7h.01M443.9,472.1h.01M463.6,469.5h.01M468.0,463.3h.01M441.7,466.5h.01M435.9,469.1h.01M469.0,468.5h.01M399.9,467.6h.01M411.2,463.0h.01M438.1,471.5h.01M392.6,463.7h.01M497.2,472.9h.01M488.4,466.3h.01M443.4,470.0h.01M477.8,465.7h.01M479.3,462.8h.01M456.5,469.0h.01M468.6,466.3h.01M458.7,467.7h.01M404.5,472.1h.01M448.1,472.5h.01M395.0,467.5h.01M399.3,468.1h.01M431.5,471.1h.01M445.2,470.3h.01M436.4,463.3h.01M449.6,473.7h.01M419.0,467.3h.01M395.9,469.6h.01M449.4,464.6h.01M397.2,470.2h.01M481.2,465.9h.01M459.8,470.8h.01M392.1,466.7h.01M447.6,461.8h.01M392.4,468.6h.01M393.4,467.1h.01M451.4,466.2h.01M474.9,466.9h.01M430.2,472.1h.01M435.1,461.9h.01M448.1,471.3h.01M442.8,462.6h.01M448.2,474.0h.01M436.7,471.8h.01M445.2,471.6h.01M434.7,463.7h.01M535.9,462.0h.01M394.1,465.0h.01M453.2,468.9h.01M441.0,463.4h.01M483.1,464.7h.01M455.3,469.1h.01M435.1,473.5h.01M402.4,469.7h.01M414.5,465.5h.01M433.0,468.6h.01M489.1,472.1h.01M540.2,465.5h.01M398.4,467.3h.01M447.8,473.8h.01M434.1,461.8h.01M416.9,466.4h.01M406.5,468.6h.01M506.9,471.6h.01M448.0,470.5h.01M460.6,467.9h.01M392.2,473.9h.01M439.7,467.4h.01M473.9,469.2h.01M445.2,466.4h.01M406.0,465.0h.01M469.5,471.0h.01M462.2,472.2h.01M426.0,472.6h.01M448.4,474.1h.01M457.3,465.5h.01M471.2,466.4h.01M499.3,470.2h.01M470.5,465.6h.01M460.4,472.8h.01M426.7,470.4h.01M461.8,467.4h.01M474.0,473.9h.01M441.9,464.8h.01M400.8,466.5h.01M447.1,462.8h.01M507.3,471.8h.01M467.5,470.5h.01M456.8,473.3h.01M475.5,472.4h.01M434.0,462.5h.01M469.4,465.2h.01M440.4,467.1h.01M440.7,472.3h.01M403.3,466.8h.01M401.3,463.1h.01M396.1,464.9h.01M454.5,464.7h.01M522.1,464.0h.01M463.5,465.6h.01M396.1,467.6h.01M493.4,473.0h.01M500.1,463.1h.01M466.8,467.5h.01M449.9,472.6h.01M528.7,468.5h.01M404.9,463.8h.01M458.6,473.8h.01M493.7,467.1h.01M497.4,471.5h.01M429.5,465.3h.01M515.0,463.4h.01M452.9,474.0h.01M446.4,466.3h.01M439.9,463.9h.01M449.9,462.3h.01M432.5,471.7h.01M451.8,466.4h.01M423.1,467.2h.01M426.4,470.5h.01M394.2,467.7h.01M451.6,467.1h.01M444.9,465.4h.01M467.4,463.4h.01M397.6,467.7h.01M473.8,464.7h.01M460.2,468.8h.01M542.9,467.0h.01M429.1,469.5h.01M469.1,462.8h.01M411.8,467.5h.01M443.4,464.3h.01M427.9,472.8h.01M423.5,468.3h.01M441.0,463.7h.01M435.5,462.5h.01M449.3,471.0h.01M434.6,462.8h.01M429.2,465.5h.01M440.6,472.9h.01M472.3,463.3h.01M433.1,464.3h.01M454.7,471.9h.01M408.5,473.8h.01M399.2,465.4h.01M414.8,462.5h.01M430.3,465.7h.01M470.9,463.5h.01M396.5,463.9h.01M415.3,471.4h.01M448.5,473.6h.01M446.0,470.1h.01M437.8,467.1h.01M393.0,466.1h.01M432.3,468.0h.01M426.5,462.6h.01M413.0,467.6h.01M434.9,469.2h.01M461.7,463.2h.01M446.1,472.9h.01M492.0,467.0h.01M455.7,463.6h.01M445.0,473.4h.01M397.6,463.3h.01M445.2,467.0h.01M430.1,472.0h.01M468.7,471.1h.01M437.5,469.5h.01M444.1,467.7h.01M479.3,469.6h.01M399.7,462.3h.01M455.2,470.0h.01M441.7,468.6h.01M433.4,466.7h.01M481.2,466.6h.01M422.3,463.5h.01M442.4,463.5h.01M394.9,472.9h.01M400.1,473.6h.01M441.4,471.6h.01M437.5,461.8h.01M436.1,466.5h.01M470.7,473.5h.01M461.9,463.1h.01M440.3,471.5h.01M468.4,463.4h.01M444.7,471.3h.01M433.6,472.7h.01M460.8,474.1h.01M437.4,470.2h.01M437.1,462.1h.01M421.9,462.0h.01M436.0,467.5h.01M454.4,469.6h.01M462.4,474.2h.01M400.2,469.9h.01M446.6,469.2h.01M463.4,467.6h.01M401.1,462.7h.01M505.1,471.7h.01M461.4,465.5h.01M458.0,473.4h.01M453.0,473.7h.01M429.7,461.8h.01M470.7,463.8h.01M453.3,473.3h.01M532.4,464.9h.01M411.2,461.8h.01M495.2,472.5h.01M417.3,473.2h.01M393.9,463.6h.01M401.1,462.1h.01M396.2,465.8h.01M438.0,470.6h.01M447.0,473.6h.01M481.6,464.8h.01M437.9,468.2h.01M509.1,473.5h.01M397.5,465.1h.01M428.5,465.8h.01M411.9,467.8h.01M462.5,468.0h.01M442.7,466.1h.01M461.2,463.6h.01M403.0,467.4h.01M446.4,464.8h.01M422.9,463.3h.01M467.6,464.9h.01M419.6,469.6h.01M464.8,463.8h.01M430.5,463.5h.01M400.4,462.7h.01M395.0,465.5h.01M447.1,468.9h.01M437.2,463.1h.01M450.1,470.0h.01M428.7,465.9h.01M395.1,473.7h.01M403.9,473.3h.01M429.5,463.1h.01M399.4,467.6h.01M420.7,470.6h.01M396.6,471.2h.01M473.6,465.0h.01M394.2,465.7h.01M421.7,463.3h.01M430.2,463.4h.01M464.4,466.6h.01M430.0,469.5h.01M438.7,470.9h.01M393.1,468.3h.01M455.6,467.7h.01M456.7,468.7h.01M481.7,468.3h.01M453.1,465.0h.01M524.6,466.7h.01M401.6,466.8h.01M449.8,462.4h.01M392.9,462.7h.01M486.3,469.4h.01M452.7,472.2h.01M452.0,473.3h.01M409.6,471.2h.01M449.7,474.2h.01M395.6,473.5h.01M537.6,467.0h.01M491.4,468.5h.01M449.4,470.6h.01M491.6,471.4h.01M392.7,467.6h.01M434.1,462.9h.01M441.3,466.5h.01M410.0,470.1h.01M413.5,473.2h.01M458.7,467.0h.01M409.2,467.6h.01M423.9,461.9h.01M472.4,471.6h.01M395.2,464.5h.01M446.9,466.2h.01M463.7,470.1h.01M429.7,470.0h.01M474.5,466.9h.01M437.7,462.4h.01M445.7,473.2h.01M403.7,471.7h.01M401.8,467.0h.01M452.6,465.4h.01M446.9,473.6h.01M468.3,470.5h.01M438.1,466.2h.01M537.4,468.5h.01M464.4,472.8h.01M435.0,467.6h.01M454.1,467.9h.01M450.0,465.4h.01M444.6,463.2h.01M485.6,468.4h.01M494.8,462.2h.01M509.1,463.6h.01M428.1,470.1h.01M446.2,469.3h.01M436.7,474.1h.01M500.4,474.1h.01M456.1,471.5h.01M451.2,472.6h.01M419.2,468.8h.01M434.2,462.7h.01M446.3,462.5h.01M469.6,468.7h.01M425.6,463.5h.01M437.0,468.6h.01M403.5,461.9h.01" stroke="#f09a70" stroke-width="1.1" stroke-linecap="round" opacity=".7"/>
<path d="M604.0,469.1h.01M562.3,465.7h.01M584.9,472.2h.01M650.8,469.1h.01M623.0,466.4h.01M638.6,473.6h.01M651.0,469.5h.01M559.4,464.4h.01M567.1,469.4h.01M576.5,467.2h.01M620.6,463.0h.01M557.6,464.7h.01M606.4,464.8h.01M641.9,468.4h.01M595.7,468.1h.01M558.5,469.7h.01M599.7,470.6h.01M575.4,472.9h.01M583.3,471.4h.01M557.1,469.0h.01M642.2,464.0h.01M557.1,462.0h.01M578.1,472.0h.01M566.8,470.0h.01M625.1,464.8h.01M637.0,469.1h.01M582.5,466.5h.01M563.8,472.2h.01M627.2,464.3h.01M558.4,463.6h.01M580.5,466.3h.01M643.1,471.3h.01M563.7,472.9h.01M646.5,473.7h.01M590.6,469.8h.01M639.1,464.0h.01M651.6,465.3h.01M576.7,464.8h.01M613.2,470.9h.01M567.5,464.5h.01M651.3,471.8h.01M570.3,471.9h.01M613.1,467.1h.01" stroke="#f09a70" stroke-width="1.1" stroke-linecap="round" opacity=".4"/>
<rect x="425.2" y="459.5" width="52.3" height="17.6" fill="#fff" fill-opacity=".25" stroke="#3a3033" stroke-width="1.8"/>
<path d="M449.8,459.5V477.1M387.4,468H425.2M477.5,468H555.1M387.4,462.8V473.2M555.1,462.8V473.2" stroke="#3a3033" stroke-width="2" fill="none"/>
<rect x="366.4" y="488.5" width="310.4" height="22.9" fill="url(#cm)"/>
<rect x="560.9" y="489" width="115.1" height="21.9" fill="#cbcbcb" opacity=".66"/>
<rect x="367.2" y="489.3" width="193.3" height="21.3" fill="none" stroke="#111" stroke-width="1.2"/>
<text x="366.6" y="535" font-size="23" textLength="33" lengthAdjust="spacingAndGlyphs" fill="#000">0.0</text>
<text x="642.1" y="535" font-size="23" textLength="33" lengthAdjust="spacingAndGlyphs" fill="#000">1.0</text>
<text x="445.6" y="544.6" font-size="24.2" textLength="156" lengthAdjust="spacingAndGlyphs" fill="#000">Gradient value</text>
<path d="M368.9,999.4C370.5,999.0 375.3,998.8 378.6,997.0C381.8,995.2 385.0,991.8 388.2,988.6C391.4,985.3 395.2,980.0 397.8,977.7C400.5,975.4 401.7,974.7 403.9,974.8C406.1,974.9 408.5,976.6 411.1,978.4C413.7,980.2 416.5,983.9 419.5,985.7C422.6,987.4 425.6,988.6 429.2,989.0C432.8,989.4 437.6,989.6 441.2,988.1C444.8,986.6 447.7,983.3 450.9,980.1C454.1,977.0 457.3,972.0 460.5,969.3C463.7,966.6 467.1,964.3 470.2,964.0C473.2,963.7 475.4,965.7 478.6,967.4C481.8,969.0 485.6,972.3 489.4,974.1C493.2,976.0 497.5,977.3 501.5,978.4C505.5,979.6 509.5,979.6 513.5,980.9C517.6,982.1 521.2,983.9 525.6,985.7C530.0,987.4 535.6,990.2 540.0,991.5C544.5,992.7 547.7,993.1 552.1,993.4C556.5,993.6 561.7,993.1 566.6,992.9C571.4,992.7 577.0,992.0 581.0,992.2C585.0,992.3 587.4,992.9 590.7,993.9C593.9,994.8 596.7,996.7 600.3,997.7C603.9,998.8 607.5,999.6 612.4,1000.1C617.2,1000.7 623.0,1000.7 629.2,1000.9C635.5,1001.0 646.3,1001.1 649.7,1001.1L649.7,1001.1L368.9,999.9Z" fill="#e6694a"/>
<path d="M368.9,999.4C370.5,999.0 375.3,998.8 378.6,997.0C381.8,995.2 385.0,991.8 388.2,988.6C391.4,985.3 395.2,980.0 397.8,977.7C400.5,975.4 401.7,974.7 403.9,974.8C406.1,974.9 408.5,976.6 411.1,978.4C413.7,980.2 416.5,983.9 419.5,985.7C422.6,987.4 425.6,988.6 429.2,989.0C432.8,989.4 437.6,989.6 441.2,988.1C444.8,986.6 447.7,983.3 450.9,980.1C454.1,977.0 457.3,972.0 460.5,969.3C463.7,966.6 467.1,964.3 470.2,964.0C473.2,963.7 475.4,965.7 478.6,967.4C481.8,969.0 485.6,972.3 489.4,974.1C493.2,976.0 497.5,977.3 501.5,978.4C505.5,979.6 509.5,979.6 513.5,980.9C517.6,982.1 521.2,983.9 525.6,985.7C530.0,987.4 535.6,990.2 540.0,991.5C544.5,992.7 547.7,993.1 552.1,993.4C556.5,993.6 561.7,993.1 566.6,992.9C571.4,992.7 577.0,992.0 581.0,992.2C585.0,992.3 587.4,992.9 590.7,993.9C593.9,994.8 596.7,996.7 600.3,997.7C603.9,998.8 607.5,999.6 612.4,1000.1C617.2,1000.7 623.0,1000.7 629.2,1000.9C635.5,1001.0 646.3,1001.1 649.7,1001.1" fill="none" stroke="#3a3033" stroke-width="1.8" stroke-linejoin="round"/>
<path d="M368.4,999.9L650.2,1001.1" stroke="#3a3033" stroke-width="1.8"/>
<path d="M580.3,1020.2h.01M396.3,1028.6h.01M481.9,1027.0h.01M475.1,1021.4h.01M454.7,1028.5h.01M599.8,1026.3h.01M453.5,1019.9h.01M433.8,1030.6h.01M465.9,1022.4h.01M400.9,1031.9h.01M480.6,1030.6h.01M498.3,1030.8h.01M499.0,1023.9h.01M590.3,1021.5h.01M498.1,1025.2h.01M465.2,1031.0h.01M468.5,1023.9h.01M524.4,1025.2h.01M469.4,1028.5h.01M462.6,1023.5h.01M480.4,1030.8h.01M418.8,1023.3h.01M576.8,1025.8h.01M466.8,1026.8h.01M431.7,1025.8h.01M547.6,1020.4h.01M510.2,1030.8h.01M409.3,1020.2h.01M472.5,1022.3h.01M514.8,1026.0h.01M504.4,1022.1h.01M518.6,1028.4h.01M401.9,1020.5h.01M552.5,1028.6h.01M503.4,1021.7h.01M482.8,1020.0h.01M582.5,1019.9h.01M447.2,1028.7h.01M399.9,1019.8h.01M458.3,1028.7h.01M536.5,1030.2h.01M483.7,1022.3h.01M472.8,1020.7h.01M459.3,1021.0h.01M473.5,1025.9h.01M403.6,1022.7h.01M473.7,1019.7h.01M461.9,1020.2h.01M394.3,1025.8h.01M590.0,1031.9h.01M407.1,1022.6h.01M475.4,1029.5h.01M481.4,1024.7h.01M460.6,1019.9h.01M451.9,1028.5h.01M411.9,1021.7h.01M405.4,1026.0h.01M453.9,1027.5h.01M410.4,1031.5h.01M483.3,1025.8h.01M470.6,1024.7h.01M462.3,1020.6h.01M505.9,1025.9h.01M547.4,1023.1h.01M584.6,1019.7h.01M479.7,1023.3h.01M509.6,1019.6h.01M454.8,1025.5h.01M408.1,1020.4h.01M423.1,1031.1h.01M395.5,1021.9h.01M464.3,1025.2h.01M494.2,1021.0h.01M398.3,1030.1h.01M478.2,1028.1h.01M498.2,1025.7h.01M445.6,1029.4h.01M415.5,1025.4h.01M563.7,1031.1h.01M505.1,1022.3h.01M463.0,1024.8h.01M488.6,1026.8h.01M502.6,1023.9h.01M592.1,1024.7h.01M539.9,1027.6h.01M399.6,1022.3h.01M486.0,1024.9h.01M461.6,1026.2h.01M563.0,1020.7h.01M467.4,1022.7h.01M532.3,1028.2h.01M460.5,1029.2h.01M461.9,1025.0h.01M515.7,1025.8h.01M464.4,1028.3h.01M562.3,1025.4h.01M571.3,1028.8h.01M476.6,1030.1h.01M408.4,1024.5h.01M478.4,1027.4h.01M488.2,1027.6h.01M501.7,1031.2h.01M485.2,1030.8h.01M514.7,1029.6h.01M491.8,1028.8h.01M471.8,1029.5h.01M401.5,1024.9h.01M415.9,1025.3h.01M410.9,1020.4h.01M509.4,1028.9h.01M467.0,1023.6h.01M415.3,1019.8h.01M395.5,1021.6h.01M498.9,1024.5h.01M487.1,1030.3h.01M398.8,1024.2h.01M453.7,1019.6h.01M469.8,1024.0h.01M464.2,1025.0h.01M517.3,1027.6h.01M465.7,1030.9h.01M396.2,1023.3h.01M476.9,1027.6h.01M459.0,1020.6h.01M473.5,1026.1h.01M511.1,1027.3h.01M432.0,1025.2h.01M405.9,1031.4h.01M402.8,1024.2h.01M444.3,1020.4h.01M452.5,1025.0h.01M428.2,1031.0h.01M457.0,1031.1h.01M430.4,1022.4h.01M408.8,1024.1h.01M448.9,1022.4h.01M509.1,1024.5h.01M505.6,1030.4h.01M546.1,1028.1h.01M562.8,1028.8h.01M524.8,1028.9h.01M583.8,1027.2h.01M482.6,1024.4h.01M410.8,1023.9h.01M459.5,1021.8h.01M568.4,1019.8h.01M444.7,1030.9h.01M522.7,1024.9h.01M462.8,1029.9h.01M444.0,1027.4h.01M399.8,1031.0h.01M405.7,1024.7h.01M414.0,1022.5h.01M416.3,1023.7h.01M448.6,1020.2h.01M403.0,1024.8h.01M491.0,1026.0h.01M505.6,1029.1h.01M473.5,1031.9h.01M455.4,1027.2h.01M439.3,1026.9h.01M474.7,1031.8h.01M589.1,1025.1h.01M455.9,1020.0h.01M403.8,1021.1h.01M561.9,1030.9h.01M489.5,1020.8h.01M442.9,1021.3h.01M479.6,1031.6h.01M470.6,1030.7h.01M415.2,1026.4h.01M400.9,1020.2h.01M410.5,1029.7h.01M467.1,1030.4h.01M400.8,1021.1h.01M398.5,1022.1h.01M447.2,1030.2h.01M536.0,1025.8h.01M527.9,1020.8h.01M509.0,1022.1h.01M444.1,1024.8h.01M454.7,1029.4h.01M508.3,1025.4h.01M426.9,1031.8h.01M409.0,1028.2h.01M470.4,1026.3h.01M405.3,1026.7h.01M475.4,1028.7h.01M483.7,1020.0h.01M499.4,1029.9h.01M470.5,1021.9h.01M401.7,1026.3h.01M410.8,1031.7h.01M532.3,1023.1h.01M409.8,1028.2h.01M428.2,1026.6h.01M454.9,1028.5h.01M457.2,1021.0h.01M481.5,1030.8h.01M406.3,1026.2h.01M455.9,1031.0h.01M409.5,1028.1h.01M494.8,1025.1h.01M445.8,1022.6h.01M407.3,1021.9h.01M456.4,1023.3h.01M401.5,1030.2h.01M408.3,1027.7h.01M521.8,1023.3h.01M409.9,1023.2h.01M406.1,1023.4h.01M417.2,1023.7h.01M454.9,1029.9h.01M398.8,1027.0h.01M441.9,1026.8h.01M534.9,1025.6h.01M500.5,1021.3h.01M428.8,1031.0h.01M409.0,1030.4h.01M476.1,1026.0h.01M412.9,1020.2h.01M471.3,1027.2h.01M445.4,1031.6h.01M455.4,1024.2h.01M405.5,1026.1h.01M502.6,1031.3h.01M479.2,1028.3h.01M455.8,1020.7h.01M465.5,1029.2h.01M476.1,1028.6h.01M404.0,1025.4h.01M398.7,1023.5h.01M466.4,1027.5h.01M553.6,1026.4h.01M394.7,1024.9h.01M399.7,1027.7h.01M460.0,1023.9h.01M450.1,1027.0h.01M402.6,1024.0h.01M561.3,1029.5h.01M533.0,1031.5h.01M501.6,1027.9h.01M597.6,1030.2h.01M473.8,1024.7h.01M491.4,1020.0h.01M478.3,1029.8h.01M481.8,1030.8h.01M500.2,1024.5h.01M527.2,1026.9h.01M403.9,1024.5h.01M463.2,1027.6h.01M464.4,1030.9h.01M400.4,1025.2h.01M450.6,1026.6h.01M464.8,1024.9h.01M563.7,1027.5h.01M401.4,1021.0h.01M441.5,1028.3h.01M587.2,1026.6h.01M414.8,1025.3h.01M453.5,1022.2h.01M500.9,1029.7h.01M470.4,1023.2h.01M513.2,1026.3h.01M467.1,1022.5h.01M482.5,1030.0h.01M457.3,1026.4h.01M465.0,1031.4h.01M494.5,1025.8h.01M536.4,1027.6h.01M568.3,1026.9h.01M474.0,1031.5h.01M572.2,1027.2h.01M497.8,1024.0h.01M493.6,1021.3h.01M475.6,1024.6h.01M470.0,1029.6h.01M459.7,1026.6h.01M457.1,1029.2h.01M535.3,1027.8h.01M451.3,1025.1h.01M403.5,1024.0h.01M476.3,1021.7h.01M505.4,1020.5h.01M473.5,1030.9h.01M451.8,1019.7h.01M479.1,1023.6h.01M469.2,1031.6h.01M521.2,1026.6h.01M408.3,1021.5h.01M427.5,1026.6h.01M483.6,1022.9h.01M466.0,1022.5h.01M513.3,1021.7h.01M417.9,1028.5h.01M408.1,1022.4h.01M520.6,1025.8h.01M400.3,1025.4h.01M443.0,1021.9h.01M488.6,1030.0h.01M476.8,1021.1h.01M409.0,1019.5h.01M395.7,1021.9h.01M406.7,1029.9h.01M436.1,1025.4h.01M403.6,1021.6h.01M512.1,1025.1h.01M567.5,1021.3h.01M461.2,1029.5h.01M468.2,1023.0h.01M406.9,1021.0h.01M474.1,1021.9h.01M491.3,1022.3h.01M475.5,1029.5h.01M477.3,1021.4h.01M540.4,1020.9h.01M402.5,1025.8h.01M551.8,1031.4h.01M473.1,1031.4h.01M480.7,1026.4h.01M476.2,1030.2h.01M491.1,1028.7h.01M587.5,1025.5h.01M420.2,1027.3h.01M568.2,1029.7h.01M530.7,1030.0h.01M399.7,1026.5h.01M520.0,1020.6h.01M546.9,1029.2h.01M406.3,1020.6h.01M407.0,1024.6h.01M477.2,1023.6h.01M547.9,1023.8h.01M410.8,1027.7h.01M394.8,1024.2h.01M458.3,1022.2h.01M415.7,1030.8h.01M396.2,1028.5h.01M408.7,1027.2h.01M484.4,1023.4h.01M462.8,1025.1h.01M451.9,1022.4h.01M445.0,1026.5h.01M492.6,1026.4h.01M443.4,1021.2h.01M580.0,1029.8h.01M398.8,1020.8h.01M423.6,1019.5h.01M457.5,1029.9h.01M403.9,1029.4h.01M444.3,1021.4h.01M413.3,1022.7h.01M407.6,1029.6h.01M434.2,1025.5h.01M510.7,1031.8h.01M402.7,1023.1h.01M465.6,1026.6h.01M430.0,1019.5h.01M550.7,1025.2h.01M396.3,1025.7h.01M457.0,1021.4h.01M409.8,1028.6h.01M585.2,1031.6h.01M519.7,1030.6h.01M398.3,1029.6h.01M401.0,1028.7h.01M481.0,1029.3h.01M533.5,1023.2h.01M597.7,1029.3h.01M539.1,1026.6h.01M507.5,1022.6h.01M422.1,1019.8h.01M473.5,1030.8h.01M395.8,1021.9h.01M432.7,1031.4h.01M474.1,1021.8h.01M573.0,1027.9h.01M514.1,1023.5h.01M453.1,1024.2h.01M480.0,1028.1h.01M425.9,1021.6h.01M494.5,1029.9h.01M575.0,1019.7h.01M450.6,1027.6h.01M495.2,1031.2h.01M534.4,1026.8h.01M409.1,1030.0h.01M500.1,1019.8h.01M550.9,1020.8h.01M475.8,1027.7h.01M453.1,1030.5h.01M535.9,1026.2h.01M413.1,1022.2h.01M475.9,1021.6h.01M525.6,1031.4h.01M475.6,1023.0h.01M488.1,1022.0h.01M402.6,1022.6h.01M400.8,1021.8h.01M405.9,1020.5h.01M508.3,1027.6h.01M427.0,1031.5h.01M591.1,1023.3h.01M475.3,1023.9h.01M575.6,1031.9h.01M457.1,1020.7h.01M466.7,1022.4h.01M471.3,1025.2h.01M474.2,1021.3h.01M406.6,1027.6h.01M452.8,1023.7h.01M430.8,1026.8h.01M454.0,1019.5h.01M526.2,1020.9h.01M427.1,1031.2h.01M491.9,1029.9h.01M401.2,1026.9h.01M478.1,1028.9h.01M491.5,1030.8h.01M550.0,1020.5h.01M484.2,1026.2h.01M417.6,1029.5h.01M493.1,1028.7h.01M394.8,1019.8h.01M478.5,1025.3h.01M475.1,1030.0h.01M578.4,1023.6h.01M396.8,1022.9h.01M499.9,1021.6h.01M406.9,1030.0h.01M513.5,1022.9h.01M477.5,1024.2h.01M472.0,1030.2h.01M455.6,1027.6h.01M439.0,1025.2h.01M457.9,1027.8h.01M488.1,1029.6h.01M457.1,1030.2h.01M394.6,1026.0h.01M452.0,1023.1h.01M500.1,1031.8h.01M500.0,1029.8h.01M402.0,1030.3h.01M492.8,1028.2h.01M445.4,1028.6h.01M480.1,1027.5h.01M512.5,1022.6h.01M491.6,1025.7h.01M442.0,1024.9h.01M468.7,1020.7h.01M419.6,1022.1h.01M418.0,1031.2h.01M407.4,1026.0h.01M469.8,1031.3h.01M466.8,1026.1h.01M502.7,1025.2h.01M503.5,1021.6h.01M471.4,1026.3h.01M399.0,1023.6h.01M496.8,1027.1h.01M473.5,1031.7h.01M475.5,1020.3h.01M416.0,1031.4h.01M479.2,1029.5h.01M408.2,1021.8h.01M395.7,1025.5h.01M476.1,1026.9h.01M454.0,1026.1h.01M413.3,1029.6h.01M448.2,1027.9h.01M458.4,1023.6h.01M498.3,1031.0h.01M455.0,1027.1h.01M516.9,1028.9h.01M570.2,1019.7h.01M401.7,1022.2h.01M553.4,1030.6h.01M450.1,1023.7h.01M401.9,1023.2h.01M564.0,1022.7h.01M465.8,1029.1h.01M415.9,1025.9h.01M474.8,1024.9h.01M445.0,1031.9h.01M461.5,1024.4h.01M497.7,1020.5h.01M455.2,1030.0h.01M418.8,1029.6h.01M466.6,1030.5h.01M409.9,1019.6h.01M504.6,1019.8h.01M513.2,1027.7h.01M494.2,1022.5h.01M477.0,1022.8h.01M443.8,1022.8h.01M513.6,1019.7h.01M409.5,1026.6h.01M497.8,1030.6h.01M470.3,1020.7h.01M452.0,1023.3h.01M429.0,1031.5h.01M483.2,1024.6h.01M401.1,1029.7h.01M457.7,1029.6h.01M531.8,1022.4h.01M519.6,1022.9h.01M488.0,1031.7h.01M443.8,1022.6h.01M421.6,1030.9h.01M470.6,1020.6h.01M410.9,1023.7h.01M504.2,1021.9h.01M553.2,1025.7h.01M463.8,1028.9h.01M504.2,1023.2h.01M465.1,1027.4h.01M493.5,1031.2h.01M451.1,1024.7h.01M462.3,1030.4h.01M474.5,1023.0h.01M399.5,1027.5h.01M486.0,1019.8h.01M497.8,1028.0h.01M468.7,1031.5h.01M473.8,1026.2h.01M509.6,1029.2h.01M436.4,1022.4h.01M460.7,1026.1h.01M488.5,1025.5h.01M515.9,1019.6h.01M463.8,1024.4h.01M476.5,1030.2h.01M436.2,1027.3h.01M484.9,1025.3h.01M501.7,1029.3h.01M398.9,1027.8h.01M454.2,1020.4h.01M394.9,1022.0h.01M445.3,1028.3h.01M509.1,1022.2h.01M401.2,1024.0h.01M480.9,1028.1h.01M443.9,1021.7h.01M495.5,1026.2h.01M501.8,1026.3h.01M432.1,1029.8h.01M414.6,1024.9h.01M399.7,1019.5h.01M466.6,1031.9h.01M571.4,1031.5h.01M398.7,1026.1h.01M485.0,1019.9h.01M455.6,1024.3h.01M498.4,1020.5h.01M457.6,1029.3h.01M478.4,1028.7h.01M458.9,1027.1h.01M475.2,1028.9h.01M483.6,1029.3h.01M458.0,1030.9h.01M461.9,1030.8h.01M405.4,1020.0h.01M454.7,1029.7h.01M400.1,1029.1h.01M402.5,1023.2h.01M398.5,1022.1h.01M479.8,1019.9h.01M411.5,1028.6h.01M495.9,1023.6h.01M415.7,1031.8h.01M416.9,1024.9h.01M464.4,1028.2h.01M460.8,1029.7h.01M414.1,1025.4h.01M476.5,1020.9h.01M447.2,1025.3h.01M417.8,1031.5h.01M474.7,1021.4h.01M468.1,1023.4h.01M455.2,1023.3h.01M472.7,1031.0h.01M505.2,1020.3h.01M452.0,1020.0h.01M491.9,1031.0h.01M447.3,1023.8h.01M471.3,1022.8h.01M398.2,1026.5h.01M581.1,1030.4h.01M421.1,1019.8h.01M442.1,1025.6h.01M452.5,1030.5h.01M476.6,1022.5h.01M486.1,1029.1h.01M410.7,1025.2h.01M397.1,1023.3h.01M528.6,1020.4h.01M465.8,1027.9h.01M473.2,1028.9h.01M461.9,1026.8h.01M446.5,1021.4h.01M413.3,1027.7h.01M459.3,1021.0h.01M468.3,1024.6h.01M570.2,1025.6h.01M432.6,1020.3h.01M497.3,1029.9h.01M452.6,1027.7h.01M546.8,1022.7h.01M468.7,1029.7h.01M476.4,1019.8h.01M397.9,1025.1h.01M460.7,1029.7h.01M467.6,1031.5h.01M498.4,1027.4h.01M467.9,1029.2h.01M427.3,1021.3h.01M469.4,1022.2h.01M519.4,1028.6h.01M398.2,1022.6h.01M477.7,1026.5h.01M464.2,1025.7h.01M488.0,1023.8h.01M482.3,1022.6h.01M474.4,1025.1h.01M494.9,1028.1h.01M469.7,1023.6h.01M458.3,1023.1h.01M493.3,1021.4h.01M465.9,1023.3h.01M419.5,1025.7h.01M483.1,1026.3h.01M421.2,1029.9h.01M481.9,1024.5h.01M461.1,1027.1h.01M597.3,1025.3h.01M401.1,1026.7h.01M488.2,1022.8h.01M403.7,1026.1h.01M520.8,1030.7h.01M476.3,1027.4h.01M563.0,1031.6h.01M452.9,1022.0h.01M456.2,1028.1h.01M460.2,1024.5h.01M472.2,1028.7h.01M410.4,1025.0h.01M561.0,1028.5h.01M410.2,1031.8h.01M401.3,1021.5h.01M524.0,1030.8h.01M494.1,1027.3h.01M467.7,1023.1h.01M433.7,1030.8h.01M488.2,1028.9h.01M486.9,1022.2h.01M496.4,1027.5h.01M464.8,1030.0h.01M491.8,1030.2h.01M461.1,1029.3h.01M518.8,1024.8h.01M412.7,1026.1h.01M457.2,1027.7h.01M409.4,1025.1h.01M452.6,1027.1h.01M487.1,1029.7h.01M446.5,1027.1h.01M441.3,1028.6h.01M532.4,1031.0h.01M457.0,1024.0h.01M480.8,1023.0h.01M454.9,1024.7h.01M559.5,1026.5h.01M401.0,1029.0h.01M489.0,1026.9h.01M449.6,1031.7h.01M568.2,1027.9h.01M399.4,1029.2h.01M520.7,1023.5h.01M463.5,1022.8h.01M410.7,1031.1h.01M410.0,1028.8h.01M481.4,1026.1h.01M509.9,1031.1h.01M445.2,1031.8h.01M578.6,1027.7h.01M499.7,1022.1h.01M478.4,1021.5h.01M454.4,1030.1h.01M452.2,1024.1h.01M474.7,1019.8h.01M504.9,1019.9h.01M475.8,1027.0h.01M484.1,1019.6h.01M461.3,1025.4h.01M481.0,1024.5h.01M481.6,1027.2h.01M395.0,1022.4h.01M460.5,1029.2h.01M409.6,1024.4h.01M463.2,1021.6h.01M584.8,1022.0h.01M502.8,1024.6h.01M398.1,1031.7h.01M466.8,1021.3h.01M441.8,1030.0h.01M569.4,1023.0h.01M404.1,1025.4h.01M469.0,1025.5h.01M407.0,1021.4h.01M502.5,1031.6h.01M513.5,1026.9h.01M438.5,1021.3h.01M468.5,1026.2h.01M491.6,1030.2h.01M399.9,1026.9h.01M527.3,1022.9h.01M492.4,1024.4h.01M411.0,1029.3h.01M450.8,1030.5h.01M430.1,1028.4h.01M472.4,1019.6h.01M428.5,1028.0h.01M476.0,1022.8h.01M519.2,1031.0h.01M475.9,1030.3h.01M587.9,1031.3h.01M453.9,1022.7h.01M449.9,1023.5h.01M411.9,1028.4h.01M545.2,1021.4h.01M499.7,1024.5h.01M454.5,1026.1h.01M478.0,1023.6h.01M575.4,1025.2h.01M504.4,1026.3h.01M537.7,1030.2h.01M466.7,1029.2h.01M419.2,1029.5h.01M466.3,1031.3h.01M514.1,1028.2h.01M421.9,1020.1h.01M423.1,1027.6h.01M508.7,1021.4h.01M469.4,1022.4h.01M481.0,1023.2h.01M468.5,1026.2h.01M408.0,1020.1h.01M484.6,1023.6h.01M473.2,1025.6h.01M476.9,1021.8h.01M578.8,1021.8h.01M529.5,1030.0h.01M410.1,1030.3h.01M467.1,1028.9h.01M473.0,1029.1h.01M533.3,1030.2h.01M445.5,1028.0h.01M438.7,1029.4h.01M406.8,1030.5h.01M460.9,1029.6h.01M407.3,1030.7h.01M498.4,1019.7h.01M412.1,1031.7h.01M405.0,1028.4h.01M498.1,1026.1h.01M520.8,1019.9h.01M501.6,1031.9h.01M475.4,1022.4h.01M517.9,1026.6h.01M394.7,1030.0h.01M477.0,1026.6h.01M468.5,1021.8h.01M458.6,1028.7h.01M536.1,1027.8h.01M472.1,1029.1h.01M504.3,1024.1h.01M457.9,1020.4h.01M403.4,1029.1h.01M452.5,1019.5h.01M403.2,1020.5h.01M503.6,1029.5h.01M409.0,1029.1h.01M462.8,1025.6h.01M419.3,1025.2h.01M463.6,1024.9h.01M538.4,1029.8h.01M566.4,1019.6h.01M420.4,1029.9h.01M402.6,1021.9h.01M406.2,1030.6h.01M412.7,1029.2h.01M416.0,1025.4h.01M483.9,1022.3h.01M402.9,1022.3h.01M416.0,1031.3h.01M444.3,1023.7h.01M459.7,1026.7h.01M463.5,1023.7h.01M458.6,1030.7h.01M504.1,1031.1h.01M422.7,1025.4h.01M553.8,1031.5h.01M453.3,1026.2h.01M493.0,1028.7h.01M426.8,1028.4h.01M465.0,1022.3h.01M400.9,1023.8h.01M502.9,1020.5h.01M435.8,1028.7h.01M472.3,1020.4h.01M471.1,1029.3h.01M477.8,1024.9h.01M457.0,1020.8h.01M508.6,1028.1h.01M399.8,1024.2h.01M545.7,1026.5h.01M454.8,1020.3h.01M483.9,1022.0h.01M489.7,1030.5h.01M468.6,1025.7h.01M400.7,1022.2h.01M460.6,1028.0h.01M496.2,1023.8h.01M482.9,1031.5h.01M531.9,1029.5h.01M418.9,1027.8h.01M447.5,1020.9h.01M450.3,1026.6h.01M467.0,1020.9h.01M400.3,1023.9h.01M456.2,1020.5h.01M427.4,1028.8h.01M470.6,1027.7h.01M419.4,1023.8h.01M430.4,1024.7h.01M493.6,1024.7h.01M398.8,1020.8h.01M511.7,1025.3h.01M464.3,1028.1h.01M406.4,1028.5h.01M450.8,1025.3h.01M515.7,1025.0h.01M469.0,1019.6h.01M479.5,1028.3h.01M561.3,1019.7h.01M424.1,1030.7h.01M453.3,1028.8h.01M489.3,1027.2h.01M500.0,1021.9h.01M477.5,1030.0h.01M399.5,1030.1h.01M468.1,1030.8h.01M450.1,1022.2h.01M464.6,1031.4h.01M483.1,1020.6h.01M412.1,1031.9h.01M421.3,1019.8h.01M401.4,1025.7h.01M476.2,1021.8h.01M475.1,1031.7h.01M453.0,1022.3h.01M487.3,1023.2h.01M512.7,1024.2h.01M397.1,1022.6h.01M584.8,1025.7h.01M451.6,1023.9h.01M401.5,1026.2h.01M549.9,1027.1h.01M494.2,1029.6h.01M477.2,1030.4h.01M488.4,1019.6h.01M545.9,1025.8h.01M406.2,1026.4h.01M441.3,1023.7h.01M403.8,1020.6h.01M486.9,1031.9h.01M486.5,1027.2h.01M537.8,1025.8h.01M574.9,1024.6h.01M425.5,1026.4h.01M434.9,1024.7h.01M515.0,1020.4h.01M465.8,1019.8h.01M452.1,1021.9h.01M489.7,1022.0h.01M468.4,1029.2h.01M465.4,1029.6h.01M468.1,1024.9h.01M403.4,1022.1h.01M467.0,1025.6h.01M441.8,1024.9h.01M451.6,1023.9h.01M453.5,1031.3h.01M420.3,1019.9h.01M543.2,1028.2h.01M462.2,1024.9h.01M398.5,1025.2h.01M443.0,1021.4h.01M428.8,1031.5h.01M429.5,1025.5h.01M516.4,1031.8h.01M453.5,1020.4h.01M424.7,1023.1h.01M448.2,1025.7h.01M515.6,1024.4h.01M489.2,1026.0h.01M496.9,1029.5h.01M453.0,1026.2h.01M471.4,1026.8h.01M454.5,1025.5h.01M444.7,1031.8h.01M434.9,1019.5h.01M427.3,1025.7h.01M488.5,1028.1h.01M564.6,1022.0h.01M470.3,1027.4h.01M536.1,1030.5h.01M468.0,1022.4h.01M420.4,1021.1h.01M490.7,1029.1h.01M418.2,1031.5h.01M474.0,1019.7h.01M467.3,1026.0h.01M401.1,1019.8h.01M406.3,1025.5h.01M443.7,1031.1h.01M493.3,1030.2h.01M507.6,1027.4h.01M448.4,1031.6h.01M473.3,1030.9h.01M555.4,1027.4h.01M400.2,1031.2h.01M398.8,1022.3h.01M575.4,1025.9h.01M509.4,1031.6h.01M446.4,1030.8h.01M440.3,1024.2h.01M454.7,1020.9h.01M448.0,1030.1h.01M461.1,1026.8h.01M475.4,1022.7h.01M418.1,1030.2h.01M395.6,1025.1h.01M455.3,1030.2h.01M397.3,1030.9h.01M460.3,1029.5h.01M484.4,1028.4h.01M468.1,1022.4h.01M453.4,1019.5h.01M485.2,1022.4h.01M510.3,1029.0h.01M472.7,1027.7h.01M415.6,1029.6h.01M468.8,1029.8h.01M454.6,1022.9h.01M451.7,1029.8h.01M411.7,1021.2h.01M444.4,1027.2h.01M443.3,1025.4h.01M465.5,1024.2h.01M470.0,1023.9h.01M483.3,1028.4h.01M458.6,1031.8h.01M486.7,1020.1h.01M486.1,1021.4h.01M499.3,1030.9h.01M452.6,1022.0h.01M584.6,1026.0h.01M402.5,1023.9h.01M427.4,1028.1h.01M467.4,1021.1h.01M484.8,1027.2h.01M434.6,1020.6h.01M455.5,1026.5h.01M466.4,1026.3h.01M592.2,1027.5h.01M498.9,1021.6h.01M417.0,1027.3h.01M439.0,1025.0h.01M415.1,1022.1h.01M501.1,1028.5h.01M461.4,1031.3h.01M523.5,1028.5h.01M466.3,1022.1h.01M519.5,1028.5h.01M516.6,1021.9h.01M471.2,1019.8h.01M506.1,1025.3h.01M463.5,1023.7h.01M443.7,1028.2h.01M461.6,1020.7h.01M495.3,1030.2h.01M484.9,1022.6h.01M474.1,1028.8h.01M419.4,1031.3h.01M584.7,1021.9h.01M458.3,1027.6h.01M574.3,1020.3h.01M468.0,1030.8h.01M402.1,1020.8h.01M474.7,1019.7h.01M406.9,1028.3h.01M583.7,1022.9h.01M483.5,1026.9h.01M510.5,1024.8h.01M447.9,1027.0h.01M474.3,1028.6h.01M417.9,1024.5h.01M451.3,1029.8h.01M466.6,1023.6h.01M462.4,1029.7h.01M527.1,1031.3h.01M557.2,1024.9h.01M502.2,1029.6h.01M484.4,1024.0h.01M411.9,1023.0h.01M405.6,1020.9h.01M406.8,1020.7h.01M481.8,1029.2h.01M467.4,1028.6h.01M447.8,1019.9h.01M510.2,1031.0h.01M442.8,1028.6h.01M410.2,1023.6h.01M514.4,1023.1h.01M502.4,1028.5h.01M456.3,1021.7h.01M418.5,1028.5h.01M398.3,1020.8h.01M405.9,1026.0h.01M440.5,1020.4h.01M466.6,1029.3h.01M456.9,1021.4h.01M427.8,1019.7h.01M469.4,1031.0h.01M411.1,1025.3h.01M402.7,1026.1h.01M582.2,1030.0h.01M429.6,1021.4h.01M500.4,1028.6h.01M473.7,1023.3h.01M441.9,1021.2h.01M418.8,1030.8h.01M428.7,1021.3h.01M471.1,1026.6h.01M588.1,1028.0h.01M477.2,1025.6h.01M522.3,1028.4h.01M417.8,1031.4h.01M487.4,1029.6h.01M434.8,1028.8h.01M568.3,1019.6h.01M514.0,1020.5h.01M441.3,1030.9h.01M464.3,1028.8h.01M513.8,1031.2h.01M412.5,1020.4h.01M505.4,1023.7h.01M518.2,1021.3h.01M400.0,1020.2h.01M473.3,1027.9h.01M451.4,1031.9h.01M496.5,1021.2h.01M474.6,1028.3h.01M394.6,1031.3h.01M509.4,1021.9h.01M475.9,1022.5h.01M529.7,1020.3h.01M459.6,1028.2h.01M414.5,1030.6h.01M558.6,1025.5h.01M426.0,1030.6h.01M449.2,1025.7h.01M486.5,1027.4h.01M410.9,1020.0h.01M404.7,1027.9h.01M460.3,1021.6h.01M439.0,1023.9h.01M463.3,1023.0h.01M478.6,1026.4h.01M556.6,1025.6h.01M472.6,1021.9h.01M501.5,1022.3h.01M461.1,1020.0h.01M523.2,1026.0h.01M564.0,1028.6h.01M448.3,1023.8h.01M443.1,1019.5h.01M498.8,1030.0h.01M457.6,1026.9h.01M414.9,1020.8h.01M510.0,1020.0h.01M486.3,1020.2h.01M590.6,1025.5h.01M441.3,1029.0h.01M480.9,1020.3h.01M458.5,1023.5h.01M475.9,1021.7h.01M471.4,1029.5h.01M459.5,1024.9h.01M455.1,1025.0h.01M493.1,1019.6h.01M471.4,1021.4h.01M445.8,1022.4h.01M530.0,1030.9h.01M419.7,1029.9h.01M451.2,1027.2h.01M494.3,1028.0h.01M583.7,1027.2h.01M583.8,1029.9h.01M394.7,1026.1h.01M495.7,1028.3h.01M403.1,1026.1h.01M486.8,1025.7h.01M522.2,1022.6h.01M395.2,1030.7h.01M433.0,1027.9h.01M561.0,1020.4h.01M465.2,1022.0h.01M474.9,1024.7h.01M471.1,1030.8h.01M444.5,1030.5h.01M478.5,1029.3h.01M501.1,1028.1h.01M465.7,1031.7h.01M588.0,1029.8h.01M453.2,1031.0h.01M584.3,1019.8h.01M451.9,1031.3h.01M462.3,1028.4h.01M465.8,1022.1h.01M579.2,1030.5h.01M512.8,1022.4h.01M494.3,1022.0h.01M484.1,1022.6h.01M464.4,1026.7h.01M498.7,1023.0h.01M443.4,1031.4h.01M583.2,1024.0h.01M461.6,1027.5h.01M471.9,1023.1h.01M488.8,1021.0h.01M488.0,1028.7h.01M583.5,1021.8h.01M573.2,1028.0h.01M466.1,1019.7h.01M514.4,1024.1h.01M401.7,1027.8h.01M498.4,1029.0h.01M407.1,1031.6h.01M458.8,1026.3h.01M440.3,1020.2h.01M476.6,1029.8h.01M394.1,1023.4h.01M470.6,1025.3h.01M463.1,1023.0h.01M484.8,1024.3h.01M456.9,1026.9h.01M488.7,1031.7h.01M400.7,1026.6h.01M399.4,1021.7h.01M454.1,1020.4h.01M486.7,1022.3h.01M399.8,1028.6h.01M402.1,1031.3h.01M413.0,1026.8h.01M503.9,1020.2h.01M454.7,1021.0h.01M502.3,1027.7h.01M412.0,1024.2h.01M454.3,1027.4h.01M453.9,1021.9h.01M477.3,1030.0h.01M416.8,1023.8h.01M470.7,1029.0h.01M458.1,1030.5h.01M402.9,1031.4h.01M408.6,1030.3h.01M394.6,1023.3h.01M462.2,1024.4h.01M516.9,1024.6h.01M400.1,1022.0h.01M445.2,1026.0h.01M475.4,1019.7h.01M470.1,1030.3h.01M476.0,1023.6h.01M544.8,1025.5h.01M419.7,1026.3h.01M396.0,1026.6h.01M399.2,1020.1h.01M399.6,1024.2h.01M451.4,1031.2h.01M460.5,1021.8h.01M487.9,1024.4h.01M492.6,1028.3h.01M403.0,1031.0h.01M422.0,1028.4h.01M436.4,1024.4h.01M547.5,1030.3h.01M466.0,1029.5h.01M510.5,1024.9h.01M476.4,1022.0h.01M401.6,1022.7h.01M478.7,1028.0h.01M399.9,1021.0h.01M477.4,1027.1h.01M410.3,1031.6h.01M460.2,1027.1h.01M403.7,1021.9h.01M522.4,1031.1h.01M472.2,1029.2h.01M448.7,1024.7h.01M398.6,1021.8h.01M455.9,1019.5h.01M575.2,1022.7h.01M478.6,1021.3h.01M477.8,1026.2h.01M402.0,1031.3h.01M471.8,1026.8h.01M475.6,1023.4h.01M464.7,1028.7h.01M402.1,1031.0h.01M453.4,1022.6h.01M436.7,1026.0h.01M407.2,1022.3h.01M406.5,1028.1h.01M453.2,1019.8h.01M408.2,1027.4h.01M406.1,1027.8h.01M394.1,1025.9h.01M425.0,1021.1h.01M454.4,1021.7h.01M459.6,1029.9h.01M468.3,1028.4h.01M462.7,1023.1h.01M451.9,1026.8h.01M467.0,1019.9h.01M535.1,1026.3h.01M426.4,1022.0h.01M554.8,1025.6h.01M428.9,1022.4h.01M470.8,1030.8h.01M548.4,1020.6h.01M420.8,1024.6h.01M514.4,1020.6h.01M446.0,1022.1h.01M458.6,1025.3h.01M457.8,1028.1h.01M459.1,1028.9h.01M484.7,1021.7h.01M486.7,1027.1h.01M474.8,1028.2h.01M415.0,1030.9h.01M535.4,1019.6h.01M451.4,1030.6h.01M476.4,1026.9h.01M401.1,1029.6h.01M409.3,1021.0h.01M414.9,1020.1h.01M446.2,1026.0h.01M537.0,1022.6h.01M533.8,1029.5h.01M446.1,1030.6h.01M402.4,1025.7h.01M466.1,1021.9h.01M466.4,1029.7h.01M407.4,1025.5h.01M395.8,1022.0h.01M481.3,1029.0h.01M553.2,1022.7h.01M481.3,1022.5h.01M457.6,1030.1h.01M471.7,1025.4h.01M394.5,1028.6h.01M404.1,1027.8h.01M500.6,1019.7h.01M522.6,1022.0h.01M396.3,1020.0h.01M454.3,1026.6h.01M401.1,1028.6h.01M441.9,1027.0h.01M440.4,1023.2h.01M407.5,1024.2h.01M428.5,1021.2h.01M401.0,1028.8h.01M562.2,1030.9h.01M467.8,1024.6h.01M467.9,1019.9h.01M483.9,1028.9h.01M451.2,1028.0h.01M520.0,1024.4h.01M480.8,1030.7h.01M456.1,1023.3h.01M489.1,1021.4h.01M461.9,1029.2h.01M409.2,1022.0h.01M523.2,1020.9h.01M579.2,1028.7h.01M481.8,1022.4h.01M441.1,1029.5h.01M399.3,1027.7h.01M463.0,1021.1h.01M413.8,1022.7h.01M436.6,1029.2h.01M472.9,1021.5h.01M397.8,1022.0h.01M473.1,1020.6h.01M484.9,1020.0h.01M477.9,1024.1h.01M460.1,1028.5h.01M519.2,1029.3h.01M431.2,1023.1h.01M413.3,1031.2h.01M395.5,1023.1h.01M460.5,1026.8h.01M477.1,1020.2h.01M442.2,1030.2h.01M487.8,1026.5h.01M512.9,1030.2h.01M397.0,1025.6h.01M470.9,1031.7h.01M484.7,1029.8h.01M444.6,1023.1h.01M402.4,1026.6h.01M476.8,1024.9h.01M455.8,1022.6h.01M536.5,1022.9h.01M418.3,1022.7h.01M453.0,1025.5h.01M399.7,1020.6h.01M475.4,1022.9h.01M525.2,1031.3h.01M417.5,1028.5h.01M400.3,1030.6h.01M470.6,1020.5h.01M469.3,1029.4h.01M570.7,1022.2h.01M494.8,1031.0h.01M482.0,1031.4h.01M547.4,1021.1h.01M404.2,1025.8h.01M396.2,1025.8h.01M517.5,1025.3h.01M460.7,1020.8h.01M471.8,1030.1h.01M492.4,1026.2h.01M480.3,1028.0h.01M473.7,1027.3h.01M403.2,1024.4h.01M500.0,1022.9h.01M406.8,1026.1h.01M585.3,1021.6h.01M512.0,1031.0h.01M517.2,1024.3h.01M417.8,1030.3h.01M447.0,1019.9h.01M423.1,1021.1h.01M578.2,1030.2h.01M442.4,1021.2h.01M532.5,1022.1h.01M538.4,1021.9h.01M503.6,1020.8h.01M408.7,1025.2h.01M448.5,1021.9h.01M498.2,1023.2h.01M429.8,1019.7h.01M478.6,1031.8h.01M469.0,1022.0h.01M419.4,1028.0h.01M402.4,1021.0h.01M457.5,1023.1h.01M514.0,1021.2h.01M478.5,1027.5h.01M475.8,1024.2h.01M447.8,1020.6h.01M585.8,1023.6h.01M408.9,1029.4h.01M433.5,1025.4h.01M403.4,1020.0h.01M487.6,1029.0h.01M478.3,1020.8h.01M505.7,1027.7h.01M570.4,1028.3h.01M398.0,1024.5h.01M402.4,1026.5h.01M412.0,1025.2h.01M509.6,1030.2h.01M458.9,1023.3h.01M584.7,1030.4h.01M508.7,1024.0h.01M414.7,1030.3h.01M475.7,1024.2h.01M437.9,1021.2h.01M540.0,1021.3h.01M473.3,1029.3h.01M466.0,1020.0h.01M432.5,1025.4h.01M404.0,1030.0h.01M454.7,1022.4h.01M500.1,1029.2h.01M524.7,1026.2h.01M442.5,1029.9h.01M457.0,1022.2h.01M451.1,1024.6h.01M400.7,1031.6h.01M482.3,1020.7h.01M394.6,1019.6h.01M593.2,1027.3h.01M409.1,1028.5h.01M536.7,1026.0h.01M506.0,1020.6h.01M455.3,1030.7h.01M500.6,1021.7h.01M457.0,1030.3h.01M485.8,1019.9h.01M490.0,1030.3h.01M432.9,1024.3h.01M556.5,1028.9h.01M591.6,1025.9h.01M419.5,1029.4h.01M460.6,1027.1h.01M446.9,1031.8h.01M399.7,1026.0h.01M480.7,1030.3h.01M441.4,1031.8h.01M442.6,1026.9h.01M493.5,1023.0h.01M476.1,1026.3h.01M487.0,1021.5h.01M563.3,1025.9h.01M475.1,1022.0h.01M490.0,1030.9h.01M418.8,1026.8h.01M399.1,1022.8h.01M461.4,1023.8h.01M476.9,1029.1h.01M432.6,1031.6h.01M466.7,1022.7h.01M449.6,1027.9h.01M508.4,1020.1h.01M554.3,1022.2h.01M456.9,1026.9h.01M467.3,1020.4h.01M406.1,1028.8h.01M462.7,1028.4h.01M438.8,1021.5h.01M403.0,1027.0h.01M451.5,1029.3h.01M447.3,1020.5h.01M464.6,1020.0h.01M460.8,1020.8h.01M401.4,1031.2h.01M407.4,1021.1h.01M405.1,1027.6h.01M469.3,1027.8h.01M397.4,1024.2h.01M513.2,1025.4h.01M498.8,1020.2h.01M476.8,1029.9h.01M459.8,1020.4h.01M434.5,1026.2h.01M412.7,1028.4h.01M544.1,1026.8h.01M452.8,1031.6h.01M478.6,1031.0h.01M467.2,1027.2h.01M567.3,1025.9h.01M518.4,1020.0h.01M447.0,1031.4h.01M405.5,1023.1h.01M406.8,1030.1h.01M463.3,1031.2h.01M452.6,1029.1h.01M401.8,1020.1h.01M467.8,1022.8h.01M448.2,1028.7h.01M494.7,1031.2h.01M464.5,1021.0h.01M494.9,1029.1h.01M556.6,1024.3h.01M488.2,1031.0h.01M443.6,1027.4h.01M511.9,1022.7h.01M456.2,1022.5h.01M415.9,1023.3h.01M469.4,1020.8h.01M419.8,1027.4h.01M511.7,1031.7h.01M404.8,1027.5h.01M488.0,1027.8h.01M406.9,1026.3h.01M499.7,1031.0h.01M547.9,1027.6h.01M457.7,1024.1h.01M529.9,1026.0h.01M446.2,1027.8h.01M415.0,1026.4h.01M485.1,1028.5h.01M400.5,1025.7h.01M509.2,1022.1h.01" stroke="#ee5a38" stroke-width="1.1" stroke-linecap="round" opacity=".7"/>
<rect x="440.3" y="1016.5" width="72.3" height="17.9" fill="#fff" fill-opacity=".25" stroke="#3a3033" stroke-width="1.8"/>
<path d="M473,1016.5V1034.4M389.4,1025.7H440.3M512.6,1025.7H619.6M389.4,1020.5V1030.9M619.6,1020.5V1030.9" stroke="#3a3033" stroke-width="2" fill="none"/>
<rect x="355.7" y="1048.1" width="306.3" height="22.4" fill="url(#cm)"/>
<rect x="615.5" y="1048.6" width="45.7" height="21.4" fill="#cbcbcb" opacity=".66"/>
<rect x="356.5" y="1048.9" width="258.6" height="20.8" fill="none" stroke="#111" stroke-width="1.2"/>
<text x="356" y="1095.3" font-size="23" textLength="33" lengthAdjust="spacingAndGlyphs" fill="#000">0.0</text>
<text x="632.1" y="1095.3" font-size="23" textLength="33" lengthAdjust="spacingAndGlyphs" fill="#000">1.0</text>
<text x="435.6" y="1104.3" font-size="24.2" textLength="156" lengthAdjust="spacingAndGlyphs" fill="#000">Gradient value</text>
<path d="M379.6,1545.0C381.9,1544.6 389.5,1544.4 393.4,1543.0C397.3,1541.7 399.8,1539.4 403.0,1537.0C406.2,1534.6 409.5,1530.7 412.7,1528.6C415.9,1526.5 419.1,1524.5 422.3,1524.5C425.5,1524.4 428.7,1526.6 431.9,1528.1C435.2,1529.6 438.0,1532.0 441.6,1533.4C445.2,1534.7 449.2,1536.0 453.6,1536.3C458.1,1536.6 464.1,1536.4 468.1,1535.3C472.1,1534.2 474.5,1532.5 477.7,1529.8C481.0,1527.0 484.0,1521.7 487.4,1518.9C490.8,1516.2 495.0,1513.9 498.2,1513.4C501.4,1512.9 503.7,1514.7 506.7,1516.0C509.7,1517.4 512.7,1519.8 516.3,1521.3C519.9,1522.9 523.9,1524.5 528.4,1525.4C532.8,1526.4 538.4,1526.2 542.8,1526.9C547.2,1527.6 550.9,1528.6 554.9,1529.8C558.9,1530.9 562.5,1532.7 566.9,1533.9C571.3,1535.0 575.8,1535.9 581.4,1536.5C587.0,1537.1 595.0,1537.3 600.7,1537.5C606.3,1537.7 610.7,1537.4 615.1,1537.7C619.5,1538.0 623.2,1538.7 627.2,1539.4C631.2,1540.1 635.6,1541.1 639.2,1541.8C642.8,1542.5 645.7,1543.1 648.9,1543.5C652.1,1543.9 656.9,1544.3 658.5,1544.5L658.5,1544.5L379.6,1545Z" fill="#d02435"/>
<path d="M379.6,1545.0C381.9,1544.6 389.5,1544.4 393.4,1543.0C397.3,1541.7 399.8,1539.4 403.0,1537.0C406.2,1534.6 409.5,1530.7 412.7,1528.6C415.9,1526.5 419.1,1524.5 422.3,1524.5C425.5,1524.4 428.7,1526.6 431.9,1528.1C435.2,1529.6 438.0,1532.0 441.6,1533.4C445.2,1534.7 449.2,1536.0 453.6,1536.3C458.1,1536.6 464.1,1536.4 468.1,1535.3C472.1,1534.2 474.5,1532.5 477.7,1529.8C481.0,1527.0 484.0,1521.7 487.4,1518.9C490.8,1516.2 495.0,1513.9 498.2,1513.4C501.4,1512.9 503.7,1514.7 506.7,1516.0C509.7,1517.4 512.7,1519.8 516.3,1521.3C519.9,1522.9 523.9,1524.5 528.4,1525.4C532.8,1526.4 538.4,1526.2 542.8,1526.9C547.2,1527.6 550.9,1528.6 554.9,1529.8C558.9,1530.9 562.5,1532.7 566.9,1533.9C571.3,1535.0 575.8,1535.9 581.4,1536.5C587.0,1537.1 595.0,1537.3 600.7,1537.5C606.3,1537.7 610.7,1537.4 615.1,1537.7C619.5,1538.0 623.2,1538.7 627.2,1539.4C631.2,1540.1 635.6,1541.1 639.2,1541.8C642.8,1542.5 645.7,1543.1 648.9,1543.5C652.1,1543.9 656.9,1544.3 658.5,1544.5" fill="none" stroke="#3a3033" stroke-width="1.8" stroke-linejoin="round"/>
<path d="M379.1,1545L659,1544.5" stroke="#3a3033" stroke-width="1.8"/>
<path d="M448.1,1566.3h.01M503.5,1562.5h.01M444.4,1574.1h.01M496.5,1567.6h.01M508.1,1569.6h.01M561.2,1570.9h.01M507.3,1571.1h.01M500.8,1562.0h.01M560.6,1570.6h.01M563.5,1573.2h.01M485.5,1567.2h.01M598.3,1562.9h.01M414.8,1573.7h.01M494.2,1565.4h.01M491.6,1566.0h.01M503.2,1573.0h.01M515.6,1572.4h.01M635.3,1563.7h.01M566.5,1573.0h.01M504.3,1564.3h.01M549.7,1565.2h.01M411.3,1574.0h.01M420.4,1566.8h.01M425.1,1571.3h.01M555.4,1569.3h.01M410.0,1565.8h.01M566.7,1568.0h.01M408.8,1562.0h.01M426.2,1569.3h.01M422.7,1572.5h.01M477.3,1572.9h.01M482.2,1568.2h.01M512.4,1568.6h.01M515.7,1568.0h.01M495.2,1564.6h.01M477.5,1568.2h.01M498.3,1566.8h.01M498.4,1569.3h.01M507.2,1569.5h.01M494.7,1566.1h.01M525.2,1561.9h.01M409.5,1573.7h.01M447.1,1569.1h.01M471.6,1565.6h.01M483.5,1565.4h.01M485.2,1562.0h.01M504.4,1565.5h.01M439.7,1564.6h.01M426.5,1570.4h.01M415.8,1565.8h.01M548.1,1572.3h.01M425.6,1569.8h.01M560.3,1564.5h.01M417.8,1564.0h.01M540.5,1563.9h.01M465.3,1569.7h.01M533.3,1563.3h.01M465.1,1565.0h.01M481.8,1566.9h.01M486.6,1563.6h.01M566.8,1567.1h.01M614.1,1564.4h.01M526.4,1569.9h.01M490.5,1565.9h.01M432.6,1569.0h.01M465.4,1562.2h.01M577.0,1573.2h.01M579.9,1568.9h.01M425.2,1569.9h.01M491.9,1573.4h.01M501.1,1564.8h.01M560.6,1571.4h.01M479.6,1568.3h.01M544.9,1571.5h.01M596.9,1571.9h.01M555.5,1565.0h.01M461.3,1566.9h.01M495.8,1561.7h.01M404.2,1563.2h.01M412.4,1572.3h.01M417.5,1565.6h.01M471.5,1569.7h.01M501.3,1564.0h.01M469.3,1568.6h.01M520.9,1562.6h.01M425.9,1569.2h.01M533.9,1571.7h.01M510.8,1566.3h.01M495.0,1566.9h.01M521.9,1564.7h.01M504.1,1562.5h.01M481.8,1572.6h.01M588.6,1572.9h.01M532.1,1567.5h.01M420.5,1569.9h.01M564.4,1570.0h.01M523.1,1562.9h.01M498.3,1563.4h.01M529.0,1562.8h.01M421.2,1563.9h.01M420.8,1570.1h.01M554.3,1568.9h.01M528.9,1571.2h.01M495.1,1563.0h.01M527.6,1562.4h.01M473.5,1572.0h.01M443.8,1564.8h.01M504.6,1566.6h.01M481.6,1566.0h.01M478.5,1567.9h.01M620.1,1571.0h.01M429.0,1571.1h.01M511.6,1567.7h.01M515.3,1563.5h.01M419.9,1573.1h.01M492.2,1570.6h.01M424.9,1564.1h.01M500.9,1564.6h.01M527.8,1565.3h.01M521.3,1572.3h.01M500.5,1564.4h.01M479.4,1566.2h.01M475.6,1563.4h.01M633.0,1569.1h.01M496.4,1571.9h.01M502.3,1570.7h.01M547.6,1570.8h.01M607.4,1564.5h.01M438.9,1570.1h.01M613.0,1564.7h.01M424.8,1564.0h.01M526.7,1572.9h.01M452.0,1565.6h.01M484.8,1562.7h.01M420.7,1565.3h.01M483.3,1570.1h.01M492.7,1564.3h.01M506.3,1566.5h.01M499.2,1565.1h.01M507.7,1572.7h.01M568.3,1573.4h.01M485.2,1571.1h.01M463.4,1569.8h.01M532.2,1571.1h.01M610.4,1568.4h.01M417.4,1566.1h.01M524.5,1568.7h.01M428.5,1569.5h.01M430.9,1569.8h.01M421.6,1563.4h.01M475.0,1569.1h.01M503.7,1567.4h.01M469.8,1562.5h.01M525.4,1568.4h.01M520.6,1565.0h.01M486.2,1562.2h.01M490.1,1571.3h.01M481.0,1566.7h.01M504.7,1566.1h.01M544.2,1565.0h.01M413.8,1571.4h.01M518.5,1564.0h.01M484.9,1571.8h.01M523.4,1563.5h.01M479.6,1568.2h.01M499.9,1564.8h.01M528.8,1571.7h.01M566.3,1566.4h.01M503.1,1569.6h.01M623.4,1565.4h.01M560.7,1569.2h.01M516.3,1571.3h.01M511.4,1568.2h.01M489.5,1568.3h.01M407.8,1569.7h.01M493.5,1573.6h.01M556.5,1571.6h.01M507.2,1566.1h.01M432.7,1568.4h.01M587.6,1572.5h.01M517.9,1572.4h.01M506.0,1570.6h.01M520.4,1571.7h.01M598.0,1567.1h.01M535.4,1563.0h.01M423.9,1567.9h.01M522.8,1566.9h.01M509.6,1567.5h.01M534.2,1563.9h.01M577.3,1566.2h.01M482.8,1569.1h.01M432.0,1564.3h.01M530.4,1567.4h.01M424.3,1563.8h.01M479.4,1562.0h.01M414.3,1567.8h.01M491.8,1570.4h.01M406.9,1566.6h.01M432.9,1567.6h.01M428.3,1566.0h.01M413.2,1570.7h.01M465.0,1567.5h.01M587.2,1564.8h.01M465.4,1569.5h.01M478.6,1570.2h.01M622.3,1561.7h.01M422.7,1562.3h.01M515.3,1564.2h.01M620.9,1571.7h.01M580.5,1562.1h.01M474.0,1573.5h.01M415.5,1572.3h.01M416.4,1565.8h.01M515.6,1563.8h.01M525.2,1572.1h.01M506.0,1566.2h.01M480.0,1571.4h.01M490.3,1563.8h.01M523.6,1570.5h.01M482.4,1563.6h.01M516.6,1567.5h.01M538.2,1562.9h.01M440.1,1569.7h.01M565.4,1567.3h.01M577.5,1565.8h.01M478.4,1566.6h.01M602.2,1568.8h.01M413.4,1569.8h.01M442.2,1563.6h.01M512.3,1561.8h.01M441.3,1564.4h.01M501.8,1571.4h.01M504.9,1568.3h.01M424.0,1562.6h.01M544.2,1561.9h.01M617.5,1572.8h.01M417.2,1564.4h.01M550.2,1569.7h.01M541.0,1566.0h.01M502.0,1563.0h.01M550.0,1571.8h.01M437.1,1567.5h.01M517.2,1566.0h.01M488.2,1568.6h.01M521.4,1569.8h.01M500.0,1566.0h.01M488.3,1564.4h.01M431.3,1570.7h.01M566.8,1569.3h.01M591.7,1566.9h.01M613.7,1573.5h.01M495.8,1566.7h.01M467.1,1564.0h.01M419.6,1565.3h.01M494.3,1562.2h.01M519.6,1567.1h.01M484.9,1571.0h.01M455.1,1565.4h.01M478.5,1563.6h.01M538.5,1573.9h.01M625.7,1566.3h.01M425.3,1567.4h.01M502.8,1566.1h.01M546.3,1567.4h.01M564.6,1565.4h.01M451.3,1561.8h.01M417.8,1568.3h.01M422.8,1564.2h.01M535.1,1573.9h.01M542.5,1562.1h.01M422.4,1567.1h.01M468.6,1568.5h.01M415.7,1564.7h.01M534.4,1564.9h.01M407.2,1569.5h.01M515.5,1571.8h.01M443.2,1571.1h.01M535.7,1572.0h.01M500.6,1563.8h.01M580.0,1567.5h.01M515.6,1571.8h.01M501.7,1568.1h.01M424.1,1570.2h.01M633.8,1566.8h.01M482.1,1571.7h.01M497.8,1563.6h.01M473.1,1566.8h.01M552.8,1573.3h.01M498.5,1568.8h.01M502.3,1565.1h.01M527.3,1562.9h.01M510.2,1568.1h.01M580.8,1569.7h.01M431.2,1563.9h.01M485.7,1565.6h.01M467.4,1573.4h.01M471.9,1565.2h.01M415.1,1573.9h.01M405.2,1564.1h.01M408.1,1570.9h.01M550.4,1571.9h.01M601.7,1565.0h.01M490.3,1568.5h.01M405.3,1573.6h.01M421.4,1563.9h.01M635.3,1569.7h.01M413.2,1571.1h.01M424.1,1571.9h.01M555.5,1573.7h.01M501.5,1563.0h.01M487.3,1565.2h.01M414.1,1563.2h.01M486.6,1562.6h.01M431.4,1574.1h.01M618.1,1566.1h.01M607.7,1570.4h.01M468.3,1566.0h.01M525.7,1568.8h.01M493.2,1567.2h.01M505.3,1564.2h.01M506.1,1572.3h.01M431.6,1572.2h.01M424.9,1564.2h.01M412.5,1566.8h.01M556.2,1561.8h.01M564.4,1574.0h.01M511.7,1571.2h.01M417.9,1567.2h.01M418.5,1565.7h.01M491.4,1565.6h.01M483.5,1573.9h.01M598.0,1572.1h.01M467.8,1565.0h.01M417.5,1570.8h.01M474.3,1565.2h.01M620.6,1567.6h.01M505.6,1574.0h.01M502.0,1569.4h.01M407.1,1572.2h.01M529.2,1572.3h.01M487.2,1566.2h.01M437.2,1572.7h.01M496.8,1570.5h.01M480.6,1568.0h.01M481.3,1569.8h.01M561.9,1563.5h.01M435.5,1569.3h.01M413.5,1565.7h.01M454.1,1568.4h.01M591.7,1570.9h.01M552.9,1573.1h.01M494.8,1563.2h.01M559.4,1567.6h.01M558.3,1564.0h.01M550.0,1562.7h.01M424.9,1566.5h.01M492.1,1569.5h.01M510.9,1562.9h.01M623.5,1562.7h.01M495.6,1574.0h.01M492.0,1572.8h.01M546.8,1566.9h.01M505.7,1564.2h.01M478.6,1569.7h.01M493.6,1562.7h.01M436.5,1572.4h.01M500.6,1573.9h.01M511.8,1564.2h.01M476.8,1563.3h.01M503.5,1566.1h.01M541.5,1572.4h.01M518.8,1562.4h.01M490.8,1564.1h.01M557.5,1571.9h.01M583.7,1573.1h.01M479.8,1564.0h.01M407.8,1566.5h.01M552.9,1562.4h.01M481.5,1563.9h.01M444.8,1570.3h.01M469.2,1564.4h.01M493.5,1564.7h.01M518.9,1570.0h.01M499.7,1571.0h.01M482.9,1569.1h.01M510.9,1562.3h.01M540.8,1567.8h.01M500.5,1572.9h.01M508.8,1571.9h.01M631.3,1574.1h.01M489.3,1570.6h.01M475.2,1568.9h.01M417.8,1572.3h.01M493.2,1572.4h.01M492.7,1568.9h.01M545.3,1562.8h.01M536.3,1565.4h.01M565.5,1568.4h.01M637.2,1571.0h.01M453.8,1570.1h.01M520.5,1567.6h.01M500.3,1570.4h.01M501.5,1563.0h.01M500.9,1570.7h.01M426.1,1564.1h.01M483.3,1563.0h.01M407.7,1564.2h.01M489.2,1562.9h.01M506.0,1572.5h.01M491.7,1562.5h.01M458.2,1573.4h.01M421.8,1567.6h.01M490.2,1573.7h.01M427.8,1568.0h.01M424.5,1574.0h.01M539.0,1572.9h.01M419.4,1571.0h.01M436.4,1573.8h.01M475.5,1563.7h.01M509.3,1568.0h.01M486.1,1571.0h.01M494.8,1567.0h.01M532.1,1568.5h.01M501.5,1562.2h.01M428.5,1564.3h.01M535.7,1573.6h.01M551.6,1566.3h.01M408.4,1571.0h.01M585.3,1563.6h.01M624.0,1567.7h.01M518.1,1568.5h.01M512.5,1563.7h.01M418.7,1572.7h.01M412.7,1562.7h.01M534.0,1567.3h.01M450.0,1561.7h.01M463.7,1563.8h.01M408.0,1565.7h.01M616.3,1571.7h.01M485.5,1567.2h.01M509.8,1564.5h.01M496.1,1566.0h.01M436.0,1562.8h.01M473.6,1568.5h.01M500.7,1562.0h.01M427.8,1565.0h.01M537.1,1569.9h.01M522.6,1567.0h.01M468.7,1571.6h.01M488.5,1573.2h.01M503.5,1567.1h.01M422.3,1563.8h.01M487.4,1563.2h.01M492.6,1564.7h.01M589.4,1561.8h.01M487.4,1570.5h.01M565.8,1562.2h.01M509.6,1567.6h.01M471.0,1563.3h.01M507.5,1573.7h.01M412.3,1564.0h.01M419.8,1568.3h.01M535.7,1569.5h.01M409.5,1568.1h.01M600.8,1562.5h.01M515.6,1566.9h.01M523.1,1566.5h.01M493.9,1562.0h.01M475.2,1564.9h.01M490.2,1566.1h.01M513.8,1573.6h.01M489.6,1565.9h.01M405.3,1569.0h.01M500.3,1563.9h.01M414.4,1567.9h.01M452.2,1568.7h.01M472.3,1562.1h.01M525.4,1566.2h.01M519.6,1564.4h.01M433.8,1569.2h.01M513.7,1562.9h.01M535.3,1566.4h.01M492.1,1564.2h.01M484.0,1570.6h.01M569.7,1572.8h.01M538.7,1573.9h.01M420.2,1572.9h.01M418.4,1573.5h.01M466.0,1573.0h.01M489.0,1564.3h.01M547.9,1565.6h.01M497.4,1564.8h.01M471.8,1573.8h.01M454.9,1572.7h.01M444.3,1573.4h.01M440.6,1565.8h.01M470.2,1568.4h.01M501.6,1568.0h.01M476.2,1573.3h.01M540.2,1562.5h.01M444.0,1563.6h.01M626.0,1573.1h.01M499.2,1567.0h.01M411.7,1565.0h.01M467.3,1564.2h.01M587.4,1570.0h.01M421.3,1566.6h.01M484.1,1569.1h.01M443.1,1568.8h.01M479.4,1565.7h.01M415.7,1568.4h.01M481.0,1565.3h.01M495.8,1567.1h.01M535.3,1563.2h.01M430.5,1567.6h.01M482.7,1572.2h.01M481.2,1566.2h.01M492.8,1567.3h.01M495.1,1564.0h.01M616.5,1572.5h.01M430.0,1564.9h.01M408.2,1572.1h.01M553.4,1573.9h.01M406.7,1563.0h.01M534.9,1571.0h.01M542.8,1570.1h.01M561.5,1562.7h.01M556.0,1562.7h.01M546.2,1569.9h.01M516.8,1568.0h.01M585.5,1570.5h.01M523.8,1571.2h.01M516.5,1564.0h.01M506.4,1564.4h.01M499.3,1572.2h.01M493.0,1570.0h.01M419.7,1571.6h.01M558.3,1564.6h.01M431.0,1567.1h.01M482.8,1570.4h.01M471.3,1571.2h.01M532.6,1562.6h.01M595.5,1569.1h.01M487.0,1567.0h.01M432.9,1566.0h.01M501.3,1573.5h.01M511.1,1569.9h.01M503.4,1567.8h.01M492.7,1572.0h.01M429.9,1565.4h.01M543.7,1567.7h.01M495.1,1564.2h.01M443.2,1568.7h.01M498.2,1563.9h.01M431.5,1567.3h.01M500.7,1569.9h.01M550.9,1561.7h.01M492.7,1562.2h.01M533.0,1565.3h.01M512.3,1567.9h.01M561.1,1565.9h.01M408.4,1566.2h.01M501.2,1561.7h.01M404.5,1562.8h.01M549.8,1564.6h.01M524.0,1562.4h.01M519.1,1574.1h.01M415.4,1564.8h.01M564.7,1568.9h.01M426.4,1570.4h.01M411.9,1572.2h.01M594.9,1569.4h.01M618.3,1565.5h.01M414.4,1571.6h.01M419.8,1566.6h.01M564.0,1570.2h.01M543.3,1565.0h.01M481.9,1570.0h.01M563.8,1573.3h.01M520.6,1568.0h.01M526.1,1566.3h.01M483.7,1564.5h.01M554.9,1569.8h.01M489.5,1568.8h.01M497.8,1572.7h.01M505.6,1572.7h.01M430.3,1572.1h.01M636.3,1566.6h.01M438.2,1564.3h.01M536.7,1572.0h.01M480.7,1573.0h.01M510.3,1568.7h.01M494.4,1568.1h.01M467.8,1572.7h.01M532.4,1564.1h.01M526.2,1569.8h.01M438.9,1568.2h.01M483.4,1567.3h.01M513.9,1573.9h.01M418.2,1573.5h.01M512.3,1572.3h.01M512.3,1565.5h.01M507.9,1568.2h.01M452.8,1571.7h.01M495.6,1566.5h.01M489.1,1572.4h.01M539.3,1562.7h.01M543.0,1568.7h.01M488.0,1566.9h.01M562.4,1565.6h.01M547.1,1572.9h.01M478.5,1573.8h.01M405.5,1571.3h.01M417.9,1572.4h.01M501.2,1571.1h.01M549.8,1569.5h.01M472.0,1574.0h.01M615.1,1564.1h.01M439.6,1564.2h.01M429.7,1563.8h.01M620.6,1572.9h.01M545.3,1571.5h.01M479.9,1562.2h.01M523.1,1565.4h.01M545.2,1567.2h.01M416.0,1572.7h.01M489.0,1564.6h.01M509.3,1572.7h.01M411.4,1569.4h.01M547.1,1562.5h.01M428.3,1562.0h.01M420.2,1572.6h.01M552.9,1568.6h.01M563.3,1568.6h.01M478.0,1562.8h.01M447.1,1563.2h.01M622.1,1570.9h.01M557.6,1572.7h.01M604.5,1563.2h.01M541.2,1571.6h.01M483.5,1563.1h.01M436.0,1571.0h.01M421.6,1562.0h.01M618.0,1571.9h.01M554.3,1567.5h.01M519.8,1572.1h.01M421.2,1569.1h.01M412.1,1565.6h.01M405.5,1562.0h.01M463.9,1574.0h.01M514.9,1571.9h.01M520.9,1564.8h.01M427.6,1564.2h.01M520.2,1568.9h.01M503.5,1563.6h.01M449.9,1564.3h.01M516.0,1566.5h.01M609.5,1573.5h.01M504.6,1570.2h.01M427.3,1568.9h.01M494.5,1573.0h.01M540.1,1563.4h.01M523.9,1573.4h.01M619.6,1570.5h.01M501.6,1567.1h.01M506.5,1568.3h.01M532.7,1570.5h.01M504.5,1572.6h.01M412.3,1569.3h.01M447.2,1562.9h.01M440.0,1570.5h.01M556.8,1563.0h.01M482.5,1570.5h.01M475.2,1569.0h.01M465.0,1562.6h.01M499.8,1562.2h.01M493.0,1569.3h.01M486.7,1571.5h.01M422.4,1573.7h.01M478.8,1563.9h.01M518.4,1566.3h.01M510.1,1569.8h.01M612.1,1569.5h.01M509.6,1569.7h.01M512.3,1567.8h.01M518.8,1570.6h.01M615.6,1564.8h.01M628.2,1571.9h.01M498.8,1569.5h.01M477.0,1572.9h.01M416.6,1563.6h.01M529.7,1562.6h.01M420.9,1564.7h.01M472.4,1568.5h.01M486.9,1565.9h.01M496.7,1564.7h.01M430.4,1565.6h.01M564.8,1566.3h.01M469.1,1572.6h.01M491.1,1563.9h.01M440.4,1563.3h.01M503.5,1568.2h.01M491.7,1564.0h.01M553.6,1568.7h.01M452.6,1564.2h.01M428.3,1572.0h.01M499.2,1573.9h.01M425.6,1574.0h.01M539.3,1562.6h.01M547.6,1561.8h.01M541.8,1562.2h.01M497.2,1565.8h.01M475.6,1567.2h.01M563.4,1564.1h.01M512.2,1567.7h.01M500.8,1564.1h.01M572.2,1563.0h.01M621.3,1570.1h.01M469.5,1565.8h.01M546.1,1573.1h.01M476.7,1563.9h.01M488.8,1563.5h.01M491.3,1568.4h.01M434.9,1565.7h.01M568.1,1566.9h.01M549.7,1564.8h.01M412.8,1567.1h.01M558.3,1565.2h.01M529.5,1561.9h.01M507.5,1568.2h.01M418.5,1572.3h.01M490.3,1569.4h.01M517.0,1564.6h.01M482.6,1565.1h.01M509.1,1573.0h.01M479.9,1562.6h.01M414.7,1572.7h.01M482.0,1573.6h.01M624.4,1564.7h.01M473.0,1564.9h.01M479.8,1564.7h.01M523.6,1567.2h.01M494.0,1570.2h.01M491.1,1573.6h.01M533.4,1562.0h.01M492.2,1566.3h.01M418.2,1564.8h.01M536.0,1565.3h.01M548.2,1562.7h.01M454.4,1567.0h.01M580.5,1569.8h.01M424.6,1564.2h.01M483.9,1561.9h.01M492.0,1569.9h.01M547.6,1569.2h.01M460.2,1569.6h.01M408.0,1567.9h.01M424.7,1572.0h.01M479.6,1565.2h.01M491.7,1566.0h.01M470.2,1568.0h.01M499.0,1569.0h.01M477.5,1573.4h.01M419.4,1566.0h.01M421.1,1573.0h.01M537.6,1573.9h.01M503.9,1569.8h.01M565.2,1565.5h.01M437.2,1569.0h.01M486.0,1572.3h.01M511.8,1570.3h.01M430.1,1563.2h.01M576.0,1565.1h.01M428.1,1567.4h.01M517.5,1572.6h.01M492.2,1570.9h.01M502.0,1565.3h.01M487.7,1564.8h.01M544.3,1562.7h.01M547.3,1568.3h.01M504.3,1565.6h.01M528.4,1572.2h.01M474.1,1565.4h.01M520.8,1569.2h.01M476.1,1571.4h.01M429.6,1573.4h.01M433.8,1573.3h.01M602.5,1571.3h.01M586.5,1571.4h.01M475.7,1568.0h.01M488.7,1569.8h.01M519.8,1562.2h.01M415.2,1574.1h.01M527.1,1571.0h.01M416.4,1573.5h.01M554.8,1571.9h.01M525.5,1573.1h.01M487.7,1565.6h.01M500.6,1564.8h.01M416.1,1568.1h.01M506.2,1562.5h.01M442.5,1573.3h.01M513.0,1571.8h.01M474.2,1566.7h.01M519.9,1565.1h.01M450.3,1567.3h.01M425.7,1568.7h.01M483.5,1572.2h.01M514.4,1565.4h.01M566.2,1568.3h.01M540.9,1570.7h.01M493.2,1563.1h.01M506.7,1564.2h.01M505.4,1569.8h.01M480.0,1570.8h.01M598.3,1566.7h.01M526.1,1566.3h.01M533.9,1564.2h.01M516.8,1562.4h.01M470.1,1570.8h.01M427.9,1568.5h.01M486.0,1567.1h.01M494.6,1566.7h.01M431.5,1571.0h.01M502.4,1569.4h.01M454.7,1568.5h.01M568.3,1573.9h.01M487.4,1571.3h.01M456.7,1572.8h.01M624.8,1569.0h.01M504.8,1571.9h.01M546.3,1572.0h.01M609.0,1561.8h.01M428.6,1567.0h.01M576.2,1570.4h.01M427.4,1570.5h.01M580.0,1564.9h.01M498.0,1562.8h.01M404.8,1570.8h.01M474.9,1572.0h.01M528.9,1570.3h.01M538.5,1572.5h.01M550.2,1572.5h.01M499.1,1565.2h.01M587.9,1567.5h.01M563.1,1571.5h.01M492.9,1562.6h.01M423.8,1568.4h.01M498.8,1569.6h.01M416.4,1562.0h.01M489.0,1573.4h.01M485.7,1567.2h.01M476.2,1565.1h.01M494.3,1574.1h.01M516.9,1567.3h.01M613.0,1566.3h.01M415.3,1571.1h.01M430.9,1565.0h.01M513.4,1564.7h.01M494.2,1565.0h.01M503.5,1573.6h.01M456.2,1568.0h.01M502.3,1573.1h.01M436.8,1567.5h.01M426.7,1567.3h.01M485.2,1574.0h.01M617.8,1566.3h.01M601.9,1562.8h.01M412.3,1568.0h.01M488.4,1572.7h.01M635.5,1573.1h.01M500.9,1563.9h.01M469.5,1566.3h.01M579.2,1571.8h.01M482.1,1568.4h.01M532.7,1568.1h.01M505.3,1566.0h.01M557.0,1569.5h.01M415.3,1569.5h.01M417.0,1569.0h.01M485.0,1572.2h.01M464.6,1571.1h.01M503.2,1568.7h.01M524.6,1565.0h.01M513.5,1567.4h.01M571.5,1568.5h.01M503.3,1564.0h.01M507.8,1568.3h.01M494.9,1572.4h.01M629.9,1573.0h.01M492.9,1562.2h.01M557.6,1565.1h.01M470.4,1565.3h.01M461.3,1566.1h.01M541.8,1573.3h.01M484.3,1570.8h.01M521.1,1564.1h.01M537.8,1566.0h.01M507.3,1571.4h.01M581.0,1563.1h.01M525.7,1563.4h.01M499.8,1564.4h.01M549.9,1571.6h.01M616.9,1572.2h.01M576.3,1565.8h.01M426.5,1566.3h.01M449.7,1569.6h.01M443.7,1567.9h.01M524.3,1569.7h.01M577.9,1567.2h.01M524.3,1565.9h.01M425.9,1570.6h.01M520.0,1568.4h.01M408.8,1567.3h.01M540.8,1562.3h.01M603.1,1573.7h.01M629.8,1565.3h.01M421.4,1571.1h.01M624.8,1566.1h.01M533.5,1565.8h.01M495.0,1565.6h.01M503.0,1571.6h.01M491.9,1568.6h.01M495.3,1563.0h.01M422.7,1566.8h.01M550.0,1569.6h.01M597.2,1565.3h.01M437.1,1564.5h.01M498.9,1566.5h.01M519.4,1563.5h.01M518.6,1572.9h.01M505.7,1568.3h.01M490.2,1562.4h.01M603.8,1562.7h.01M591.7,1568.9h.01M577.5,1564.9h.01M463.1,1570.2h.01M434.4,1568.0h.01M410.8,1569.9h.01M427.9,1569.1h.01M416.8,1571.5h.01M495.3,1564.6h.01M498.3,1566.1h.01M424.7,1565.5h.01M415.4,1567.9h.01M418.1,1573.5h.01M527.8,1563.0h.01M509.0,1573.3h.01M495.2,1571.4h.01M413.6,1571.8h.01M548.0,1562.0h.01M520.8,1570.1h.01M528.5,1571.0h.01M625.6,1572.7h.01M494.0,1563.1h.01M537.9,1566.7h.01M404.8,1566.7h.01M590.5,1572.5h.01M424.7,1564.6h.01M465.1,1566.3h.01M474.7,1567.2h.01M563.3,1572.1h.01M491.7,1567.3h.01M638.6,1568.7h.01M488.2,1572.4h.01M501.7,1563.7h.01M495.1,1565.0h.01M461.0,1567.8h.01M484.6,1566.4h.01M429.7,1564.5h.01M618.6,1563.9h.01M495.9,1570.0h.01M498.7,1573.2h.01M444.4,1563.8h.01M503.8,1565.6h.01M441.7,1569.1h.01M517.7,1564.7h.01M524.9,1563.4h.01M635.8,1570.6h.01M477.4,1567.2h.01M516.1,1572.1h.01M423.6,1564.3h.01M421.2,1568.4h.01M491.4,1567.9h.01M495.2,1566.8h.01M565.1,1572.5h.01M518.4,1566.9h.01M547.1,1568.8h.01M439.9,1565.8h.01M485.6,1562.8h.01M488.6,1566.6h.01M541.1,1573.2h.01M529.4,1566.2h.01M487.7,1571.4h.01M464.9,1570.1h.01M458.6,1567.3h.01M422.4,1566.9h.01M434.4,1571.5h.01M521.3,1562.0h.01M532.2,1562.9h.01M527.2,1564.8h.01M505.7,1568.1h.01M479.2,1562.0h.01M564.7,1563.9h.01M508.5,1571.0h.01M484.5,1568.3h.01M408.5,1569.8h.01M464.1,1573.9h.01M496.7,1570.5h.01M460.1,1572.2h.01M492.9,1570.7h.01M426.7,1568.2h.01M504.1,1565.0h.01M492.4,1562.9h.01M542.2,1568.6h.01M481.3,1567.3h.01M480.4,1573.5h.01M479.8,1569.9h.01M505.1,1565.4h.01M412.4,1561.8h.01M482.7,1574.0h.01M480.1,1565.2h.01M479.1,1572.9h.01M495.3,1565.1h.01M515.5,1564.5h.01M604.8,1570.6h.01M590.3,1573.3h.01M482.0,1573.2h.01M498.7,1563.5h.01M501.1,1562.4h.01M546.7,1572.9h.01M479.5,1566.9h.01M553.7,1568.7h.01M447.9,1564.9h.01M477.8,1561.9h.01M596.2,1564.7h.01M498.6,1572.0h.01M504.3,1567.0h.01M496.2,1565.6h.01M404.1,1573.1h.01M454.6,1568.7h.01M416.8,1571.3h.01M436.0,1573.3h.01M565.3,1562.1h.01M621.9,1563.5h.01M628.7,1574.0h.01M494.0,1569.0h.01M544.1,1570.7h.01M477.3,1569.5h.01M507.9,1573.1h.01M456.7,1566.9h.01M533.0,1567.5h.01M500.3,1563.1h.01M484.6,1570.1h.01M438.3,1572.1h.01M518.5,1562.2h.01M635.7,1565.1h.01M523.3,1569.5h.01M484.2,1566.4h.01M480.9,1570.9h.01M558.4,1562.6h.01M450.7,1566.1h.01M488.1,1571.0h.01M496.6,1572.1h.01M553.4,1566.5h.01M535.5,1569.8h.01M438.0,1562.6h.01M557.0,1568.8h.01M552.8,1572.3h.01M478.4,1574.0h.01M476.4,1566.8h.01M493.3,1568.5h.01M536.8,1563.7h.01M499.0,1572.3h.01M425.8,1569.0h.01M476.7,1571.6h.01M472.2,1570.9h.01M494.3,1565.9h.01M503.2,1572.9h.01M485.5,1564.3h.01M457.0,1573.3h.01M415.4,1567.5h.01M524.3,1563.2h.01M484.7,1563.4h.01M420.6,1561.7h.01M404.8,1572.1h.01M481.9,1568.4h.01M555.4,1564.1h.01M483.9,1563.3h.01M493.6,1562.5h.01M468.7,1573.0h.01M500.2,1568.8h.01M477.6,1568.8h.01M479.5,1567.7h.01M538.7,1570.5h.01M497.5,1566.6h.01M506.3,1571.5h.01M496.0,1571.3h.01M459.4,1571.1h.01M481.1,1568.4h.01M405.5,1574.0h.01M451.3,1561.7h.01M473.1,1565.6h.01M614.5,1565.4h.01M421.5,1571.6h.01M488.0,1561.8h.01M513.3,1567.5h.01M470.8,1566.3h.01M483.6,1566.8h.01M470.3,1569.9h.01M584.9,1571.3h.01M508.9,1563.3h.01M544.6,1563.1h.01M420.5,1566.4h.01M492.5,1563.5h.01M551.2,1565.1h.01M470.6,1561.9h.01M500.5,1569.9h.01M546.7,1565.2h.01M482.3,1562.2h.01M480.8,1563.0h.01M551.2,1567.8h.01M410.0,1566.4h.01M562.7,1564.6h.01M523.4,1566.1h.01M533.1,1563.4h.01M408.9,1565.1h.01M422.8,1571.3h.01M466.1,1572.8h.01M545.5,1573.4h.01M514.8,1573.0h.01M471.7,1572.9h.01M455.1,1562.1h.01M500.8,1573.5h.01M523.6,1572.1h.01M515.1,1573.7h.01M562.1,1566.6h.01M500.1,1564.8h.01M492.1,1566.5h.01M422.1,1565.8h.01M491.2,1568.6h.01M541.9,1569.2h.01M588.5,1567.6h.01M477.4,1563.3h.01M439.4,1564.6h.01M406.6,1567.5h.01M489.9,1566.0h.01M456.2,1568.0h.01M433.8,1573.3h.01M559.4,1568.3h.01M412.9,1568.1h.01M601.8,1567.3h.01M528.5,1569.0h.01M450.7,1571.9h.01M564.3,1562.7h.01M512.1,1565.4h.01M426.9,1566.9h.01M486.9,1564.5h.01M544.6,1570.3h.01M491.7,1567.6h.01M414.8,1566.8h.01M430.5,1570.3h.01M513.4,1563.7h.01M560.7,1573.8h.01M471.8,1569.8h.01M548.0,1567.7h.01M480.0,1573.0h.01M573.2,1563.4h.01M560.5,1571.0h.01M478.5,1571.0h.01M421.7,1563.8h.01M468.1,1564.4h.01M507.5,1563.1h.01M489.8,1571.1h.01M511.5,1573.3h.01M618.8,1571.3h.01M518.6,1571.5h.01M409.5,1573.0h.01M513.4,1569.9h.01M478.8,1566.4h.01M475.9,1572.6h.01M619.1,1572.8h.01M567.2,1568.5h.01M413.4,1567.2h.01M518.5,1565.7h.01M493.3,1563.2h.01M422.4,1565.7h.01M629.4,1571.1h.01M515.0,1571.7h.01M406.2,1572.1h.01M514.9,1562.1h.01M547.6,1571.5h.01M501.2,1568.2h.01M562.7,1569.7h.01M521.6,1564.7h.01M516.1,1572.5h.01M530.7,1565.5h.01M461.8,1572.9h.01M512.3,1567.0h.01M424.9,1573.9h.01M576.3,1570.2h.01M432.2,1562.0h.01M622.1,1564.4h.01M412.8,1561.8h.01M415.9,1563.6h.01M438.0,1563.3h.01M420.1,1565.2h.01M509.4,1570.4h.01M558.4,1569.6h.01M433.0,1567.0h.01M487.8,1568.3h.01M481.2,1571.1h.01M559.8,1565.5h.01M539.3,1568.1h.01M501.1,1570.7h.01M505.5,1565.4h.01M411.4,1569.0h.01M539.2,1571.3h.01M486.1,1569.4h.01M479.4,1562.8h.01M435.0,1565.8h.01M515.9,1568.7h.01M506.8,1570.4h.01M504.8,1566.0h.01M511.6,1571.4h.01M496.3,1572.5h.01M502.5,1570.5h.01M497.9,1573.3h.01M494.8,1563.0h.01M575.9,1562.0h.01M537.3,1566.7h.01M447.4,1573.0h.01M507.1,1564.2h.01M421.0,1572.2h.01M589.7,1565.6h.01M405.5,1566.0h.01M481.0,1570.8h.01M559.4,1571.9h.01M457.5,1571.6h.01M413.4,1574.1h.01M491.8,1571.3h.01M559.3,1571.7h.01M421.2,1566.8h.01M477.9,1562.5h.01M478.8,1569.9h.01M536.8,1569.4h.01M535.4,1572.0h.01M428.9,1568.3h.01M424.5,1573.5h.01M511.5,1567.9h.01M550.4,1564.4h.01M597.8,1571.4h.01M524.4,1565.7h.01M623.7,1563.7h.01M548.0,1562.4h.01M557.6,1566.9h.01M417.7,1568.4h.01M554.3,1572.7h.01M510.5,1573.4h.01M435.0,1568.7h.01M483.2,1563.1h.01M441.8,1567.0h.01M451.4,1564.8h.01M429.2,1564.1h.01M549.2,1563.4h.01M528.3,1565.5h.01M502.8,1573.5h.01M627.9,1566.4h.01M534.4,1568.0h.01M498.3,1562.1h.01M572.6,1567.2h.01M504.6,1572.8h.01M418.8,1561.7h.01M505.1,1567.6h.01M486.0,1570.3h.01M574.7,1565.5h.01M522.2,1561.7h.01M421.9,1569.7h.01M410.3,1571.1h.01M412.6,1563.8h.01M495.1,1567.8h.01M482.3,1569.5h.01M613.4,1574.0h.01M535.3,1566.1h.01M580.2,1565.4h.01M533.4,1562.3h.01M497.1,1568.3h.01M553.0,1571.6h.01M476.9,1562.7h.01M488.3,1566.4h.01M564.7,1574.1h.01M502.6,1563.7h.01M497.2,1565.9h.01M546.5,1571.7h.01M431.6,1563.1h.01M408.6,1571.4h.01M521.2,1570.6h.01M435.1,1565.3h.01M432.4,1564.3h.01M503.4,1565.8h.01M501.0,1571.8h.01M575.3,1569.6h.01M616.9,1562.8h.01M495.2,1568.3h.01M492.1,1567.4h.01M555.7,1569.8h.01M420.8,1564.9h.01M533.0,1569.6h.01M497.8,1567.6h.01M492.8,1564.8h.01M588.0,1563.5h.01M438.9,1572.9h.01M506.3,1564.5h.01M564.1,1564.3h.01M416.7,1566.9h.01M495.2,1564.5h.01M445.6,1563.7h.01M493.9,1565.1h.01M419.7,1562.7h.01M562.3,1564.5h.01M504.1,1564.2h.01M519.4,1569.0h.01M609.3,1563.6h.01M446.5,1572.0h.01M534.0,1569.0h.01M482.5,1565.6h.01M606.1,1565.6h.01M508.8,1563.1h.01M496.3,1566.2h.01M457.8,1569.2h.01M461.4,1568.0h.01M406.1,1571.9h.01M439.2,1562.6h.01M492.0,1569.8h.01M486.6,1567.9h.01M561.3,1574.0h.01M411.4,1564.9h.01M437.0,1566.9h.01M519.3,1564.6h.01M490.9,1564.4h.01M434.5,1565.4h.01M415.6,1573.5h.01M550.3,1573.6h.01M583.2,1562.2h.01M473.2,1574.1h.01M532.2,1571.2h.01M556.0,1569.9h.01M495.7,1563.5h.01M506.8,1562.1h.01M491.1,1567.1h.01M441.5,1566.8h.01M491.3,1572.7h.01M431.3,1564.0h.01M560.0,1569.1h.01M439.8,1564.4h.01M537.9,1572.9h.01M636.8,1563.8h.01M544.0,1571.8h.01M584.0,1562.2h.01M547.0,1570.1h.01M554.2,1568.1h.01M553.8,1571.3h.01M486.6,1566.9h.01M572.5,1567.7h.01M404.0,1573.3h.01M495.3,1567.6h.01M522.6,1563.4h.01M474.2,1563.6h.01M582.6,1568.7h.01M563.7,1563.5h.01M419.5,1566.8h.01M413.9,1570.0h.01M586.2,1572.3h.01M410.1,1568.7h.01M540.1,1570.7h.01M417.1,1562.1h.01M533.8,1567.4h.01M566.8,1569.2h.01M486.2,1572.2h.01M436.3,1573.5h.01M638.2,1567.7h.01M430.9,1564.2h.01M501.5,1572.2h.01M481.4,1572.3h.01M528.3,1563.1h.01M419.2,1567.9h.01M573.6,1562.2h.01M490.1,1571.6h.01M540.8,1563.0h.01M499.9,1573.9h.01M428.6,1570.6h.01M427.9,1563.2h.01M405.8,1562.6h.01M494.7,1573.2h.01M447.3,1570.3h.01M471.1,1566.3h.01M547.2,1571.3h.01M415.6,1565.3h.01M433.5,1566.6h.01M550.8,1574.1h.01M471.0,1564.7h.01M488.7,1571.7h.01M478.1,1568.0h.01M489.5,1565.4h.01M516.3,1569.2h.01M442.0,1565.7h.01M446.7,1567.3h.01M456.0,1573.3h.01M611.1,1573.3h.01M504.5,1567.2h.01M514.8,1570.5h.01M537.2,1566.0h.01M541.3,1564.6h.01M422.4,1564.7h.01M424.2,1563.7h.01M469.7,1573.7h.01M588.8,1571.0h.01M468.2,1562.1h.01M582.3,1567.2h.01M449.4,1566.4h.01M531.5,1568.4h.01M621.5,1573.6h.01M411.5,1566.5h.01M450.9,1563.7h.01M504.5,1563.7h.01M411.1,1564.0h.01M535.2,1564.1h.01M559.4,1564.9h.01M581.2,1565.8h.01M616.4,1571.6h.01M500.3,1566.6h.01M474.6,1566.9h.01M494.6,1566.0h.01M407.8,1572.5h.01M444.8,1573.1h.01M431.6,1565.4h.01M438.9,1572.8h.01M490.3,1563.3h.01M520.1,1567.6h.01M538.4,1570.2h.01M570.4,1573.8h.01M509.7,1570.2h.01M472.1,1571.9h.01M537.0,1571.7h.01M559.6,1562.6h.01M582.5,1567.2h.01M417.9,1571.4h.01M407.8,1566.7h.01M515.3,1570.1h.01M406.4,1567.5h.01M430.6,1566.1h.01M479.8,1568.4h.01M530.0,1567.9h.01M468.7,1566.6h.01M512.6,1574.1h.01M527.5,1570.7h.01M515.3,1572.5h.01M533.1,1565.2h.01M555.2,1566.5h.01M546.4,1567.9h.01M483.9,1572.0h.01M407.0,1572.3h.01M487.2,1565.0h.01M489.3,1572.5h.01M496.3,1570.3h.01M451.9,1562.5h.01M596.5,1564.7h.01M501.2,1567.5h.01M607.2,1568.9h.01M492.0,1573.3h.01M505.7,1568.8h.01M587.5,1562.0h.01M524.2,1564.1h.01M436.5,1572.9h.01M510.8,1568.8h.01M481.5,1563.9h.01M516.6,1568.2h.01M414.0,1571.1h.01M561.0,1573.7h.01M522.8,1569.2h.01M520.8,1573.7h.01M445.0,1564.3h.01M591.9,1564.9h.01M408.6,1561.8h.01M556.8,1571.2h.01M558.4,1569.0h.01M511.1,1566.8h.01M558.0,1568.7h.01M619.9,1570.8h.01M471.7,1566.6h.01M558.8,1562.2h.01M503.1,1569.2h.01M490.6,1570.6h.01M444.7,1563.9h.01M405.0,1570.1h.01M482.2,1564.5h.01M449.9,1573.4h.01M419.3,1573.7h.01M505.8,1563.9h.01M529.9,1564.4h.01" stroke="#e8304a" stroke-width="1.1" stroke-linecap="round" opacity=".7"/>
<path d="M638.8,1561.7h.01" stroke="#e8304a" stroke-width="1.1" stroke-linecap="round" opacity=".4"/>
<rect x="465.7" y="1559.9" width="78.3" height="16.1" fill="#fff" fill-opacity=".25" stroke="#3a3033" stroke-width="1.8"/>
<path d="M502.6,1559.9V1576M401.6,1567.9H465.7M544,1567.9H636.8M401.6,1562.7V1573.1M636.8,1562.7V1573.1" stroke="#3a3033" stroke-width="2" fill="none"/>
<rect x="369.8" y="1586.4" width="298.3" height="22.9" fill="url(#cm)"/>
<rect x="659.7" y="1586.9" width="7.6" height="21.9" fill="#cbcbcb" opacity=".66"/>
<rect x="370.6" y="1587.2" width="288.7" height="21.3" fill="none" stroke="#111" stroke-width="1.2"/>
<text x="370.8" y="1631.7" font-size="23" textLength="33" lengthAdjust="spacingAndGlyphs" fill="#000">0.0</text>
<text x="634.1" y="1631.7" font-size="23" textLength="33" lengthAdjust="spacingAndGlyphs" fill="#000">1.0</text>
<text x="449.9" y="1643.3" font-size="24.2" textLength="156" lengthAdjust="spacingAndGlyphs" fill="#000">Gradient value</text>
<path d="M841.0,577.4L1030.0,564.0L1140.0,554.7L1230.0,539.0L1326.0,518.2L1414.8,497.8L1414.8,545.4L1326.0,551.9L1230.0,562.0L1140.0,578.0L1030.0,593.2L999.4,600.0L841.0,636.1Z" fill="#ececec"/>
<path d="M841.0,913.1L961.5,940.9L1030.0,958.2L1085.0,969.9L1140.0,981.6L1181.5,989.2L1230.0,993.8L1326.4,1003.7L1414.8,1009.9L1414.8,1060.1L1326.4,1037.4L1230.0,1014.7L1181.5,1005.0L1140.0,998.8L1085.0,993.3L1030.0,989.5L841.0,976.5Z" fill="#efeeea"/>
<ellipse cx="841.7" cy="489.9" rx="5" ry="3.95" fill="#b6b07e" stroke="#b0a972" stroke-width="1"/>
<ellipse cx="1016" cy="498.2" rx="5" ry="3.95" fill="#b6b07e" stroke="#b0a972" stroke-width="1"/>
<ellipse cx="972.3" cy="537.2" rx="5" ry="3.95" fill="#b6b07e" stroke="#b0a972" stroke-width="1"/>
<ellipse cx="1003.6" cy="550.1" rx="5" ry="3.95" fill="#b6b07e" stroke="#b0a972" stroke-width="1"/>
<ellipse cx="1009.5" cy="569.8" rx="5" ry="3.95" fill="#b6b07e" stroke="#b0a972" stroke-width="1"/>
<ellipse cx="947.5" cy="578.5" rx="5" ry="3.95" fill="#b6b07e" stroke="#b0a972" stroke-width="1"/>
<ellipse cx="1016" cy="598.7" rx="5" ry="3.95" fill="#b6b07e" stroke="#b0a972" stroke-width="1"/>
<ellipse cx="1190.5" cy="480.3" rx="5" ry="3.95" fill="#b6b07e" stroke="#b0a972" stroke-width="1"/>
<ellipse cx="1103.4" cy="484.1" rx="5" ry="3.95" fill="#b6b07e" stroke="#b0a972" stroke-width="1"/>
<ellipse cx="1128.1" cy="484.1" rx="5" ry="3.95" fill="#b6b07e" stroke="#b0a972" stroke-width="1"/>
<ellipse cx="1134.4" cy="491" rx="5" ry="3.95" fill="#b6b07e" stroke="#b0a972" stroke-width="1"/>
<ellipse cx="1165.7" cy="492.9" rx="5" ry="3.95" fill="#b6b07e" stroke="#b0a972" stroke-width="1"/>
<ellipse cx="1209.1" cy="496.1" rx="5" ry="3.95" fill="#b6b07e" stroke="#b0a972" stroke-width="1"/>
<ellipse cx="1202.9" cy="499.3" rx="5" ry="3.95" fill="#b6b07e" stroke="#b0a972" stroke-width="1"/>
<ellipse cx="1221.5" cy="500.5" rx="5" ry="3.95" fill="#b6b07e" stroke="#b0a972" stroke-width="1"/>
<ellipse cx="1090.6" cy="496.8" rx="5" ry="3.95" fill="#b6b07e" stroke="#b0a972" stroke-width="1"/>
<ellipse cx="1090.6" cy="501.6" rx="5" ry="3.95" fill="#b6b07e" stroke="#b0a972" stroke-width="1"/>
<ellipse cx="1053.1" cy="498.2" rx="5" ry="3.95" fill="#b6b07e" stroke="#b0a972" stroke-width="1"/>
<ellipse cx="1065.5" cy="500.9" rx="5" ry="3.95" fill="#b6b07e" stroke="#b0a972" stroke-width="1"/>
<ellipse cx="1040.7" cy="505.1" rx="5" ry="3.95" fill="#b6b07e" stroke="#b0a972" stroke-width="1"/>
<ellipse cx="1128.1" cy="501.6" rx="5" ry="3.95" fill="#b6b07e" stroke="#b0a972" stroke-width="1"/>
<ellipse cx="1134.4" cy="504" rx="5" ry="3.95" fill="#b6b07e" stroke="#b0a972" stroke-width="1"/>
<ellipse cx="1165.7" cy="502.6" rx="5" ry="3.95" fill="#b6b07e" stroke="#b0a972" stroke-width="1"/>
<ellipse cx="1072" cy="511.3" rx="5" ry="3.95" fill="#b6b07e" stroke="#b0a972" stroke-width="1"/>
<ellipse cx="1072" cy="514.7" rx="5" ry="3.95" fill="#b6b07e" stroke="#b0a972" stroke-width="1"/>
<ellipse cx="1153" cy="511.7" rx="5" ry="3.95" fill="#b6b07e" stroke="#b0a972" stroke-width="1"/>
<ellipse cx="1153" cy="519.1" rx="5" ry="3.95" fill="#b6b07e" stroke="#b0a972" stroke-width="1"/>
<ellipse cx="1140.6" cy="518.4" rx="5" ry="3.95" fill="#b6b07e" stroke="#b0a972" stroke-width="1"/>
<ellipse cx="1097.1" cy="520.5" rx="5" ry="3.95" fill="#b6b07e" stroke="#b0a972" stroke-width="1"/>
<ellipse cx="1109.6" cy="519.8" rx="5" ry="3.95" fill="#b6b07e" stroke="#b0a972" stroke-width="1"/>
<ellipse cx="1178.1" cy="518.4" rx="5" ry="3.95" fill="#b6b07e" stroke="#b0a972" stroke-width="1"/>
<ellipse cx="1190.5" cy="517.2" rx="5" ry="3.95" fill="#b6b07e" stroke="#b0a972" stroke-width="1"/>
<ellipse cx="1190.5" cy="522" rx="5" ry="3.95" fill="#b6b07e" stroke="#b0a972" stroke-width="1"/>
<ellipse cx="1140.6" cy="527.8" rx="5" ry="3.95" fill="#b6b07e" stroke="#b0a972" stroke-width="1"/>
<ellipse cx="1072" cy="530.6" rx="5" ry="3.95" fill="#b6b07e" stroke="#b0a972" stroke-width="1"/>
<ellipse cx="1090.6" cy="533.3" rx="5" ry="3.95" fill="#b6b07e" stroke="#b0a972" stroke-width="1"/>
<ellipse cx="1122" cy="534.3" rx="5" ry="3.95" fill="#b6b07e" stroke="#b0a972" stroke-width="1"/>
<ellipse cx="1059.3" cy="540.2" rx="5" ry="3.95" fill="#b6b07e" stroke="#b0a972" stroke-width="1"/>
<ellipse cx="1090.6" cy="543.4" rx="5" ry="3.95" fill="#b6b07e" stroke="#b0a972" stroke-width="1"/>
<ellipse cx="1165.7" cy="539.2" rx="5" ry="3.95" fill="#b6b07e" stroke="#b0a972" stroke-width="1"/>
<ellipse cx="1202.9" cy="537.9" rx="5" ry="3.95" fill="#b6b07e" stroke="#b0a972" stroke-width="1"/>
<ellipse cx="1190.5" cy="541.6" rx="5" ry="3.95" fill="#7089d6" stroke="#4a6cd6" stroke-width="1"/>
<ellipse cx="1215.3" cy="542" rx="5" ry="3.95" fill="#b6b07e" stroke="#b0a972" stroke-width="1"/>
<ellipse cx="1227" cy="544" rx="5" ry="3.95" fill="#b6b07e" stroke="#b0a972" stroke-width="1"/>
<ellipse cx="1178.1" cy="543.6" rx="5" ry="3.95" fill="#b6b07e" stroke="#b0a972" stroke-width="1"/>
<ellipse cx="1178.1" cy="548.5" rx="5" ry="3.95" fill="#b6b07e" stroke="#b0a972" stroke-width="1"/>
<ellipse cx="1097.1" cy="554.4" rx="5" ry="3.95" fill="#b6b07e" stroke="#b0a972" stroke-width="1"/>
<ellipse cx="1140.6" cy="553.6" rx="5" ry="3.95" fill="#b6b07e" stroke="#b0a972" stroke-width="1"/>
<ellipse cx="1059.3" cy="558.8" rx="5" ry="3.95" fill="#b6b07e" stroke="#b0a972" stroke-width="1"/>
<ellipse cx="1034.5" cy="563.9" rx="5" ry="3.95" fill="#b6b07e" stroke="#b0a972" stroke-width="1"/>
<ellipse cx="1040.7" cy="570.5" rx="5" ry="3.95" fill="#b6b07e" stroke="#b0a972" stroke-width="1"/>
<ellipse cx="1090.6" cy="573.3" rx="5" ry="3.95" fill="#b6b07e" stroke="#b0a972" stroke-width="1"/>
<ellipse cx="1122" cy="572.8" rx="5" ry="3.95" fill="#b6b07e" stroke="#b0a972" stroke-width="1"/>
<ellipse cx="1140.6" cy="575.6" rx="5" ry="3.95" fill="#b6b07e" stroke="#b0a972" stroke-width="1"/>
<ellipse cx="1128.1" cy="579.2" rx="5" ry="3.95" fill="#b6b07e" stroke="#b0a972" stroke-width="1"/>
<ellipse cx="1078.2" cy="579.4" rx="5" ry="3.95" fill="#b6b07e" stroke="#b0a972" stroke-width="1"/>
<ellipse cx="1084.4" cy="580.1" rx="5" ry="3.95" fill="#b6b07e" stroke="#b0a972" stroke-width="1"/>
<ellipse cx="1053.1" cy="583.9" rx="5" ry="3.95" fill="#b6b07e" stroke="#b0a972" stroke-width="1"/>
<ellipse cx="1072" cy="582.9" rx="5" ry="3.95" fill="#b6b07e" stroke="#b0a972" stroke-width="1"/>
<ellipse cx="1072" cy="585.6" rx="5" ry="3.95" fill="#b6b07e" stroke="#b0a972" stroke-width="1"/>
<ellipse cx="1090.6" cy="587.7" rx="5" ry="3.95" fill="#b6b07e" stroke="#b0a972" stroke-width="1"/>
<ellipse cx="1165.7" cy="579.7" rx="5" ry="3.95" fill="#b6b07e" stroke="#b0a972" stroke-width="1"/>
<ellipse cx="1178.1" cy="580.8" rx="5" ry="3.95" fill="#b6b07e" stroke="#b0a972" stroke-width="1"/>
<ellipse cx="1209.1" cy="578.1" rx="5" ry="3.95" fill="#b6b07e" stroke="#b0a972" stroke-width="1"/>
<ellipse cx="1122" cy="590.5" rx="5" ry="3.95" fill="#b6b07e" stroke="#b0a972" stroke-width="1"/>
<ellipse cx="1128.1" cy="591.4" rx="5" ry="3.95" fill="#b6b07e" stroke="#b0a972" stroke-width="1"/>
<ellipse cx="1140.6" cy="590.5" rx="5" ry="3.95" fill="#7089d6" stroke="#4a6cd6" stroke-width="1"/>
<ellipse cx="1109.6" cy="593.9" rx="5" ry="3.95" fill="#b6b07e" stroke="#b0a972" stroke-width="1"/>
<ellipse cx="1040.7" cy="599.1" rx="5" ry="3.95" fill="#b6b07e" stroke="#b0a972" stroke-width="1"/>
<ellipse cx="1290.3" cy="447.6" rx="5" ry="3.95" fill="#7089d6" stroke="#4a6cd6" stroke-width="1"/>
<ellipse cx="1290.3" cy="492.3" rx="5" ry="3.95" fill="#7089d6" stroke="#4a6cd6" stroke-width="1"/>
<ellipse cx="1240.3" cy="500.2" rx="5" ry="3.95" fill="#7089d6" stroke="#4a6cd6" stroke-width="1"/>
<ellipse cx="1321.6" cy="523.3" rx="5" ry="3.95" fill="#7089d6" stroke="#4a6cd6" stroke-width="1"/>
<ellipse cx="1340.2" cy="526.8" rx="5" ry="3.95" fill="#7089d6" stroke="#4a6cd6" stroke-width="1"/>
<ellipse cx="1321.6" cy="537.2" rx="5" ry="3.95" fill="#7089d6" stroke="#4a6cd6" stroke-width="1"/>
<ellipse cx="1402.6" cy="516.4" rx="5" ry="3.95" fill="#7089d6" stroke="#4a6cd6" stroke-width="1"/>
<ellipse cx="1252.7" cy="566.4" rx="5" ry="3.95" fill="#7089d6" stroke="#4a6cd6" stroke-width="1"/>
<ellipse cx="1277.8" cy="567.3" rx="5" ry="3.95" fill="#7089d6" stroke="#4a6cd6" stroke-width="1"/>
<ellipse cx="1302.7" cy="565.4" rx="5" ry="3.95" fill="#7089d6" stroke="#4a6cd6" stroke-width="1"/>
<ellipse cx="1271.3" cy="574.6" rx="5" ry="3.95" fill="#7089d6" stroke="#4a6cd6" stroke-width="1"/>
<ellipse cx="1290.3" cy="581.9" rx="5" ry="3.95" fill="#7089d6" stroke="#4a6cd6" stroke-width="1"/>
<ellipse cx="1365" cy="566.4" rx="5" ry="3.95" fill="#7089d6" stroke="#4a6cd6" stroke-width="1"/>
<ellipse cx="1408.7" cy="582.6" rx="5" ry="3.95" fill="#7089d6" stroke="#4a6cd6" stroke-width="1"/>
<ellipse cx="1340.2" cy="595" rx="5" ry="3.95" fill="#7089d6" stroke="#4a6cd6" stroke-width="1"/>
<ellipse cx="1240.3" cy="482.8" rx="5" ry="3.95" fill="#b6b07e" stroke="#b0a972" stroke-width="1"/>
<ellipse cx="1252.7" cy="489.2" rx="5" ry="3.95" fill="#b6b07e" stroke="#b0a972" stroke-width="1"/>
<ellipse cx="1346.4" cy="493.4" rx="5" ry="3.95" fill="#b6b07e" stroke="#b0a972" stroke-width="1"/>
<ellipse cx="1383.9" cy="507.4" rx="5" ry="3.95" fill="#b6b07e" stroke="#b0a972" stroke-width="1"/>
<ellipse cx="1340.2" cy="513.7" rx="5" ry="3.95" fill="#b6b07e" stroke="#b0a972" stroke-width="1"/>
<ellipse cx="1277.8" cy="517.5" rx="5" ry="3.95" fill="#b6b07e" stroke="#b0a972" stroke-width="1"/>
<ellipse cx="1302.7" cy="519.3" rx="5" ry="3.95" fill="#b6b07e" stroke="#b0a972" stroke-width="1"/>
<ellipse cx="1271.3" cy="532.6" rx="5" ry="3.95" fill="#b6b07e" stroke="#b0a972" stroke-width="1"/>
<ellipse cx="1296.5" cy="535.8" rx="5" ry="3.95" fill="#b6b07e" stroke="#b0a972" stroke-width="1"/>
<ellipse cx="1302.7" cy="555.3" rx="5" ry="3.95" fill="#b6b07e" stroke="#b0a972" stroke-width="1"/>
<ellipse cx="1240.3" cy="575.3" rx="5" ry="3.95" fill="#b6b07e" stroke="#b0a972" stroke-width="1"/>
<ellipse cx="1240.3" cy="584.3" rx="5" ry="3.95" fill="#b6b07e" stroke="#b0a972" stroke-width="1"/>
<ellipse cx="1277.8" cy="586.7" rx="5" ry="3.95" fill="#b6b07e" stroke="#b0a972" stroke-width="1"/>
<ellipse cx="1415" cy="587.7" rx="5" ry="3.95" fill="#b6b07e" stroke="#b0a972" stroke-width="1"/>
<ellipse cx="935" cy="610.7" rx="5" ry="3.95" fill="#b6b07e" stroke="#b0a972" stroke-width="1"/>
<ellipse cx="909.9" cy="629.9" rx="5" ry="3.95" fill="#b6b07e" stroke="#b0a972" stroke-width="1"/>
<ellipse cx="1016" cy="617.2" rx="5" ry="3.95" fill="#b6b07e" stroke="#b0a972" stroke-width="1"/>
<ellipse cx="1003.6" cy="629.9" rx="5" ry="3.95" fill="#b6b07e" stroke="#b0a972" stroke-width="1"/>
<ellipse cx="1016" cy="633.7" rx="5" ry="3.95" fill="#b6b07e" stroke="#b0a972" stroke-width="1"/>
<ellipse cx="1040.7" cy="607.2" rx="5" ry="3.95" fill="#b6b07e" stroke="#b0a972" stroke-width="1"/>
<ellipse cx="1078.2" cy="602.8" rx="5" ry="3.95" fill="#b6b07e" stroke="#b0a972" stroke-width="1"/>
<ellipse cx="1065.5" cy="612" rx="5" ry="3.95" fill="#b6b07e" stroke="#b0a972" stroke-width="1"/>
<ellipse cx="1078.2" cy="612.7" rx="5" ry="3.95" fill="#b6b07e" stroke="#b0a972" stroke-width="1"/>
<ellipse cx="1090.6" cy="611" rx="5" ry="3.95" fill="#b6b07e" stroke="#b0a972" stroke-width="1"/>
<ellipse cx="1134.4" cy="610.3" rx="5" ry="3.95" fill="#b6b07e" stroke="#b0a972" stroke-width="1"/>
<ellipse cx="1153" cy="606.2" rx="5" ry="3.95" fill="#b6b07e" stroke="#b0a972" stroke-width="1"/>
<ellipse cx="1178.1" cy="604.8" rx="5" ry="3.95" fill="#b6b07e" stroke="#b0a972" stroke-width="1"/>
<ellipse cx="1072" cy="621.8" rx="5" ry="3.95" fill="#b6b07e" stroke="#b0a972" stroke-width="1"/>
<ellipse cx="1040.7" cy="626.2" rx="5" ry="3.95" fill="#b6b07e" stroke="#b0a972" stroke-width="1"/>
<ellipse cx="1059.3" cy="629.9" rx="5" ry="3.95" fill="#b6b07e" stroke="#b0a972" stroke-width="1"/>
<ellipse cx="1109.6" cy="624.8" rx="5" ry="3.95" fill="#b6b07e" stroke="#b0a972" stroke-width="1"/>
<ellipse cx="1109.6" cy="631.3" rx="5" ry="3.95" fill="#b6b07e" stroke="#b0a972" stroke-width="1"/>
<ellipse cx="1090.6" cy="632.8" rx="5" ry="3.95" fill="#b6b07e" stroke="#b0a972" stroke-width="1"/>
<ellipse cx="1122" cy="637.2" rx="5" ry="3.95" fill="#b6b07e" stroke="#b0a972" stroke-width="1"/>
<ellipse cx="1040.7" cy="638.3" rx="5" ry="3.95" fill="#b6b07e" stroke="#b0a972" stroke-width="1"/>
<ellipse cx="1178.1" cy="665" rx="5" ry="3.95" fill="#b6b07e" stroke="#b0a972" stroke-width="1"/>
<ellipse cx="1078.2" cy="674" rx="5" ry="3.95" fill="#b6b07e" stroke="#b0a972" stroke-width="1"/>
<ellipse cx="1040.7" cy="697.1" rx="5" ry="3.95" fill="#b6b07e" stroke="#b0a972" stroke-width="1"/>
<ellipse cx="1034.5" cy="698.9" rx="5" ry="3.95" fill="#b6b07e" stroke="#b0a972" stroke-width="1"/>
<ellipse cx="1053.1" cy="703.6" rx="5" ry="3.95" fill="#b6b07e" stroke="#b0a972" stroke-width="1"/>
<ellipse cx="1097.1" cy="698.8" rx="5" ry="3.95" fill="#b6b07e" stroke="#b0a972" stroke-width="1"/>
<ellipse cx="1078.2" cy="763.6" rx="5" ry="3.95" fill="#b6b07e" stroke="#b0a972" stroke-width="1"/>
<ellipse cx="1302.7" cy="605.1" rx="5" ry="3.95" fill="#7089d6" stroke="#4a6cd6" stroke-width="1"/>
<ellipse cx="1246.5" cy="653.4" rx="5" ry="3.95" fill="#b6b07e" stroke="#b0a972" stroke-width="1"/>
<ellipse cx="1016" cy="874.8" rx="5" ry="3.95" fill="#b0aa62" stroke="#aaa458" stroke-width="1"/>
<ellipse cx="1003.6" cy="909.9" rx="5" ry="3.95" fill="#b0aa62" stroke="#aaa458" stroke-width="1"/>
<ellipse cx="1016" cy="911.7" rx="5" ry="3.95" fill="#b0aa62" stroke="#aaa458" stroke-width="1"/>
<ellipse cx="1016" cy="924.4" rx="5" ry="3.95" fill="#b0aa62" stroke="#aaa458" stroke-width="1"/>
<ellipse cx="909.9" cy="931" rx="5" ry="3.95" fill="#b0aa62" stroke="#aaa458" stroke-width="1"/>
<ellipse cx="935" cy="928.9" rx="5" ry="3.95" fill="#b0aa62" stroke="#aaa458" stroke-width="1"/>
<ellipse cx="1078.2" cy="795.9" rx="5" ry="3.95" fill="#b0aa62" stroke="#aaa458" stroke-width="1"/>
<ellipse cx="1040.7" cy="852.3" rx="5" ry="3.95" fill="#b0aa62" stroke="#aaa458" stroke-width="1"/>
<ellipse cx="1053.1" cy="857.9" rx="5" ry="3.95" fill="#b0aa62" stroke="#aaa458" stroke-width="1"/>
<ellipse cx="1034.5" cy="863.8" rx="5" ry="3.95" fill="#b0aa62" stroke="#aaa458" stroke-width="1"/>
<ellipse cx="1078.2" cy="860.1" rx="5" ry="3.95" fill="#b0aa62" stroke="#aaa458" stroke-width="1"/>
<ellipse cx="1097.1" cy="853" rx="5" ry="3.95" fill="#b0aa62" stroke="#aaa458" stroke-width="1"/>
<ellipse cx="1109.6" cy="886.8" rx="5" ry="3.95" fill="#b0aa62" stroke="#aaa458" stroke-width="1"/>
<ellipse cx="1040.7" cy="895.5" rx="5" ry="3.95" fill="#b0aa62" stroke="#aaa458" stroke-width="1"/>
<ellipse cx="1040.7" cy="906.2" rx="5" ry="3.95" fill="#b0aa62" stroke="#aaa458" stroke-width="1"/>
<ellipse cx="1178.1" cy="894.4" rx="5" ry="3.95" fill="#b0aa62" stroke="#aaa458" stroke-width="1"/>
<ellipse cx="1078.2" cy="915.2" rx="5" ry="3.95" fill="#b0aa62" stroke="#aaa458" stroke-width="1"/>
<ellipse cx="1090.6" cy="925.8" rx="5" ry="3.95" fill="#b0aa62" stroke="#aaa458" stroke-width="1"/>
<ellipse cx="1059.3" cy="928.8" rx="5" ry="3.95" fill="#b0aa62" stroke="#aaa458" stroke-width="1"/>
<ellipse cx="1109.6" cy="929.2" rx="5" ry="3.95" fill="#b0aa62" stroke="#aaa458" stroke-width="1"/>
<ellipse cx="1122" cy="926.4" rx="5" ry="3.95" fill="#b0aa62" stroke="#aaa458" stroke-width="1"/>
<ellipse cx="1128.1" cy="931" rx="5" ry="3.95" fill="#b0aa62" stroke="#aaa458" stroke-width="1"/>
<ellipse cx="1134.4" cy="932.2" rx="5" ry="3.95" fill="#b0aa62" stroke="#aaa458" stroke-width="1"/>
<ellipse cx="1122" cy="936.8" rx="5" ry="3.95" fill="#b0aa62" stroke="#aaa458" stroke-width="1"/>
<ellipse cx="1040.7" cy="932" rx="5" ry="3.95" fill="#b0aa62" stroke="#aaa458" stroke-width="1"/>
<ellipse cx="1040.7" cy="940.6" rx="5" ry="3.95" fill="#b0aa62" stroke="#aaa458" stroke-width="1"/>
<ellipse cx="1072" cy="941.3" rx="5" ry="3.95" fill="#b0aa62" stroke="#aaa458" stroke-width="1"/>
<ellipse cx="1065.5" cy="947.1" rx="5" ry="3.95" fill="#b0aa62" stroke="#aaa458" stroke-width="1"/>
<ellipse cx="1053.1" cy="948.1" rx="5" ry="3.95" fill="#b0aa62" stroke="#aaa458" stroke-width="1"/>
<ellipse cx="1034.5" cy="950.8" rx="5" ry="3.95" fill="#b0aa62" stroke="#aaa458" stroke-width="1"/>
<ellipse cx="1109.6" cy="951.1" rx="5" ry="3.95" fill="#b0aa62" stroke="#aaa458" stroke-width="1"/>
<ellipse cx="1140.6" cy="950.1" rx="5" ry="3.95" fill="#6e6eb8" stroke="#4c4cb0" stroke-width="1"/>
<ellipse cx="1153" cy="946" rx="5" ry="3.95" fill="#b0aa62" stroke="#aaa458" stroke-width="1"/>
<ellipse cx="1165.7" cy="951.5" rx="5" ry="3.95" fill="#b0aa62" stroke="#aaa458" stroke-width="1"/>
<ellipse cx="1246.5" cy="890.2" rx="5" ry="3.95" fill="#b0aa62" stroke="#aaa458" stroke-width="1"/>
<ellipse cx="1277.8" cy="947.1" rx="5" ry="3.95" fill="#b0aa62" stroke="#aaa458" stroke-width="1"/>
<ellipse cx="1302.7" cy="937.7" rx="5" ry="3.95" fill="#6e6eb8" stroke="#4c4cb0" stroke-width="1"/>
<ellipse cx="1340.2" cy="932.9" rx="5" ry="3.95" fill="#6e6eb8" stroke="#4c4cb0" stroke-width="1"/>
<ellipse cx="1408.7" cy="952.6" rx="5" ry="3.95" fill="#6e6eb8" stroke="#4c4cb0" stroke-width="1"/>
<ellipse cx="947.5" cy="972.9" rx="5" ry="3.95" fill="#b0aa62" stroke="#aaa458" stroke-width="1"/>
<ellipse cx="1009.5" cy="978.6" rx="5" ry="3.95" fill="#b0aa62" stroke="#aaa458" stroke-width="1"/>
<ellipse cx="972.3" cy="1011.5" rx="5" ry="3.95" fill="#b0aa62" stroke="#aaa458" stroke-width="1"/>
<ellipse cx="1003.6" cy="1019.5" rx="5" ry="3.95" fill="#b0aa62" stroke="#aaa458" stroke-width="1"/>
<ellipse cx="841.3" cy="1076.7" rx="5" ry="3.95" fill="#b0aa62" stroke="#aaa458" stroke-width="1"/>
<ellipse cx="1016" cy="1081.1" rx="5" ry="3.95" fill="#b0aa62" stroke="#aaa458" stroke-width="1"/>
<ellipse cx="1040.7" cy="960.3" rx="5" ry="3.95" fill="#b0aa62" stroke="#aaa458" stroke-width="1"/>
<ellipse cx="1072" cy="960.3" rx="5" ry="3.95" fill="#b0aa62" stroke="#aaa458" stroke-width="1"/>
<ellipse cx="1090.6" cy="956.8" rx="5" ry="3.95" fill="#b0aa62" stroke="#aaa458" stroke-width="1"/>
<ellipse cx="1097.1" cy="956.1" rx="5" ry="3.95" fill="#b0aa62" stroke="#aaa458" stroke-width="1"/>
<ellipse cx="1090.6" cy="961" rx="5" ry="3.95" fill="#b0aa62" stroke="#aaa458" stroke-width="1"/>
<ellipse cx="1084.4" cy="965.8" rx="5" ry="3.95" fill="#b0aa62" stroke="#aaa458" stroke-width="1"/>
<ellipse cx="1059.3" cy="981.3" rx="5" ry="3.95" fill="#b0aa62" stroke="#aaa458" stroke-width="1"/>
<ellipse cx="1059.3" cy="983.7" rx="5" ry="3.95" fill="#b0aa62" stroke="#aaa458" stroke-width="1"/>
<ellipse cx="1078.2" cy="980.9" rx="5" ry="3.95" fill="#b0aa62" stroke="#aaa458" stroke-width="1"/>
<ellipse cx="1078.2" cy="985.7" rx="5" ry="3.95" fill="#b0aa62" stroke="#aaa458" stroke-width="1"/>
<ellipse cx="1090.6" cy="987.1" rx="5" ry="3.95" fill="#b0aa62" stroke="#aaa458" stroke-width="1"/>
<ellipse cx="1140.6" cy="984" rx="5" ry="3.95" fill="#b0aa62" stroke="#aaa458" stroke-width="1"/>
<ellipse cx="1128.1" cy="991" rx="5" ry="3.95" fill="#b0aa62" stroke="#aaa458" stroke-width="1"/>
<ellipse cx="1178.1" cy="980.9" rx="5" ry="3.95" fill="#b0aa62" stroke="#aaa458" stroke-width="1"/>
<ellipse cx="1178.1" cy="986.4" rx="5" ry="3.95" fill="#b0aa62" stroke="#aaa458" stroke-width="1"/>
<ellipse cx="1165.7" cy="994.4" rx="5" ry="3.95" fill="#b0aa62" stroke="#aaa458" stroke-width="1"/>
<ellipse cx="1122" cy="998.1" rx="5" ry="3.95" fill="#b0aa62" stroke="#aaa458" stroke-width="1"/>
<ellipse cx="1072" cy="1001.2" rx="5" ry="3.95" fill="#b0aa62" stroke="#aaa458" stroke-width="1"/>
<ellipse cx="1178.1" cy="1003.9" rx="5" ry="3.95" fill="#b0aa62" stroke="#aaa458" stroke-width="1"/>
<ellipse cx="1227" cy="1004.3" rx="5" ry="3.95" fill="#b0aa62" stroke="#aaa458" stroke-width="1"/>
<ellipse cx="1122" cy="1009.2" rx="5" ry="3.95" fill="#b0aa62" stroke="#aaa458" stroke-width="1"/>
<ellipse cx="1190.5" cy="1016" rx="5" ry="3.95" fill="#6e6eb8" stroke="#4c4cb0" stroke-width="1"/>
<ellipse cx="1202.9" cy="1019.5" rx="5" ry="3.95" fill="#b0aa62" stroke="#aaa458" stroke-width="1"/>
<ellipse cx="1215.3" cy="1020.5" rx="5" ry="3.95" fill="#b0aa62" stroke="#aaa458" stroke-width="1"/>
<ellipse cx="1040.7" cy="1024" rx="5" ry="3.95" fill="#b0aa62" stroke="#aaa458" stroke-width="1"/>
<ellipse cx="1190.5" cy="1028.4" rx="5" ry="3.95" fill="#b0aa62" stroke="#aaa458" stroke-width="1"/>
<ellipse cx="1202.9" cy="1028.7" rx="5" ry="3.95" fill="#b0aa62" stroke="#aaa458" stroke-width="1"/>
<ellipse cx="1097.1" cy="1028.4" rx="5" ry="3.95" fill="#b0aa62" stroke="#aaa458" stroke-width="1"/>
<ellipse cx="1097.1" cy="1032.6" rx="5" ry="3.95" fill="#b0aa62" stroke="#aaa458" stroke-width="1"/>
<ellipse cx="1140.6" cy="1027.1" rx="5" ry="3.95" fill="#b0aa62" stroke="#aaa458" stroke-width="1"/>
<ellipse cx="1140.6" cy="1030.5" rx="5" ry="3.95" fill="#b0aa62" stroke="#aaa458" stroke-width="1"/>
<ellipse cx="1134.4" cy="1033.7" rx="5" ry="3.95" fill="#b0aa62" stroke="#aaa458" stroke-width="1"/>
<ellipse cx="1153" cy="1030.2" rx="5" ry="3.95" fill="#b0aa62" stroke="#aaa458" stroke-width="1"/>
<ellipse cx="1153" cy="1041.1" rx="5" ry="3.95" fill="#b0aa62" stroke="#aaa458" stroke-width="1"/>
<ellipse cx="1065.5" cy="1040.8" rx="5" ry="3.95" fill="#b0aa62" stroke="#aaa458" stroke-width="1"/>
<ellipse cx="1090.6" cy="1043.3" rx="5" ry="3.95" fill="#b0aa62" stroke="#aaa458" stroke-width="1"/>
<ellipse cx="1103.4" cy="1044.3" rx="5" ry="3.95" fill="#b0aa62" stroke="#aaa458" stroke-width="1"/>
<ellipse cx="1090.6" cy="1049.4" rx="5" ry="3.95" fill="#b0aa62" stroke="#aaa458" stroke-width="1"/>
<ellipse cx="1178.1" cy="1040.8" rx="5" ry="3.95" fill="#b0aa62" stroke="#aaa458" stroke-width="1"/>
<ellipse cx="1178.1" cy="1044.3" rx="5" ry="3.95" fill="#b0aa62" stroke="#aaa458" stroke-width="1"/>
<ellipse cx="1178.1" cy="1055" rx="5" ry="3.95" fill="#b0aa62" stroke="#aaa458" stroke-width="1"/>
<ellipse cx="1053.1" cy="1056.7" rx="5" ry="3.95" fill="#b0aa62" stroke="#aaa458" stroke-width="1"/>
<ellipse cx="1072" cy="1054.6" rx="5" ry="3.95" fill="#b0aa62" stroke="#aaa458" stroke-width="1"/>
<ellipse cx="1072" cy="1057.4" rx="5" ry="3.95" fill="#b0aa62" stroke="#aaa458" stroke-width="1"/>
<ellipse cx="1103.4" cy="1056" rx="5" ry="3.95" fill="#b0aa62" stroke="#aaa458" stroke-width="1"/>
<ellipse cx="1109.6" cy="1061.8" rx="5" ry="3.95" fill="#b0aa62" stroke="#aaa458" stroke-width="1"/>
<ellipse cx="1134.4" cy="1065.9" rx="5" ry="3.95" fill="#b0aa62" stroke="#aaa458" stroke-width="1"/>
<ellipse cx="1140.6" cy="1072.5" rx="5" ry="3.95" fill="#b0aa62" stroke="#aaa458" stroke-width="1"/>
<ellipse cx="1165.7" cy="1064.5" rx="5" ry="3.95" fill="#b0aa62" stroke="#aaa458" stroke-width="1"/>
<ellipse cx="1165.7" cy="1072.2" rx="5" ry="3.95" fill="#b0aa62" stroke="#aaa458" stroke-width="1"/>
<ellipse cx="1178.1" cy="1065.9" rx="5" ry="3.95" fill="#b0aa62" stroke="#aaa458" stroke-width="1"/>
<ellipse cx="1190.5" cy="1064.3" rx="5" ry="3.95" fill="#b0aa62" stroke="#aaa458" stroke-width="1"/>
<ellipse cx="1209.1" cy="1061.2" rx="5" ry="3.95" fill="#b0aa62" stroke="#aaa458" stroke-width="1"/>
<ellipse cx="1209.1" cy="1068.1" rx="5" ry="3.95" fill="#b0aa62" stroke="#aaa458" stroke-width="1"/>
<ellipse cx="1221.5" cy="1060.1" rx="5" ry="3.95" fill="#b0aa62" stroke="#aaa458" stroke-width="1"/>
<ellipse cx="1090.6" cy="1073.6" rx="5" ry="3.95" fill="#b0aa62" stroke="#aaa458" stroke-width="1"/>
<ellipse cx="1128.1" cy="1084.2" rx="5" ry="3.95" fill="#b0aa62" stroke="#aaa458" stroke-width="1"/>
<ellipse cx="1128.1" cy="1093.9" rx="5" ry="3.95" fill="#b0aa62" stroke="#aaa458" stroke-width="1"/>
<ellipse cx="1190.5" cy="1099.8" rx="5" ry="3.95" fill="#b0aa62" stroke="#aaa458" stroke-width="1"/>
<ellipse cx="1190.5" cy="1110.1" rx="5" ry="3.95" fill="#b0aa62" stroke="#aaa458" stroke-width="1"/>
<ellipse cx="1252.7" cy="966.5" rx="5" ry="3.95" fill="#6e6eb8" stroke="#4c4cb0" stroke-width="1"/>
<ellipse cx="1290.3" cy="968.3" rx="5" ry="3.95" fill="#6e6eb8" stroke="#4c4cb0" stroke-width="1"/>
<ellipse cx="1302.7" cy="961" rx="5" ry="3.95" fill="#6e6eb8" stroke="#4c4cb0" stroke-width="1"/>
<ellipse cx="1365" cy="960.3" rx="5" ry="3.95" fill="#6e6eb8" stroke="#4c4cb0" stroke-width="1"/>
<ellipse cx="1271.3" cy="984.4" rx="5" ry="3.95" fill="#6e6eb8" stroke="#4c4cb0" stroke-width="1"/>
<ellipse cx="1277.8" cy="990.6" rx="5" ry="3.95" fill="#6e6eb8" stroke="#4c4cb0" stroke-width="1"/>
<ellipse cx="1321.6" cy="996.5" rx="5" ry="3.95" fill="#6e6eb8" stroke="#4c4cb0" stroke-width="1"/>
<ellipse cx="1240.3" cy="1011" rx="5" ry="3.95" fill="#6e6eb8" stroke="#4c4cb0" stroke-width="1"/>
<ellipse cx="1340.2" cy="1010.5" rx="5" ry="3.95" fill="#6e6eb8" stroke="#4c4cb0" stroke-width="1"/>
<ellipse cx="1402.6" cy="1025.7" rx="5" ry="3.95" fill="#6e6eb8" stroke="#4c4cb0" stroke-width="1"/>
<ellipse cx="1321.6" cy="1053" rx="5" ry="3.95" fill="#6e6eb8" stroke="#4c4cb0" stroke-width="1"/>
<ellipse cx="1290.3" cy="1077.8" rx="5" ry="3.95" fill="#6e6eb8" stroke="#4c4cb0" stroke-width="1"/>
<ellipse cx="1290.3" cy="1089.5" rx="5" ry="3.95" fill="#6e6eb8" stroke="#4c4cb0" stroke-width="1"/>
<ellipse cx="1240.3" cy="972.4" rx="5" ry="3.95" fill="#b0aa62" stroke="#aaa458" stroke-width="1"/>
<ellipse cx="1240.3" cy="989.6" rx="5" ry="3.95" fill="#b0aa62" stroke="#aaa458" stroke-width="1"/>
<ellipse cx="1302.7" cy="993.7" rx="5" ry="3.95" fill="#b0aa62" stroke="#aaa458" stroke-width="1"/>
<ellipse cx="1415" cy="979.5" rx="5" ry="3.95" fill="#b0aa62" stroke="#aaa458" stroke-width="1"/>
<ellipse cx="1296.5" cy="1016.5" rx="5" ry="3.95" fill="#b0aa62" stroke="#aaa458" stroke-width="1"/>
<ellipse cx="1340.2" cy="1012.3" rx="5" ry="3.95" fill="#b0aa62" stroke="#aaa458" stroke-width="1"/>
<ellipse cx="1383.9" cy="1032.6" rx="5" ry="3.95" fill="#b0aa62" stroke="#aaa458" stroke-width="1"/>
<ellipse cx="1271.3" cy="1040.6" rx="5" ry="3.95" fill="#b0aa62" stroke="#aaa458" stroke-width="1"/>
<ellipse cx="1277.8" cy="1050.2" rx="5" ry="3.95" fill="#b0aa62" stroke="#aaa458" stroke-width="1"/>
<ellipse cx="1252.7" cy="1052.8" rx="5" ry="3.95" fill="#b0aa62" stroke="#aaa458" stroke-width="1"/>
<ellipse cx="1240.3" cy="1061.5" rx="5" ry="3.95" fill="#b0aa62" stroke="#aaa458" stroke-width="1"/>
<ellipse cx="1302.7" cy="1065.6" rx="5" ry="3.95" fill="#b0aa62" stroke="#aaa458" stroke-width="1"/>
<ellipse cx="1346.4" cy="1079" rx="5" ry="3.95" fill="#b0aa62" stroke="#aaa458" stroke-width="1"/>
<path d="M839.4,606.2L1416.6,522.6" stroke="#808080" stroke-width="2.6"/>
<path d="M839.4,945.3L1416.6,1032.6" stroke="#7a706c" stroke-width="2.6"/>
<path d="M961.2,427.4V1129.2" stroke="#404040" stroke-width="1.9" stroke-dasharray="11.7 12.24"/>
<path d="M1145.6,427.4V1129.2" stroke="#404040" stroke-width="1.9" stroke-dasharray="11.7 12.24"/>
<path d="M1327.3,427.4V1129.2" stroke="#404040" stroke-width="1.9" stroke-dasharray="11.7 12.24"/>
<rect x="822.9" y="429.2" width="611.1" height="700" fill="none" stroke="#333" stroke-width="1.35"/>
<path d="M822.9,777H1434" stroke="#333" stroke-width="1.35"/>
<path d="M822.9,462.2h-5.5" stroke="#333" stroke-width="1.1"/>
<text x="810.4" y="466.7" font-size="13.2" text-anchor="end" textLength="23.6" lengthAdjust="spacingAndGlyphs" fill="#222">0.8</text>
<path d="M822.9,503.65h-5.5" stroke="#333" stroke-width="1.1"/>
<text x="810.4" y="508.15" font-size="13.2" text-anchor="end" textLength="23.6" lengthAdjust="spacingAndGlyphs" fill="#222">0.6</text>
<path d="M822.9,545.1h-5.5" stroke="#333" stroke-width="1.1"/>
<text x="810.4" y="549.6" font-size="13.2" text-anchor="end" textLength="23.6" lengthAdjust="spacingAndGlyphs" fill="#222">0.4</text>
<path d="M822.9,586.55h-5.5" stroke="#333" stroke-width="1.1"/>
<text x="810.4" y="591.05" font-size="13.2" text-anchor="end" textLength="23.6" lengthAdjust="spacingAndGlyphs" fill="#222">0.2</text>
<path d="M822.9,628h-5.5" stroke="#333" stroke-width="1.1"/>
<text x="810.4" y="632.5" font-size="13.2" text-anchor="end" textLength="23.6" lengthAdjust="spacingAndGlyphs" fill="#222">0.0</text>
<path d="M822.9,669.45h-5.5" stroke="#333" stroke-width="1.1"/>
<path d="M774.6,669.55h9.4" stroke="#222" stroke-width="1.1"/>
<text x="810.4" y="673.95" font-size="13.2" text-anchor="end" textLength="23.6" lengthAdjust="spacingAndGlyphs" fill="#222">0.2</text>
<path d="M822.9,710.9h-5.5" stroke="#333" stroke-width="1.1"/>
<path d="M774.6,711h9.4" stroke="#222" stroke-width="1.1"/>
<text x="810.4" y="715.4" font-size="13.2" text-anchor="end" textLength="23.6" lengthAdjust="spacingAndGlyphs" fill="#222">0.4</text>
<path d="M822.9,752.35h-5.5" stroke="#333" stroke-width="1.1"/>
<path d="M774.6,752.45h9.4" stroke="#222" stroke-width="1.1"/>
<text x="810.4" y="756.85" font-size="13.2" text-anchor="end" textLength="23.6" lengthAdjust="spacingAndGlyphs" fill="#222">0.6</text>
<path d="M822.9,789.5h-5.5" stroke="#333" stroke-width="1.1"/>
<text x="810.4" y="794" font-size="13.2" text-anchor="end" textLength="23.6" lengthAdjust="spacingAndGlyphs" fill="#222">0.4</text>
<path d="M822.9,866.75h-5.5" stroke="#333" stroke-width="1.1"/>
<text x="810.4" y="871.25" font-size="13.2" text-anchor="end" textLength="23.6" lengthAdjust="spacingAndGlyphs" fill="#222">0.2</text>
<path d="M822.9,944h-5.5" stroke="#333" stroke-width="1.1"/>
<text x="810.4" y="948.5" font-size="13.2" text-anchor="end" textLength="23.6" lengthAdjust="spacingAndGlyphs" fill="#222">0.0</text>
<path d="M822.9,1021.25h-5.5" stroke="#333" stroke-width="1.1"/>
<path d="M774.6,1021.35h9.4" stroke="#222" stroke-width="1.1"/>
<text x="810.4" y="1025.75" font-size="13.2" text-anchor="end" textLength="23.6" lengthAdjust="spacingAndGlyphs" fill="#222">0.2</text>
<path d="M822.9,1098.5h-5.5" stroke="#333" stroke-width="1.1"/>
<path d="M774.6,1098.6h9.4" stroke="#222" stroke-width="1.1"/>
<text x="810.4" y="1103" font-size="13.2" text-anchor="end" textLength="23.6" lengthAdjust="spacingAndGlyphs" fill="#222">0.4</text>
<path d="M897,1129.2v4.5" stroke="#333" stroke-width="1.1"/>
<text x="897" y="1147.6" font-size="12.6" text-anchor="middle" textLength="18.6" lengthAdjust="spacingAndGlyphs" fill="#222">40</text>
<path d="M1021.5,1129.2v4.5" stroke="#333" stroke-width="1.1"/>
<text x="1021.5" y="1147.6" font-size="12.6" text-anchor="middle" textLength="18.6" lengthAdjust="spacingAndGlyphs" fill="#222">60</text>
<path d="M1146,1129.2v4.5" stroke="#333" stroke-width="1.1"/>
<text x="1146" y="1147.6" font-size="12.6" text-anchor="middle" textLength="18.6" lengthAdjust="spacingAndGlyphs" fill="#222">80</text>
<path d="M1270.5,1129.2v4.5" stroke="#333" stroke-width="1.1"/>
<text x="1270.5" y="1147.6" font-size="12.6" text-anchor="middle" textLength="27.5" lengthAdjust="spacingAndGlyphs" fill="#222">100</text>
<path d="M1395,1129.2v4.5" stroke="#333" stroke-width="1.1"/>
<text x="1395" y="1147.6" font-size="12.6" text-anchor="middle" textLength="27.5" lengthAdjust="spacingAndGlyphs" fill="#222">120</text>
<text x="975" y="1180.5" font-size="26" textLength="274" lengthAdjust="spacingAndGlyphs" fill="#000">Vineland-II Daily Living</text>
<text transform="translate(760.6,616.9) rotate(-90)" font-size="31" font-style="italic" fill="#111">z</text>
<text transform="translate(750,602.6) rotate(-90) scale(.74,1)" font-size="22" fill="#111">2</text>
<text transform="translate(760.6,964.5) rotate(-90)" font-size="31" font-style="italic" fill="#111">z</text>
<text transform="translate(750,950.2) rotate(-90) scale(.74,1)" font-size="22" fill="#111">4</text>
<text x="833.5" y="464.3" font-size="27" textLength="104.5" lengthAdjust="spacingAndGlyphs" fill="#000">r = 0.28</text>
<text x="833.5" y="498.4" font-size="27" textLength="213" lengthAdjust="spacingAndGlyphs" fill="#000">p-value = 0.033</text>
<text x="833.5" y="810.2" font-size="27" textLength="115" lengthAdjust="spacingAndGlyphs" fill="#000">r = -0.26</text>
<text x="833.5" y="844" font-size="27" textLength="213" lengthAdjust="spacingAndGlyphs" fill="#000">p-value = 0.035</text>
<rect x="1335.5" y="435.5" width="90" height="40" rx="3" fill="#fff" fill-opacity=".8" stroke="#d4d4d4" stroke-width="1"/>
<ellipse cx="1357.5" cy="446.4" rx="5.2" ry="4.2" fill="#8aa4ee" stroke="#7896ea" stroke-width=".8"/>
<ellipse cx="1357.5" cy="464.5" rx="5.2" ry="4.2" fill="#d6d2a4" stroke="#ccc894" stroke-width=".8"/>
<text x="1378.5" y="451.8" font-size="13.3" fill="#000">NT</text>
<text x="1378.5" y="468.9" font-size="13.3" fill="#000">ASD</text>
<rect x="940.8" y="397.4" width="40.6" height="40.4" fill="#efc1a3" stroke="#2e2825" stroke-width="1.6"/>
<path d="M964.72,403.29 L962.62,403.29 L960.86,406.04 L957.56,408.52 L954.80,410.01 L955.46,412.76 L958.66,411.11 L961.69,408.36 L961.69,429.46 L964.72,429.46 Z" fill="#000"/>
<rect x="1124.3" y="397.4" width="40.6" height="40.4" fill="#e78562" stroke="#2e2825" stroke-width="1.6"/>
<text x="1144.3" y="429.5" font-size="36.5" text-anchor="middle" fill="#000">2</text>
<rect x="1306.1" y="397.4" width="40.2" height="40.4" fill="#d14752" stroke="#2e2825" stroke-width="1.6"/>
<text x="1325.9" y="429.5" font-size="36.5" text-anchor="middle" fill="#000">3</text>
<rect x="813.1" y="1202.5" width="629.2" height="418.2" fill="none" stroke="#2a2a2a" stroke-width="1.6"/>
<path d="M813.1,1255.6h-6.2" stroke="#2a2a2a" stroke-width="1.5"/>
<text x="799.8" y="1261.7" font-size="16" text-anchor="end" textLength="37.6" lengthAdjust="spacingAndGlyphs" fill="#1a1a1a">0.10</text>
<path d="M813.1,1340.4h-6.2" stroke="#2a2a2a" stroke-width="1.5"/>
<text x="799.8" y="1346.5" font-size="16" text-anchor="end" textLength="37.6" lengthAdjust="spacingAndGlyphs" fill="#1a1a1a">0.08</text>
<path d="M813.1,1425.4h-6.2" stroke="#2a2a2a" stroke-width="1.5"/>
<text x="799.8" y="1431.5" font-size="16" text-anchor="end" textLength="37.6" lengthAdjust="spacingAndGlyphs" fill="#1a1a1a">0.06</text>
<path d="M813.1,1510.4h-6.2" stroke="#2a2a2a" stroke-width="1.5"/>
<text x="799.8" y="1516.5" font-size="16" text-anchor="end" textLength="37.6" lengthAdjust="spacingAndGlyphs" fill="#1a1a1a">0.04</text>
<path d="M813.1,1595.4h-6.2" stroke="#2a2a2a" stroke-width="1.5"/>
<text x="799.8" y="1601.5" font-size="16" text-anchor="end" textLength="37.6" lengthAdjust="spacingAndGlyphs" fill="#1a1a1a">0.02</text>
<path d="M952.7,1620.7v6.2" stroke="#2a2a2a" stroke-width="1.5"/>
<text x="952.7" y="1643.9" font-size="16" text-anchor="middle" textLength="20.6" lengthAdjust="spacingAndGlyphs" fill="#1a1a1a">50</text>
<path d="M1127.5,1620.7v6.2" stroke="#2a2a2a" stroke-width="1.5"/>
<text x="1127.5" y="1643.9" font-size="16" text-anchor="middle" textLength="20.6" lengthAdjust="spacingAndGlyphs" fill="#1a1a1a">80</text>
<path d="M1302.3,1620.7v6.2" stroke="#2a2a2a" stroke-width="1.5"/>
<text x="1302.3" y="1643.9" font-size="16" text-anchor="middle" textLength="31.2" lengthAdjust="spacingAndGlyphs" fill="#1a1a1a">110</text>
<path d="M952.8,1222L1127.6,1479.2L1302.4,1601.7" fill="none" stroke="#000" stroke-width="2.6" stroke-dasharray="16.6 4.2 2.6 4.2"/>
<rect x="946.8" y="1216" width="12" height="12" fill="#000"/>
<rect x="1121.6" y="1473.2" width="12" height="12" fill="#000"/>
<rect x="1296.4" y="1595.7" width="12" height="12" fill="#000"/>
<text transform="translate(752.7,1435.4) rotate(-90)" font-size="19.5" fill="#1a1a1a" textLength="42.6" lengthAdjust="spacingAndGlyphs">RSME</text>
<text x="975" y="1680.8" font-size="26" textLength="274" lengthAdjust="spacingAndGlyphs" fill="#000">Vineland-II Daily Living</text>
</svg></body></html>
